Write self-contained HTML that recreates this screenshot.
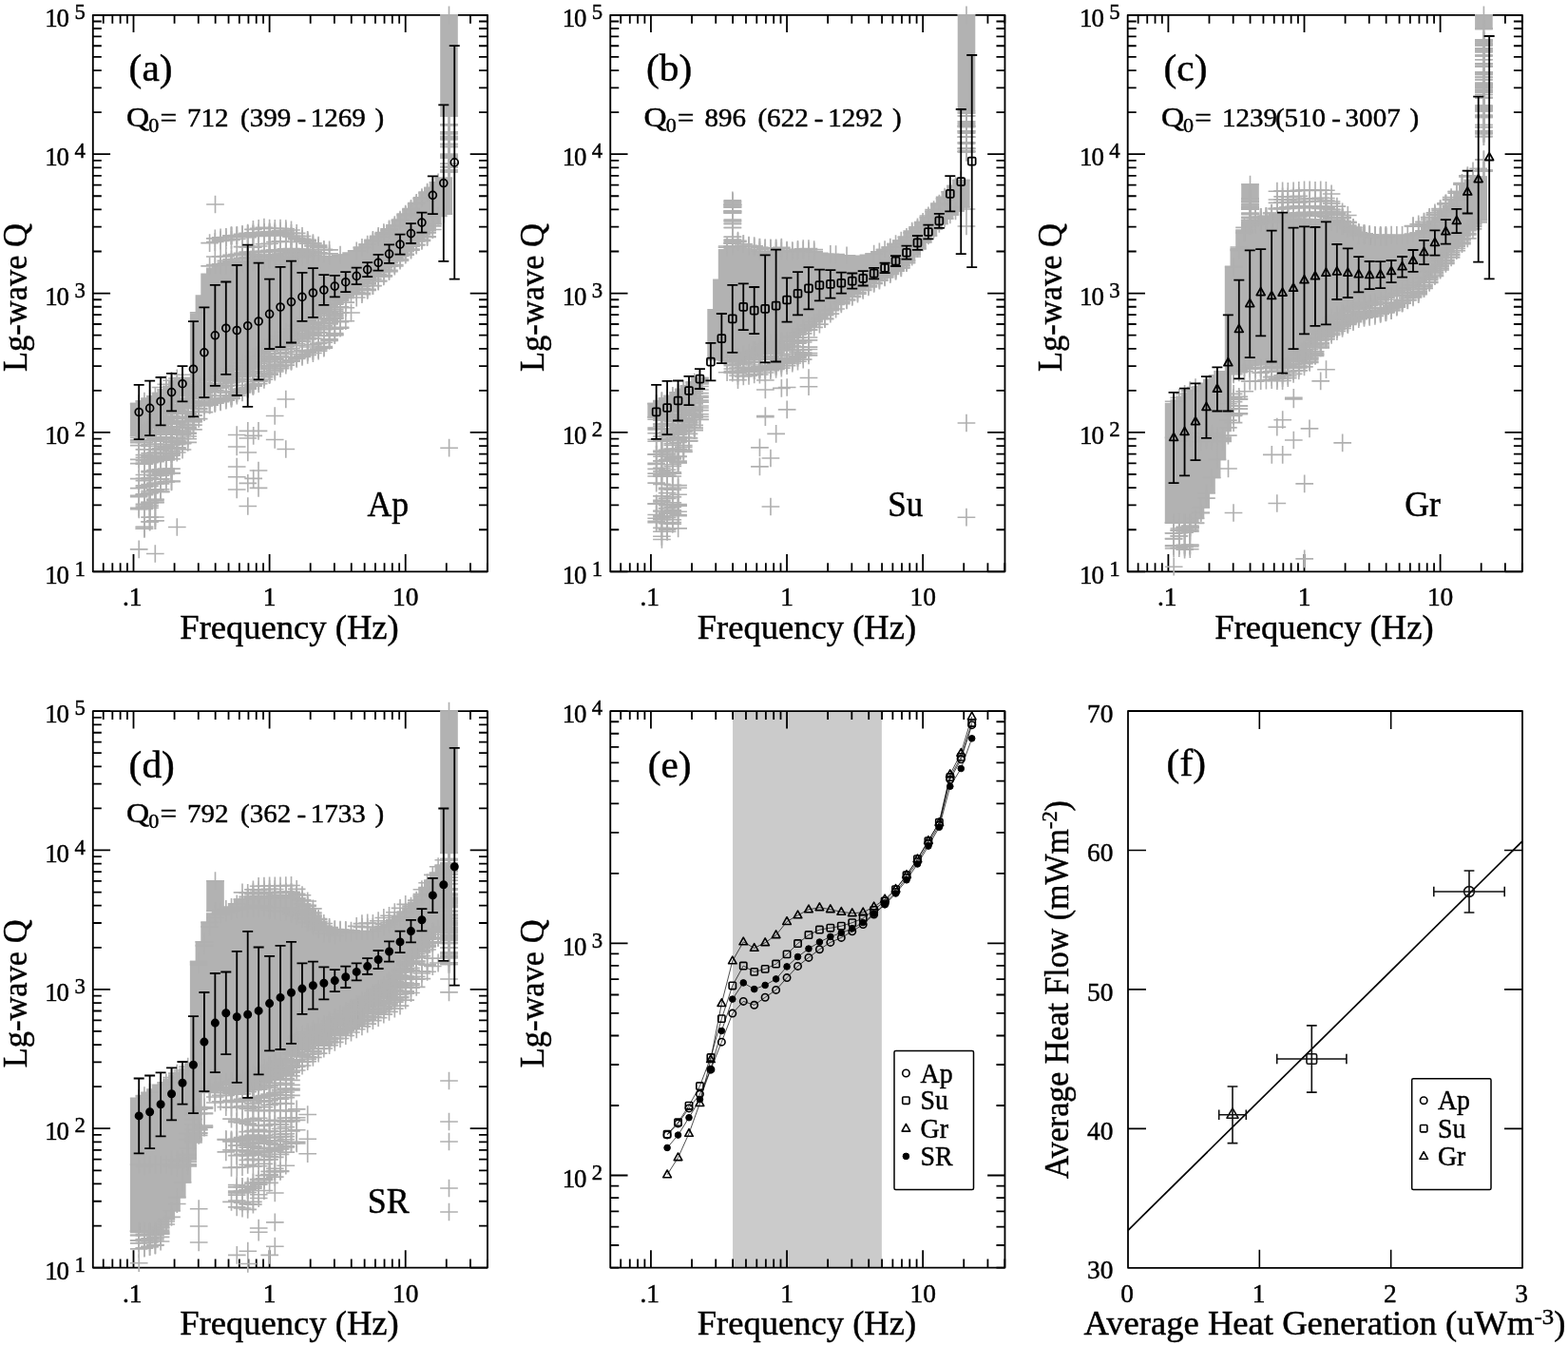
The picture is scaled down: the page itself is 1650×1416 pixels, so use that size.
<!DOCTYPE html>
<html lang="en"><head><meta charset="utf-8"><title>Lg-wave Q versus frequency</title>
<style>
html,body{margin:0;padding:0;background:#fff;}
body{width:1650px;height:1416px;overflow:hidden;font-family:"Liberation Serif",serif;}
svg{display:block;}
.k{fill:none;stroke:none;marker-start:url(#c);marker-mid:url(#c);marker-end:url(#c);}
</style></head><body>
<svg width="1650" height="1416" viewBox="0 0 1650 1416" font-family="'Liberation Serif',serif" fill="#000" stroke="#000" stroke-width="0">
<defs><marker id="c" markerWidth="20" markerHeight="20" refX="10" refY="10" markerUnits="userSpaceOnUse" orient="0"><path d="M.7 10h18.6M10 .6v18.8" stroke="#b0b0b0" stroke-width="1.65" fill="none"/></marker></defs>
<rect width="1650" height="1416" fill="#fff"/>
<g id="panel-a">
<path d="M108.75 15.8v9M108.75 601.3v-9M118.33 15.8v9M118.33 601.3v-9M126.63 15.8v9M126.63 601.3v-9M133.95 15.8v9M133.95 601.3v-9M140.5 15.8v18.3M140.5 601.3v-18.3M183.58 15.8v9M183.58 601.3v-9M208.78 15.8v9M208.78 601.3v-9M226.65 15.8v9M226.65 601.3v-9M240.52 15.8v9M240.52 601.3v-9M251.85 15.8v9M251.85 601.3v-9M261.43 15.8v9M261.43 601.3v-9M269.73 15.8v9M269.73 601.3v-9M277.05 15.8v9M277.05 601.3v-9M283.6 15.8v18.3M283.6 601.3v-18.3M326.68 15.8v9M326.68 601.3v-9M351.88 15.8v9M351.88 601.3v-9M369.75 15.8v9M369.75 601.3v-9M383.62 15.8v9M383.62 601.3v-9M394.95 15.8v9M394.95 601.3v-9M404.53 15.8v9M404.53 601.3v-9M412.83 15.8v9M412.83 601.3v-9M420.15 15.8v9M420.15 601.3v-9M426.7 15.8v18.3M426.7 601.3v-18.3M469.78 15.8v9M469.78 601.3v-9M494.98 15.8v9M494.98 601.3v-9M512.85 15.8v9M512.85 601.3v-9M97.8 601.3h18.3M513 601.3h-18.3M97.8 557.24h9M513 557.24h-9M97.8 531.46h9M513 531.46h-9M97.8 513.17h9M513 513.17h-9M97.8 498.99h9M513 498.99h-9M97.8 487.4h9M513 487.4h-9M97.8 477.6h9M513 477.6h-9M97.8 469.11h9M513 469.11h-9M97.8 461.62h9M513 461.62h-9M97.8 454.93h18.3M513 454.93h-18.3M97.8 410.86h9M513 410.86h-9M97.8 385.09h9M513 385.09h-9M97.8 366.8h9M513 366.8h-9M97.8 352.61h9M513 352.61h-9M97.8 341.02h9M513 341.02h-9M97.8 331.22h9M513 331.22h-9M97.8 322.74h9M513 322.74h-9M97.8 315.25h9M513 315.25h-9M97.8 308.55h18.3M513 308.55h-18.3M97.8 264.49h9M513 264.49h-9M97.8 238.71h9M513 238.71h-9M97.8 220.42h9M513 220.42h-9M97.8 206.24h9M513 206.24h-9M97.8 194.65h9M513 194.65h-9M97.8 184.85h9M513 184.85h-9M97.8 176.36h9M513 176.36h-9M97.8 168.87h9M513 168.87h-9M97.8 162.18h18.3M513 162.18h-18.3M97.8 118.11h9M513 118.11h-9M97.8 92.34h9M513 92.34h-9M97.8 74.05h9M513 74.05h-9M97.8 59.86h9M513 59.86h-9M97.8 48.27h9M513 48.27h-9M97.8 38.47h9M513 38.47h-9M97.8 29.99h9M513 29.99h-9M97.8 22.5h9M513 22.5h-9M97.8 15.8h18.3M513 15.8h-18.3" stroke="#000" stroke-width="1.8" fill="none"/>
<rect x="97.8" y="15.8" width="415.2" height="585.5" fill="none" stroke="#000" stroke-width="1.85" stroke-linejoin="round"/>
<path d="M136.9 423.8h18.6v35.3h-18.6zM142.6 421.2h18.6v32.1h-18.6zM148.3 418.6h18.6v29h-18.6zM154.1 416h18.6v25.9h-18.6zM159.8 412.7h18.6v23.5h-18.6zM165.5 409.3h18.6v21.2h-18.6zM171.2 405.8h18.6v18.4h-18.6zM177 401.3h18.6v15.8h-18.6zM182.7 396.7h18.6v14.1h-18.6zM199.9 329.5h18.6v73.5h-18.6zM205.6 310.3h18.6v91.1h-18.6zM211.3 287.4h18.6v112.3h-18.6zM217 281.5h18.6v116.5h-18.6zM222.8 278.9h18.6v115.8h-18.6zM228.5 278.3h18.6v113h-18.6zM234.2 277.7h18.6v110.1h-18.6zM239.9 277.2h18.6v107.9h-18.6zM245.7 276.6h18.6v105.6h-18.6zM251.4 276h18.6v103.3h-18.6zM257.1 275.5h18.6v99.7h-18.6zM262.8 275.1h18.6v95.4h-18.6zM268.6 274.6h18.6v91.1h-18.6zM274.3 274.1h18.6v87h-18.6zM280 273.6h18.6v83.7h-18.6zM285.7 273.2h18.6v80.4h-18.6zM291.5 272.7h18.6v77h-18.6zM297.2 271.7h18.6v74.6h-18.6zM302.9 270.8h18.6v72.2h-18.6zM308.6 269.8h18.6v69.8h-18.6zM314.4 268.9h18.6v67.6h-18.6zM320.1 267.9h18.6v65.7h-18.6zM325.8 268.5h18.6v62.2h-18.6zM331.5 269.4h18.6v58.4h-18.6zM337.3 269h18.6v54.9h-18.6zM343 269.1h18.6v50.8h-18.6zM348.7 269.2h18.6v46.7h-18.6zM354.4 267.6h18.6v44.9h-18.6zM360.2 265.3h18.6v43.7h-18.6zM365.9 263h18.6v39.3h-18.6zM371.6 259.6h18.6v39h-18.6zM377.3 256.2h18.6v38.9h-18.6zM383.1 252.7h18.6v38.7h-18.6zM388.8 248.9h18.6v38.4h-18.6zM394.5 245.1h18.6v37.2h-18.6zM400.2 241.3h18.6v36h-18.6zM406 237.4h18.6v34.9h-18.6zM411.7 231.5h18.6v35.7h-18.6zM417.4 225.6h18.6v36.3h-18.6zM423.1 219.7h18.6v37.3h-18.6zM428.9 213.8h18.6v38.4h-18.6zM434.6 208.1h18.6v39.4h-18.6zM440.3 202.4h18.6v40.9h-18.6zM446 196.7h18.6v39.7h-18.6zM451.8 191h18.6v37.1h-18.6zM457.5 186.5h18.6v39.4h-18.6zM463.2 15h18.6v107.8h-18.6z" fill="#b2b2b2" stroke="none"/>
<path class="k" d="M169.1 407.5l5.7-3.2l5.7-4M186.3 398l5.7-3.7M146.2 460.3l5.7-5.7l5.7-5.8M260.7 270.2l5.7 .1l5.8 .1l5.7-1.1l5.7-1.2l5.7 .3l5.7-1.3l5.8-.9l5.7-.8l5.7-.5l5.8-.1l5.7-.2l5.7-2.1M277.9 273.9l5.7-.5l5.7 .1l5.7 .1l5.8-1l5.7-.4l5.7-1l5.8-.9M260.7 379l5.7-3.9l5.8-4.4l5.7-5.4l5.7-4.5l5.7-3.8l5.7-3.8l5.8-3.9l5.7-3.4l5.7-3.3l5.8-3.4l5.7-3.1l5.7-2.9l5.7-2.8l5.7-2.9l5.8-4l5.7-3.4M209.2 404.8l5.7-1.9l5.7-2.6l5.7-1l5.8-3.9l5.7-4l5.7-3.2l5.8-3.1l5.7-3.2l5.7-2.3l5.7-3.8l5.8-5.3l5.7-3.2M220.6 406.2l5.7-2.3l5.8-3l5.7-2.7l5.7-3l5.8-3.5l5.7-2.6l5.7-2.4l5.7-4.5l5.8-4.9l5.7-5.4l5.7-4.6l5.7-3.7l5.7-5l5.8-3.4M392.4 252.3l5.7-3.9l5.7-3.8l5.7-3.7l5.8-4.2l5.7-5.6l5.7-6l5.8-5.6l5.7-6l5.7-5.8l5.7-5.6M415.3 273.7l5.7-5.2l5.7-5l5.8-5l5.7-5.2l5.7-4.5l5.7-4.3l5.7-6.7M472.5 145.9h0M472.5 143.6h0M472.5 175.4h0M472.5 145.1h0M472.5 131.7h0M472.5 180.8h0M472.5 151.6h0M472.5 154.4h0M472.5 176h0M472.5 140.7h0M472.5 146.6h0M472.5 130.7h0M472.5 164.7h0M472.5 164.6h0M472.5 166.1h0M472.5 138.9h0M472.5 172.2h0M472.5 178.9h0M472.5 162.3h0M472.5 163.6h0M283.6 263.2l5.7 .3l5.7 .4l5.8-2l5.7-.4l5.7 .5l5.8 0l5.7 .8l5.7 1.7l5.7 1.3M220.6 255.6l5.7-1.1l5.8-1.1l5.7-.8l5.7-.2l5.8-.9l5.7-2.1l5.7 .4l5.7-1.9l5.8 .5l5.7-1.5l5.7-.2l5.7 1.1l5.7-1l5.8-.6l5.7 2.3l5.7 3.1l5.8 2.9M226.3 270l5.8-.3l5.7-.1l5.7-1.2l5.8-.7l5.7 .2l5.7-.7l5.7-1.9l5.8-.6l5.7 .6l5.7-1.4l5.7 0l5.7 .7l5.8 .1l5.7 0l5.7-.6l5.8-.4l5.7 .7l5.7 .4l5.7 .9l5.7 1.3l5.8-.2M266.4 241.3l5.8-1l5.7-1.1l5.7 1l5.7 .1l5.7-.1l5.8 .5l5.7 1.3l5.7 3.3l5.8 3.2l5.7 3.8l5.7 3.4l5.7 2.4M255 259.6l5.7 .4l5.7 .1l5.8-1.1l5.7-2.3l5.7-.5l5.7-1.7l5.7-.6l5.8 .6M243.5 276.9l5.8 .2l5.7-1l5.7-.9l5.7 0l5.8-1.6l5.7 .5M243.5 248.1l5.8-.5l5.7 .1l5.7-2.5l5.7-.4l5.8 .1l5.7-.5l5.7-.1l5.7 .9l5.7-.3l5.8-.9l5.7 1.4l5.7 2.9l5.8 2.9l5.7 2.3M232.1 277.7l5.7-1.3l5.7-1.1l5.8 .7l5.7-1.6l5.7 .9l5.7 .3l5.8-2l5.7-1.5l5.7 .2l5.7-1.5l5.7-1.6l5.8 .5l5.7-.6l5.7 .3l5.8-1.1l5.7-.2M255 266.3l5.7-1.1l5.7 .4l5.8-1.1l5.7 0l5.7-.1l5.7-1.1M220.6 279.9l5.7-1.3l5.8 .5l5.7-.1l5.7-.5l5.8-.5l5.7-.7l5.7-1.6l5.7-1.3l5.8-1.1l5.7-.7l5.7 .5l5.7-.1l5.7-1.5l5.8 .2l5.7-1.5l5.7-1l5.8-.3l5.7-.1l5.7-.1M277.9 246.7l5.7 1l5.7-1.2l5.7-.2l5.8 .7l5.7 1.6l5.7 1.7l5.8 1.9l5.7 2.8l5.7 2l5.7 2.9l5.7 2.7l5.8 .2M237.8 274.4l5.7-1.5l5.8-.2l5.7-1l5.7 .4l5.7-1.3l5.8-1.6l5.7 .5l5.7-1.3l5.7 .9l5.7-1.6l5.8-.8l5.7 .1l5.7-.2l5.8 0l5.7-.2l5.7 .1M232.1 252.1l5.7-2.6l5.7-1.4l5.8-.2l5.7-.3l5.7-1.4l5.7 .8l5.8-.3l5.7-1.3l5.7 .5l5.7 .1l5.7 0l5.8-.3l5.7 3.2l5.7 2.4l5.8 2.4l5.7 2.5l5.7 2.7l5.7 1.4l5.7 2.3M255 268.1l5.7 .1l5.7-.3l5.8-2.2l5.7-1.2l5.7-.7l5.7-.6l5.7 0l5.8-.4l5.7 .5l5.7 1.3M226.3 250.8l5.8-.9l5.7-.2l5.7-2l5.8 .1l5.7-1.5l5.7 .4l5.7-.2l5.8-1.3l5.7-.8l5.7-.5l5.7-.3l5.7-.7l5.8-.2M249.2 394.8l5.8-2.8l5.7-3.5l5.7-3.3l5.8-5.1l5.7-5.8l5.7-4.8l5.7-4.7l5.7-4.2l5.8-2.4l5.7-3.3l5.7-1.7l5.8-2.4l5.7-4.3l5.7-.9l5.7-1.3l5.7-4.3l5.8-3.8l5.7-5.4M209.2 414.6l5.7-2.3l5.7-.4l5.7-.4l5.8-3.6l5.7-1.7l5.7-3.7l5.8-2.3l5.7-4.1l5.7-2.9l5.7-4.7l5.8-3l5.7-4.6l5.7-5.1l5.7-3.9l5.7-4.5l5.8-3.6l5.7-2.5l5.7-2.4l5.8-2.5l5.7-3.2l5.7-1.5l5.7-1.5l5.7-3.9l5.8-6l5.7-6.2l5.7-5l5.8-5.3M237.8 399.6l5.7-2.7l5.8-2.2l5.7-2.4l5.7-3.9l5.7-4.4l5.8-5.1l5.7-3l5.7-4.3l5.7-3.5l5.7-4.8l5.8-3.2l5.7-2.9l5.7-4.8l5.8-3.7l5.7-4.1l5.7-3.5l5.7-2.8l5.7-2.6M209.2 423.3l5.7-1.1l5.7-1.7l5.7-1.3l5.8-3.1l5.7-2.9l5.7-1.7l5.8-2l5.7-4.1l5.7-3.7l5.7-2.6l5.8-3.6l5.7-3.3l5.7-5l5.7-4l5.7-4.4l5.8-2.8l5.7-3.5l5.7-2.5l5.8-1.5l5.7-3.5l5.7-2.1l5.7-1.5l5.7-1.1l5.8-7.1l5.7-7l5.7-7.5M220.6 423.8l5.7-1.1l5.8-1.5l5.7-2.6l5.7-1.8l5.8-4.4l5.7-3.3l5.7-1.6l5.7-3.4l5.8-3.5M220.6 412.5l5.7-2.1l5.8-2.9l5.7-2l5.7-3.1l5.8-3.7l5.7-2l5.7-2.6l5.7-2.5l5.8-3.3l5.7-3.4l5.7-4.9l5.7-3.3l5.7-4.9l5.8-4.6l5.7-3.7l5.7-1.8l5.8-2.2l5.7-4l5.7-3l5.7-3l5.7-2.8l5.8-5.7l5.7-5.5M243.5 393.5l5.8-2l5.7-2.9l5.7-3.9l5.7-3.2l5.8-3.7l5.7-5.4l5.7-5.9l5.7-3.6l5.7-3.6l5.8-3.5l5.7-2l5.7-3.1l5.8-2.6l5.7-4.7l5.7-2.6l5.7-1.8l5.7-4.3l5.8-5.8l5.7-3.5M232.1 420.2l5.7-1.5l5.7-2.6l5.8-2.3l5.7-2.9l5.7-1.9l5.7-4.2l5.8-4.1l5.7-4.4l5.7-3M295 364.7l5.8-3.2l5.7-2.8l5.7-2.2l5.8-3.9l5.7-2.2l5.7-2.4l5.7-1.8l5.7-2.2l5.8-4.8l5.7-4.8M237.8 421.1l5.7-1.7l5.8-3.3l5.7-3.2l5.7-3.9l5.7-2.7l5.8-2.6l5.7-4.4l5.7-5l5.7-4.6l5.7-3.8l5.8-4.2l5.7-1.4l5.7-4.2l5.8-3.3l5.7-3.3l5.7-1.1l5.7-.8l5.7-3l5.8-7.7l5.7-6.3l5.7-6.2M226.3 423l5.8-2.5l5.7-2l5.7-2l5.8-2.9l5.7-2.8l5.7-3l5.7-2.4l5.8-4.4M214.9 426.9l5.7-1.3l5.7-1.6l5.8-1.2l5.7-2.2l5.7-2l5.8-4.3l5.7-2l5.7-3.4l5.7-4.4l5.8-4.9l5.7-2.9l5.7-2.5l5.7-3.2l5.7-3.4l5.8-3.5l5.7-4.8l5.7-1.9l5.8-2.1l5.7-1.9l5.7-1.9l5.7-2.3l5.7-3.5l5.8-7.3l5.7-5.8l5.7-7.5l5.8-7.4l5.7-8.7M214.9 426.4l5.7-.2l5.7-1.9l5.8-2.3l5.7-3.4l5.7-1.6l5.8-4.3l5.7-1.8l5.7-2l5.7-2.8l5.8-5.3l5.7-4.6l5.7-3.2l5.7-5l5.7-3.7l5.8-3.7l5.7-1.6l5.7-2.8l5.8-2l5.7-3.4l5.7-1.3l5.7-2.5l5.7-.9l5.8-8.4l5.7-5.8M255 388.1l5.7-1.7l5.7-2.9l5.8-5.5l5.7-5l5.7-4.4l5.7-2.6l5.7-3.7l5.8-5.5l5.7-4.7l5.7-4.1l5.8-2.4l5.7-2.3l5.7-1.9l5.7-1.8l5.7-4.2l5.8-4.7l5.7-3.6l5.7-4.2l5.8-4.8M209.2 411.3l5.7-1.1l5.7-1.3l5.7-.9l5.8-4.1l5.7-3l5.7-2.1l5.8-2.7l5.7-2.1l5.7-2.8l5.7-4.4M277.9 368.6l5.7-5.1l5.7-2.6l5.7-3.9l5.8-3.4l5.7-4.2l5.7-2.5l5.8-4.8l5.7-4.2l5.7-3.8l5.7-1.9l5.7-1.9l5.8-5.1M209.2 412.6l5.7-2.5l5.7 0l5.7-1.6l5.8-2.1l5.7-3.4l5.7-2.1l5.8-1.9l5.7-4.1l5.7-3.8l5.7-4.6l5.8-3.7l5.7-4.3l5.7-3l5.7-3.6l5.7-3.4l5.8-3.8l5.7-4l5.7-2.5l5.8-4.1l5.7-1.5l5.7-2.7l5.7-3.5l5.7-3.6l5.8-5.6l5.7-5.1M266.4 393.6l5.8-3.4l5.7-4.2l5.7-5.4l5.7-3.2l5.7-2.8l5.8-4.1l5.7-3.9l5.7-3.3l5.8-4.3l5.7-2l5.7-.9l5.7-2.6M375.2 313l5.7-4.8l5.8-3.9l5.7-3.8l5.7-5.1l5.7-5.5l5.7-5.6l5.8-5.7l5.7-5.8l5.7-5.4l5.8-5.3l5.7-4.8l5.7-4.9l5.7-3.7M398.1 289.7l5.7-5.2l5.7-5.5l5.8-4.8l5.7-4.9l5.7-5.4l5.8-5l5.7-5.3l5.7-4.5l5.7-4.1l5.7-3.5M380.9 301.1l5.8-3.6l5.7-4.3l5.7-4.5l5.7-5.3l5.7-4.5l5.8-4.8l5.7-5.2l5.7-5.6l5.8-4.8l5.7-4.8M375.2 307.2l5.7-4l5.8-4.3l5.7-3.7l5.7-4.6l5.7-5.2l5.7-5.3l5.8-5.5l5.7-5.3l5.7-5l5.8-5.3M380.9 309.7l5.8-4.3l5.7-4.7l5.7-4.7l5.7-5.1l5.7-5.3l5.8-5.6l5.7-5.8l5.7-6.1l5.8-4.9l5.7-5.2l5.7-4.7l5.7-3.8M151.9 487.4l5.7-2l5.8-2l5.7-2.3l5.7-.2M197.7 429.8l5.8-4.9l5.7-5.7l5.7-3.2M146.2 468.6l5.7-3.2l5.7-5.3l5.8-2.8l5.7-2.4l5.7-4.8l5.7-7.1l5.8-3.3l5.7-5.6M146.2 483.4l5.7-2.1l5.7-1.6l5.8-3.6l5.7-2.8l5.7-2.7l5.7-5.6l5.8-4.3l5.7-5.5l5.7-8.7l5.8-9.6l5.7-7.3M151.9 456.2l5.7-5.8l5.8-5.7l5.7-5.5l5.7-6.8l5.7-2.5l5.8-3.6l5.7-6.1l5.7-4.9l5.8-2.8l5.7-4.8l5.7-2.3M163.4 484.5l5.7-.3l5.7-.3l5.7-1.1l5.8-6.8l5.7-3l5.7-7.7M180.5 426.9l5.8-5.7l5.7-7.2l5.7-1.7l5.8-.8l5.7-4.6l5.7-.9M146.2 465.6l5.7-5.5l5.7-3.6l5.8-3.2l5.7-6.1l5.7-5.4l5.7-3.4l5.8-6.8l5.7-3.4l5.7-4.2l5.8-5.6l5.7-5.9M163.4 483.1l5.7-.7l5.7-1.8l5.7-4l5.8-5.7M146.2 487.6l5.7-3l5.7-2.7l5.8-.2l5.7-1.4l5.7-3.2l5.7-2.5l5.8-7l5.7-2M169.1 461.1l5.7-6.2l5.7-3.8l5.8-5l5.7-5.6l5.7-5.4l5.8-7.7l5.7-4.2l5.7-5.3M146.2 463.9l5.7-3.6l5.7-3.1l5.8-7.1l5.7-5l5.7-3.8l5.7-5.8l5.8-3.5l5.7-5.9l5.7-6.7l5.8-3.7M174.8 467.6l5.7-5.9l5.8-5.6l5.7-2.8l5.7-5.9l5.8-6.3l5.7-8M151.9 472.9l5.7-3.4l5.8-2.4l5.7-3l5.7-4.4l5.7-2.8l5.8-3.9l5.7-6.6l5.7-5.9M157.6 483.7l5.8-1.2l5.7-.7l5.7-1.5l5.7-1.2l5.8-6.8l5.7-6.5l5.7-9.6l5.8-9M157.6 467.8l5.8-5.8l5.7-5.3l5.7-4.9l5.7-3.1l5.8-4.4l5.7-3.8l5.7-5.2M174.8 432l5.7-4.8l5.8-5.5l5.7-6.9l5.7-3.3l5.8-4.3l5.7-1.1l5.7-1.9M186.3 432.1l5.7-5.4l5.7-5.1l5.8-5l5.7-2.1M169.1 439.8l5.7-7.5l5.7-5.8l5.8-4.4l5.7-8.3l5.7-4.9l5.8-.3l5.7-3.9M163.4 462.4l5.7-2.1l5.7-3.5l5.7-4l5.8-3.7l5.7-5.8l5.7-8M151.9 457.3l5.7-3.6l5.8-5.9l5.7-6l5.7-2.9l5.7-5.1l5.8-8.4l5.7-6l5.7-3.5l5.8-5.2l5.7-3.3l5.7-.5M151.9 487.6l5.7-2.1l5.8-.4l5.7-2.4l5.7-.5l5.7-4.6l5.8-5.5l5.7-6.2l5.7-6.9M163.4 449.7l5.7-3.9l5.7-5.3l5.7-5.4l5.8-5.1l5.7-7.4M163.4 463.7l5.7-2.5l5.7-4l5.7-5.1l5.8-7.2l5.7-6l5.7-5.9l5.8-5.6l5.7-4.1M174.8 469.8l5.7-2l5.8-3.4l5.7-6.9l5.7-8.1l5.8-6.8M146.2 462.5l5.7-4.1l5.7-5.7l5.8-6.2l5.7-3.4l5.7-4.6l5.7-6.6l5.8-5.1l5.7-5.9l5.7-6l5.8-3l5.7-4.4l5.7-1.9M174.8 452.2l5.7-3.1l5.8-6.4l5.7-3.8l5.7-4.9l5.8-7.7l5.7-6.7l5.7-4M163.4 476.7l5.7-3.1l5.7-4.3l5.7-3.7l5.8-3.8l5.7-6.5l5.7-4.6l5.8-7.6M169.1 462.4l5.7-5.7l5.7-2.2l5.8-5M174.8 449.3l5.7-3.8l5.8-7.3l5.7-5.2l5.7-5.4M157.6 448.8l5.8-4.6l5.7-6.6l5.7-3.3l5.7-7.2l5.8-4.2l5.7-6.6M157.6 480.5l5.8-1.4l5.7-2.9l5.7-3.8l5.7-1.8l5.8-6.3l5.7-3l5.7-5.9l5.8-11.6M151.9 488.1l5.7-1.4l5.8-1.1l5.7-1.6l5.7-2.2l5.7-3.8l5.8-6.6l5.7-4.7l5.7-4.9l5.8-9.9l5.7-11.2l5.7-7.1M169.1 444.8l5.7-2.9l5.7-7.6l5.8-4.3l5.7-6.9l5.7-6.4l5.8-4.8l5.7-2.5M151.9 478.6l5.7-1.7l5.8-3.7l5.7-1.3M192 413.8l5.7-3.7l5.8-2.5l5.7-3.5l5.7-.4M163.4 453.5l5.7-6.5l5.7-3.9l5.7-5l5.8-6.2l5.7-4.8M169.1 472.2l5.7-1.1l5.7-3.2l5.8-4.1l5.7-7l5.7-9.3l5.8-10.2l5.7-6.5l5.7-6.5M163.4 462.2l5.7-5.6l5.7-3.3l5.7-4.5l5.8-5M186.3 440.3l5.7-6.3l5.7-5.8l5.8-6.1l5.7-4.6l5.7-3.9M151.9 456.4l5.7-6.3l5.8-4.1l5.7-5.6l5.7-4.8M151.9 499.5l5.7-2.7l5.8-1.8l5.7-1.1l5.7-.9M151.9 512.3l5.7-.9l5.8-3.3l5.7-4.2l5.7-5.7l5.7-.7M146.2 503.6l5.7-.2l5.7-.6l5.8-3.1l5.7-2.9l5.7-2.3l5.7-1.4M169.1 498.7l5.7-2.9M157.6 532.1l5.8-3.7l5.7-11M146.2 535.8l5.7-.3l5.7-1.2l5.8-5.5l5.7-11.3l5.7-10.6l5.7-.1M146.2 513.6l5.7-2.7l5.7-1.2l5.8-.8l5.7-4.9l5.7-5.7l5.7-.5M169.1 503.8l5.7-5l5.7-.8M151.9 530.4l5.7-2.1l5.8-2.8M151.9 532l5.7-3.5l5.8-3.3l5.7-10.4M151.9 520.8l5.7-2.4l5.8-2.5M146.2 522.6l5.7-2.7l5.7-3.2M151.9 505.7l5.7-1.9l5.8-3.2l5.7-3.1M146.2 521.4l5.7-1.2l5.7-1.5l5.8-3.8l5.7-6M146.2 534.3l5.7-.7l5.7-3.9l5.8-2.9l5.7-9.5l5.7-10.8l5.7-.4M169.1 500.1l5.7-3.7M157.6 495.6l5.8-1l5.7-.8M151.9 554.2l5.7-5.5l5.8-1M151.9 554.5l5.7-5.5l5.8-1.3M151.9 556.2h0M157.6 544.1l5.8-.1"/>
<path d="M136.85 424.59h18.7M146.2 415.24v18.7M136.85 458.3h18.7M146.2 448.95v18.7M142.57 422.04h18.7M151.92 412.69v18.7M142.57 452.58h18.7M151.92 443.23v18.7M148.3 419.44h18.7M157.65 410.09v18.7M148.3 446.85h18.7M157.65 437.5v18.7M154.03 416.84h18.7M163.38 407.49v18.7M154.03 441.13h18.7M163.38 431.78v18.7M159.75 413.52h18.7M169.1 404.17v18.7M159.75 435.4h18.7M169.1 426.05v18.7M165.47 410.09h18.7M174.82 400.74v18.7M165.47 429.68h18.7M174.82 420.33v18.7M171.2 406.63h18.7M180.55 397.28v18.7M171.2 423.39h18.7M180.55 414.04v18.7M176.92 402.05h18.7M186.27 392.7v18.7M176.92 416.23h18.7M186.27 406.88v18.7M182.65 397.47h18.7M192 388.12v18.7M182.65 409.97h18.7M192 400.62v18.7M199.82 328.9h18.7M209.17 319.55v18.7M211.28 399h18.7M220.62 389.65v18.7M222.72 395.72h18.7M232.07 386.37v18.7M228.45 278.42h18.7M237.8 269.07v18.7M228.45 390.52h18.7M237.8 381.17v18.7M234.17 276.59h18.7M243.52 267.24v18.7M234.17 388.75h18.7M243.52 379.4v18.7M239.9 385h18.7M249.25 375.65v18.7M251.35 275.14h18.7M260.7 265.79v18.7M251.35 378.83h18.7M260.7 369.48v18.7M257.07 276.14h18.7M266.42 266.79v18.7M257.07 376.49h18.7M266.42 367.14v18.7M262.8 273.08h18.7M272.15 263.73v18.7M262.8 370.79h18.7M272.15 361.44v18.7M268.52 366.59h18.7M277.88 357.24v18.7M274.25 272.88h18.7M283.6 263.53v18.7M274.25 361.27h18.7M283.6 351.92v18.7M279.97 273.2h18.7M289.32 263.85v18.7M285.7 271.83h18.7M295.05 262.48v18.7M285.7 354.1h18.7M295.05 344.75v18.7M297.15 270.99h18.7M306.5 261.64v18.7M302.87 343.28h18.7M312.22 333.93v18.7M308.6 267.64h18.7M317.95 258.29v18.7M308.6 341.38h18.7M317.95 332.03v18.7M320.05 333.35h18.7M329.4 324v18.7M331.5 327.49h18.7M340.85 318.14v18.7M337.22 269.72h18.7M346.57 260.37v18.7M342.95 319.25h18.7M352.3 309.9v18.7M348.67 268.13h18.7M358.02 258.78v18.7M348.67 316.23h18.7M358.02 306.88v18.7M354.4 313.45h18.7M363.75 304.1v18.7M360.12 309.41h18.7M369.47 300.06v18.7M365.85 263.82h18.7M375.2 254.47v18.7M365.85 301.5h18.7M375.2 292.15v18.7M371.57 260.43h18.7M380.92 251.08v18.7M371.57 297.88h18.7M380.92 288.53v18.7M377.3 257h18.7M386.65 247.65v18.7M377.3 294.25h18.7M386.65 284.9v18.7M383.02 253.52h18.7M392.38 244.17v18.7M383.02 290.62h18.7M392.38 281.27v18.7M388.75 249.73h18.7M398.1 240.38v18.7M388.75 286.56h18.7M398.1 277.21v18.7M394.47 245.94h18.7M403.82 236.59v18.7M394.47 281.53h18.7M403.82 272.18v18.7M400.2 242.15h18.7M409.55 232.8v18.7M400.2 276.5h18.7M409.55 267.15v18.7M405.92 238.16h18.7M415.27 228.81v18.7M405.92 271.47h18.7M415.27 262.12v18.7M411.65 232.28h18.7M421 222.93v18.7M411.65 266.41h18.7M421 257.06v18.7M417.37 226.4h18.7M426.72 217.05v18.7M417.37 261.1h18.7M426.72 251.75v18.7M423.1 220.52h18.7M432.45 211.17v18.7M423.1 256.27h18.7M432.45 246.92v18.7M428.82 214.64h18.7M438.17 205.29v18.7M428.82 251.44h18.7M438.17 242.09v18.7M434.55 208.9h18.7M443.9 199.55v18.7M434.55 246.75h18.7M443.9 237.4v18.7M440.27 203.18h18.7M449.62 193.83v18.7M440.27 242.45h18.7M449.62 233.1v18.7M446 197.45h18.7M455.35 188.1v18.7M446 235.56h18.7M455.35 226.21v18.7M451.72 191.77h18.7M461.07 182.42v18.7M451.72 227.3h18.7M461.07 217.95v18.7M457.45 187.27h18.7M466.8 177.92v18.7M457.45 225.07h18.7M466.8 215.72v18.7M463.15 15.8h18.7M472.5 6.45v18.7M463.15 122h18.7M472.5 112.65v18.7M136.85 577.8h18.7M146.2 568.45v18.7M153.95 582.5h18.7M163.3 573.15v18.7M176.95 554.5h18.7M186.3 545.15v18.7M217.15 215h18.7M226.5 205.65v18.7M239.85 457.5h18.7M249.2 448.15v18.7M239.85 470h18.7M249.2 460.65v18.7M251.45 453.3h18.7M260.8 443.95v18.7M251.45 461h18.7M260.8 451.65v18.7M251.45 476h18.7M260.8 466.65v18.7M257.35 458.3h18.7M266.7 448.95v18.7M262.65 453.3h18.7M272 443.95v18.7M279.85 437.5h18.7M289.2 428.15v18.7M279.85 462.5h18.7M289.2 453.15v18.7M291.45 472.5h18.7M300.8 463.15v18.7M291.45 420h18.7M300.8 410.65v18.7M239.85 491h18.7M249.2 481.65v18.7M262.65 495h18.7M272 485.65v18.7M239.85 501.7h18.7M249.2 492.35v18.7M257.35 503.3h18.7M266.7 493.95v18.7M251.45 508.3h18.7M260.8 498.95v18.7M262.65 513.3h18.7M272 503.95v18.7M239.85 515h18.7M249.2 505.65v18.7M251.45 532.5h18.7M260.8 523.15v18.7M463.25 471.2h18.7M472.6 461.85v18.7M463.15 15.8h18.7M472.5 6.45v18.7" stroke="#b0b0b0" stroke-width="1.65" fill="none"/>
<path d="M146.2 404.8V462.2M140.7 404.8h11M140.7 462.2h11M157.65 400.6V458.2M152.15 400.6h11M152.15 458.2h11M169.1 397V447.4M163.6 397h11M163.6 447.4h11M180.55 392.9V432.3M175.05 392.9h11M175.05 432.3h11M192 385.1V422.3M186.5 385.1h11M186.5 422.3h11M203.45 338.1V438.3M197.95 338.1h11M197.95 438.3h11M214.9 323.4V418.2M209.4 323.4h11M209.4 418.2h11M226.35 299.8V405.8M220.85 299.8h11M220.85 405.8h11M237.8 296.5V393.9M232.3 296.5h11M232.3 393.9h11M249.25 279V416M243.75 279h11M243.75 416h11M260.7 257.6V427.8M255.2 257.6h11M255.2 427.8h11M272.15 276.7V399.3M266.65 276.7h11M266.65 399.3h11M283.6 293.6V367M278.1 293.6h11M278.1 367h11M295.05 280.8V365.2M289.55 280.8h11M289.55 365.2h11M306.5 274.7V360.5M301 274.7h11M301 360.5h11M317.95 286.9V337.9M312.45 286.9h11M312.45 337.9h11M329.4 282.1V333.9M323.9 282.1h11M323.9 333.9h11M340.85 289.2V320.8M335.35 289.2h11M335.35 320.8h11M352.3 289.9V312.3M346.8 289.9h11M346.8 312.3h11M363.75 286.2V307.2M358.25 286.2h11M358.25 307.2h11M375.2 281.6V299.2M369.7 281.6h11M369.7 299.2h11M386.65 276.1V291.1M381.15 276.1h11M381.15 291.1h11M398.1 267.9V284.7M392.6 267.9h11M392.6 284.7h11M409.55 257.3V276.9M404.05 257.3h11M404.05 276.9h11M421 246.6V267.6M415.5 246.6h11M415.5 267.6h11M432.45 235.2V256M426.95 235.2h11M426.95 256h11M443.9 223.6V244.6M438.4 223.6h11M438.4 244.6h11M455.35 185.4V225.2M449.85 185.4h11M449.85 225.2h11M466.8 110.3V274.9M461.3 110.3h11M461.3 274.9h11M478.25 48.2V293.6M472.75 48.2h11M472.75 293.6h11" stroke="#000" stroke-width="1.8" fill="none"/>
<circle cx="146.2" cy="433.5" r="3.95" fill="none" stroke="#000" stroke-width="1.75"/><circle cx="157.65" cy="429.4" r="3.95" fill="none" stroke="#000" stroke-width="1.75"/><circle cx="169.1" cy="422.2" r="3.95" fill="none" stroke="#000" stroke-width="1.75"/><circle cx="180.55" cy="412.6" r="3.95" fill="none" stroke="#000" stroke-width="1.75"/><circle cx="192" cy="403.7" r="3.95" fill="none" stroke="#000" stroke-width="1.75"/><circle cx="203.45" cy="388.2" r="3.95" fill="none" stroke="#000" stroke-width="1.75"/><circle cx="214.9" cy="370.8" r="3.95" fill="none" stroke="#000" stroke-width="1.75"/><circle cx="226.35" cy="352.8" r="3.95" fill="none" stroke="#000" stroke-width="1.75"/><circle cx="237.8" cy="345.2" r="3.95" fill="none" stroke="#000" stroke-width="1.75"/><circle cx="249.25" cy="347.5" r="3.95" fill="none" stroke="#000" stroke-width="1.75"/><circle cx="260.7" cy="342.7" r="3.95" fill="none" stroke="#000" stroke-width="1.75"/><circle cx="272.15" cy="338" r="3.95" fill="none" stroke="#000" stroke-width="1.75"/><circle cx="283.6" cy="330.3" r="3.95" fill="none" stroke="#000" stroke-width="1.75"/><circle cx="295.05" cy="323" r="3.95" fill="none" stroke="#000" stroke-width="1.75"/><circle cx="306.5" cy="317.6" r="3.95" fill="none" stroke="#000" stroke-width="1.75"/><circle cx="317.95" cy="312.4" r="3.95" fill="none" stroke="#000" stroke-width="1.75"/><circle cx="329.4" cy="308" r="3.95" fill="none" stroke="#000" stroke-width="1.75"/><circle cx="340.85" cy="305" r="3.95" fill="none" stroke="#000" stroke-width="1.75"/><circle cx="352.3" cy="301.1" r="3.95" fill="none" stroke="#000" stroke-width="1.75"/><circle cx="363.75" cy="296.7" r="3.95" fill="none" stroke="#000" stroke-width="1.75"/><circle cx="375.2" cy="290.4" r="3.95" fill="none" stroke="#000" stroke-width="1.75"/><circle cx="386.65" cy="283.6" r="3.95" fill="none" stroke="#000" stroke-width="1.75"/><circle cx="398.1" cy="276.3" r="3.95" fill="none" stroke="#000" stroke-width="1.75"/><circle cx="409.55" cy="267.1" r="3.95" fill="none" stroke="#000" stroke-width="1.75"/><circle cx="421" cy="257.1" r="3.95" fill="none" stroke="#000" stroke-width="1.75"/><circle cx="432.45" cy="245.6" r="3.95" fill="none" stroke="#000" stroke-width="1.75"/><circle cx="443.9" cy="234.1" r="3.95" fill="none" stroke="#000" stroke-width="1.75"/><circle cx="455.35" cy="205.3" r="3.95" fill="none" stroke="#000" stroke-width="1.75"/><circle cx="466.8" cy="192.6" r="3.95" fill="none" stroke="#000" stroke-width="1.75"/><circle cx="478.25" cy="170.9" r="3.95" fill="none" stroke="#000" stroke-width="1.75"/>
<text transform="translate(47.2 613.5) scale(0.960 1)" font-size="28" letter-spacing="-1.2" stroke-width="0.45">10</text>
<text transform="translate(78.4 605.5) scale(0.950 1)" font-size="24" stroke-width="0.45">1</text>
<text transform="translate(47.2 467.12) scale(0.960 1)" font-size="28" letter-spacing="-1.2" stroke-width="0.45">10</text>
<text transform="translate(78.4 459.12) scale(0.950 1)" font-size="24" stroke-width="0.45">2</text>
<text transform="translate(47.2 320.75) scale(0.960 1)" font-size="28" letter-spacing="-1.2" stroke-width="0.45">10</text>
<text transform="translate(78.4 312.75) scale(0.950 1)" font-size="24" stroke-width="0.45">3</text>
<text transform="translate(47.2 174.38) scale(0.960 1)" font-size="28" letter-spacing="-1.2" stroke-width="0.45">10</text>
<text transform="translate(78.4 166.38) scale(0.950 1)" font-size="24" stroke-width="0.45">4</text>
<text transform="translate(47.2 28) scale(0.960 1)" font-size="28" letter-spacing="-1.2" stroke-width="0.45">10</text>
<text transform="translate(78.4 20) scale(0.950 1)" font-size="24" stroke-width="0.45">5</text>
<text transform="translate(139.3 637.3) scale(0.980 1)" font-size="28" text-anchor="middle" stroke-width="0.45">.1</text>
<text transform="translate(283.6 637.3) scale(0.980 1)" font-size="28" text-anchor="middle" stroke-width="0.45">1</text>
<text transform="translate(426.7 637.3) scale(0.980 1)" font-size="28" text-anchor="middle" stroke-width="0.45">10</text>
<text transform="translate(304.5 671.9) scale(1.030 1)" font-size="35.5" text-anchor="middle" stroke-width="0.45">Frequency (Hz)</text>
<text transform="translate(27.7 313) rotate(-90) scale(0.949 1)" font-size="36.3" text-anchor="middle" stroke-width="0.45">Lg-wave Q</text>
<text transform="translate(135.6 85.3) scale(1.035 1)" font-size="40" stroke-width="0.45">(a)</text>
<text transform="translate(133 132.8) scale(1.150 1)" font-size="29" stroke-width="0.45">Q</text>
<text transform="translate(156.2 139) scale(1.050 1)" font-size="21" stroke-width="0.45">0</text>
<text transform="translate(168.4 132.8) scale(1.120 1)" font-size="28" stroke-width="0.45">=</text>
<text transform="translate(197 132.8) scale(1.045 1)" font-size="27.8" stroke-width="0.45">712</text>
<text transform="translate(253 132.8) scale(1.045 1)" font-size="27.8" stroke-width="0.45">(399</text>
<text transform="translate(312.4 132.8) scale(1.045 1)" font-size="27.8" stroke-width="0.45">-</text>
<text transform="translate(326.7 132.8) scale(1.045 1)" font-size="27.8" stroke-width="0.45">1269</text>
<text transform="translate(394.5 132.8) scale(1.045 1)" font-size="27.8" stroke-width="0.45">)</text>
<text transform="translate(386.4 543.3) scale(0.965 1)" font-size="37" stroke-width="0.45">Ap</text>
</g>
<g id="panel-b">
<path d="M653.2 15.8v9M653.2 601.3v-9M662.78 15.8v9M662.78 601.3v-9M671.08 15.8v9M671.08 601.3v-9M678.4 15.8v9M678.4 601.3v-9M684.95 15.8v18.3M684.95 601.3v-18.3M728.03 15.8v9M728.03 601.3v-9M753.23 15.8v9M753.23 601.3v-9M771.1 15.8v9M771.1 601.3v-9M784.97 15.8v9M784.97 601.3v-9M796.3 15.8v9M796.3 601.3v-9M805.88 15.8v9M805.88 601.3v-9M814.18 15.8v9M814.18 601.3v-9M821.5 15.8v9M821.5 601.3v-9M828.05 15.8v18.3M828.05 601.3v-18.3M871.13 15.8v9M871.13 601.3v-9M896.33 15.8v9M896.33 601.3v-9M914.2 15.8v9M914.2 601.3v-9M928.07 15.8v9M928.07 601.3v-9M939.4 15.8v9M939.4 601.3v-9M948.98 15.8v9M948.98 601.3v-9M957.28 15.8v9M957.28 601.3v-9M964.6 15.8v9M964.6 601.3v-9M971.15 15.8v18.3M971.15 601.3v-18.3M1014.23 15.8v9M1014.23 601.3v-9M1039.43 15.8v9M1039.43 601.3v-9M1057.3 15.8v9M1057.3 601.3v-9M642.25 601.3h18.3M1057.45 601.3h-18.3M642.25 557.24h9M1057.45 557.24h-9M642.25 531.46h9M1057.45 531.46h-9M642.25 513.17h9M1057.45 513.17h-9M642.25 498.99h9M1057.45 498.99h-9M642.25 487.4h9M1057.45 487.4h-9M642.25 477.6h9M1057.45 477.6h-9M642.25 469.11h9M1057.45 469.11h-9M642.25 461.62h9M1057.45 461.62h-9M642.25 454.93h18.3M1057.45 454.93h-18.3M642.25 410.86h9M1057.45 410.86h-9M642.25 385.09h9M1057.45 385.09h-9M642.25 366.8h9M1057.45 366.8h-9M642.25 352.61h9M1057.45 352.61h-9M642.25 341.02h9M1057.45 341.02h-9M642.25 331.22h9M1057.45 331.22h-9M642.25 322.74h9M1057.45 322.74h-9M642.25 315.25h9M1057.45 315.25h-9M642.25 308.55h18.3M1057.45 308.55h-18.3M642.25 264.49h9M1057.45 264.49h-9M642.25 238.71h9M1057.45 238.71h-9M642.25 220.42h9M1057.45 220.42h-9M642.25 206.24h9M1057.45 206.24h-9M642.25 194.65h9M1057.45 194.65h-9M642.25 184.85h9M1057.45 184.85h-9M642.25 176.36h9M1057.45 176.36h-9M642.25 168.87h9M1057.45 168.87h-9M642.25 162.18h18.3M1057.45 162.18h-18.3M642.25 118.11h9M1057.45 118.11h-9M642.25 92.34h9M1057.45 92.34h-9M642.25 74.05h9M1057.45 74.05h-9M642.25 59.86h9M1057.45 59.86h-9M642.25 48.27h9M1057.45 48.27h-9M642.25 38.47h9M1057.45 38.47h-9M642.25 29.99h9M1057.45 29.99h-9M642.25 22.5h9M1057.45 22.5h-9M642.25 15.8h18.3M1057.45 15.8h-18.3" stroke="#000" stroke-width="1.8" fill="none"/>
<rect x="642.25" y="15.8" width="415.2" height="585.5" fill="none" stroke="#000" stroke-width="1.85" stroke-linejoin="round"/>
<path d="M681.4 423.8h18.6v15.9h-18.6zM687.1 421.2h18.6v14.5h-18.6zM692.8 418.6h18.6v13.1h-18.6zM698.5 416h18.6v11.5h-18.6zM704.3 412.7h18.6v10.3h-18.6zM710 409.3h18.6v9.1h-18.6zM715.7 405.8h18.6v7.8h-18.6zM721.4 401.3h18.6v7.4h-18.6zM727.2 396.7h18.6v7.1h-18.6zM744.3 325.1h18.6v54.5h-18.6zM750.1 293.6h18.6v84h-18.6zM755.8 262.1h18.6v114.6h-18.6zM761.5 258.6h18.6v117h-18.6zM767.2 258.7h18.6v115.8h-18.6zM773 260.9h18.6v112.3h-18.6zM778.7 263h18.6v108.7h-18.6zM784.4 263.4h18.6v105.4h-18.6zM790.1 263.9h18.6v102h-18.6zM795.9 264.4h18.6v98.7h-18.6zM801.6 264.5h18.6v96.9h-18.6zM807.3 264.5h18.6v95.9h-18.6zM813 264.5h18.6v95.1h-18.6zM818.8 264.4h18.6v93.5h-18.6zM824.5 263.9h18.6v90.2h-18.6zM830.2 263.4h18.6v86.9h-18.6zM835.9 262.9h18.6v83.5h-18.6zM841.7 263.7h18.6v78.9h-18.6zM847.4 264.7h18.6v74.1h-18.6zM853.1 265.6h18.6v69.4h-18.6zM858.8 266.6h18.6v64.2h-18.6zM864.6 267.5h18.6v58.5h-18.6zM870.3 268.5h18.6v52.7h-18.6zM876 269.4h18.6v47.1h-18.6zM881.7 269.2h18.6v43.9h-18.6zM887.5 269.1h18.6v40.6h-18.6zM893.2 269.2h18.6v36.9h-18.6zM898.9 268.5h18.6v34.2h-18.6zM904.6 267.4h18.6v31.9h-18.6zM910.4 266.2h18.6v29.8h-18.6zM916.1 264h18.6v29.2h-18.6zM921.8 261.7h18.6v28.6h-18.6zM927.5 259.3h18.6v27.9h-18.6zM933.2 255.8h18.6v27.9h-18.6zM939 252.4h18.6v27.9h-18.6zM944.7 248.6h18.6v26.4h-18.6zM950.4 244h18.6v24.6h-18.6zM956.2 239.5h18.6v22.9h-18.6zM961.9 234.1h18.6v21.5h-18.6zM967.6 227.8h18.6v20.9h-18.6zM973.3 221.5h18.6v20.4h-18.6zM979.1 214.9h18.6v21.3h-18.6zM984.8 208h18.6v22.9h-18.6zM990.5 201.1h18.6v25.7h-18.6zM996.2 194.7h18.6v28h-18.6zM1002 188.8h18.6v29.8h-18.6zM1007.7 15h18.6v102.8h-18.6z" fill="#b2b2b2" stroke="none"/>
<path class="k" d="M696.4 421.6l5.7-2.5l5.7-2.8l5.8-3.4l5.7-3.7l5.7-3.5M713.6 425.8l5.7-4.5M765.1 259l5.7-4.1l5.7-.4l5.8 2.2l5.7 1.5l5.7 1.8l5.7 .5l5.8 .3l5.7 .5l5.7 .7l5.7-.7M799.4 264.3l5.8 .5l5.7 .1l5.7-.8l5.7 0l5.8 .1l5.7 .1l5.7-.5l5.7-.5l5.8 .8l5.7 .7M770.8 253.5l5.7-.3l5.8 3.5l5.7 2.3l5.7-.3l5.7 1.5l5.8 .9l5.7-.1l5.7 0l5.7-.8M793.7 369.8l5.7-3.9l5.8-1.9l5.7-1l5.7-1.2l5.7-2l5.8-.7l5.7-4.5l5.7-4.7l5.7-3.9l5.8-3.8l5.7-3.4l5.7-3.3l5.7-4.8l5.8-4.1M833.8 359l5.7-3.6l5.7-4.5l5.8-3.8l5.7-2.8l5.7-3.2l5.7-5.4M770.8 376.1l5.7-.5l5.8-1.7l5.7-2.1l5.7-2.3l5.7-3.1l5.8-3.7l5.7-1.7l5.7-.9l5.7-.9M959.7 243.1l5.8-4.3l5.7-5.3l5.7-6.5l5.7-6.4l5.8-6.5l5.7-6.9M931.1 289.8l5.7-3.3l5.8-3.4l5.7-3.5M1017 159.2h0M1017 144.2h0M1017 139.8h0M1017 121.9h0M1017 160h0M1017 151h0M1017 156.1h0M1017 118.8h0M1017 129.8h0M1017 159.2h0M1017 131.9h0M1017 133.3h0M1017 137.7h0M1017 156.3h0M1017 127.9h0M1017 138.4h0M1017 133h0M1017 144h0M1017 149.9h0M770.9 256h0M770.9 215.2h0M770.9 212.1h0M770.9 239.5h0M770.9 232.7h0M770.9 231.3h0M770.9 252.4h0M770.9 224.1h0M770.9 222.1h0M770.9 249.2h0M770.9 223.5h0M770.9 218.1h0M770.9 215.7h0M770.9 214h0M770.9 217.5h0M770.9 256h0M770.9 222.1h0M770.9 215.7h0M770.9 235.3h0M765.1 379.8l5.7-1l5.7-2l5.8-1.5l5.7-.6l5.7-2.3l5.7-.8l5.8-.9l5.7-1.1l5.7-2.9l5.7-.3l5.8-.8l5.7-4.4l5.7-3.4M793.7 387.2l5.7-1.4l5.8-.2l5.7-1.3l5.7-1.9l5.7-2.9l5.8-.8l5.7-2.5M770.8 384.6l5.7-1.4l5.8-.8l5.7-1.6l5.7-2.2l5.7-1l5.8-.1l5.7-.1l5.7-.2M770.8 377l5.7-.5l5.8-2.1l5.7-2.8l5.7-3.2l5.7-2.9l5.8-2.4l5.7-.1l5.7 .1l5.7-.7M776.5 380.6l5.8-2.2l5.7-1.4l5.7-2.3l5.7-2.3l5.8-1.7l5.7-2.2l5.7 .5l5.7-1.6l5.8-.3l5.7-2.7l5.7-4.6M776.5 395.3l5.8 .6l5.7-.6l5.7-1.4l5.7 .1l5.8-2l5.7-2.4l5.7-1.2l5.7-1.3l5.8-2.5l5.7-2.6l5.7-1.8l5.7-2.1l5.8-4.3M770.8 380.9l5.7-1.6l5.8-.7l5.7-2.4l5.7-2.7l5.7-.9l5.8-.5l5.7-.5l5.7-1.1l5.7-2l5.8-.7l5.7-3.4l5.7-3.2l5.7-3.3l5.8-2.9M770.8 379.2l5.7-1.3l5.8-.5l5.7-.7l5.7-2.7l5.7-3.2l5.8-1.8l5.7-1l5.7-2.1l5.7-1.1l5.8-.7l5.7-4.5M788 390.4l5.7-1.1l5.7-1l5.8-2.1l5.7-1.1l5.7-2.2l5.7-1.8l5.8-2.9l5.7-3.7l5.7-3.9l5.7-2.4l5.8-3.1M770.8 388l5.7-.9l5.8-.9l5.7 .4l5.7-2.6l5.7-2.5l5.8-.6l5.7-2.6l5.7 .1l5.7-1.4M770.8 383.2l5.7 .2l5.8-.8l5.7-1.7l5.7-2.4l5.7-1.3l5.8-2.6l5.7 .1l5.7-2.6M770.8 390.6l5.7-.4l5.8-.2l5.7-1.1l5.7-1.3l5.7 0l5.8 .5l5.7-2.2l5.7-2.8l5.7-.7l5.8-.7l5.7-2.7l5.7-3.8l5.7-2.8M782.2 391.1l5.8-.7l5.7-1.6l5.7-.1l5.8-.4l5.7-.4l5.7-1.9l5.7-1.4l5.8-2.3l5.7-2.1l5.7-3.7l5.7-2.7l5.8-2.2M788 373.4l5.7-1.5l5.7-2.3l5.8-1.8l5.7-1.7l5.7 0l5.7-1.4l5.8-1.8M805.2 375.6l5.7-.2l5.7-.9l5.7-.4l5.8-1.8l5.7-3.5l5.7-4l5.7-4.8l5.8-2.2M765.1 391.7l5.7 .5l5.7 .5l5.8-1l5.7-.8l5.7-1.3l5.7-1.7l5.8-1l5.7 .2l5.7-2.1l5.7-2.8l5.8-2.3l5.7-3.3M782.2 373l5.8-1.8l5.7-2.4l5.7-3.5l5.8-1.4l5.7-2.7l5.7-1.5l5.7-1l5.8-.5l5.7-3.8l5.7-2.2l5.7-3.9l5.8-1.3M776.5 391.8l5.8-.6l5.7-.2l5.7-.9l5.7-.4l5.8-1.9l5.7-1.2l5.7-2.2l5.7-2.4l5.8-1.9l5.7-2.3l5.7-3.1l5.7-3.6l5.8-3.6M885.3 318.4l5.7-3.2l5.8-3.8l5.7-3.7l5.7-3.7l5.7-3.6l5.8-3.1l5.7-3.1l5.7-3l5.7-3l5.8-3.4l5.7-3.2l5.7-5.6M868.1 335l5.8-4.9l5.7-5.1l5.7-5.2l5.7-3.9l5.8-3.5l5.7-3.3l5.7-3.8l5.7-3.5l5.8-3.4l5.7-3.2l5.7-3.4l5.7-3.4l5.8-3.3l5.7-3.3l5.7-5.2l5.7-6.6M696.4 499.8l5.7 .3l5.7-1.8l5.8-11.7l5.7-13.2l5.7-9.5l5.7-11.4l5.8-11.2M713.6 447.3l5.7-6.2l5.7-6.6M696.4 442.1l5.7-5.6l5.7-3.2l5.8-5.6l5.7-5.1l5.7-4.5l5.7-3.9l5.8-4.2M690.7 451.9l5.7-3.7l5.7-2.5l5.7-2.1l5.8-6.4l5.7-5.7M707.8 451.9l5.8-8.7l5.7-7.7M713.6 438.9l5.7-5.7l5.7-4.9l5.7-8.4l5.8-6.3M696.4 441.3l5.7-3.3l5.7-2.3l5.8-6l5.7-4.7l5.7-6.8l5.7-4.8M719.3 448.6l5.7-9.1l5.7-8.2l5.8-8M702.1 501l5.7-2.7l5.8-11.5l5.7-11.6l5.7-11.5l5.7-11.2l5.8-11M696.4 464.1l5.7-1l5.7-1.7l5.8-11l5.7-8.5l5.7-6.4l5.7-7.3l5.8-7.1M707.8 432.1l5.8-6.1l5.7-5.6l5.7-5.6M696.4 464.1l5.7-4.4l5.7-3.7l5.8-6.7l5.7-6.5l5.7-7.8M702.1 476l5.7-3.8l5.8-6.8l5.7-12.5l5.7-8.9l5.7-8l5.8-7M713.6 455.9l5.7-9.2l5.7-10.1l5.7-6M696.4 446.2l5.7-5.2l5.7-5.1l5.8-7.2l5.7-6.9l5.7-6.3M719.3 454.4l5.7-10.4l5.7-8.2l5.8-8.8M696.4 440.6l5.7-5.1l5.7-7.2l5.8-7.4l5.7-3.7l5.7-2l5.7-6.3l5.8-4.9M719.3 440.1l5.7-5.5l5.7-6M690.7 478.3l5.7-2.6l5.7-1.7l5.7-5.6l5.8-8.5l5.7-10.8l5.7-7.4l5.7-9.7l5.8-8.8M702.1 454.9l5.7-1.9l5.8-11M696.4 435.9l5.7-3.1l5.7-1.7l5.8-6.3l5.7-4.2l5.7-7.5l5.7-6.1M696.4 480.3l5.7-1.3l5.7-5.5l5.8-10.6l5.7-10.3l5.7-6.3l5.7-9.3M690.7 501l5.7 0l5.7 0l5.7-2.7l5.8-11.5l5.7-11.4l5.7-11.5l5.7-11.4M690.7 450.1l5.7-4.1l5.7-4.1l5.7-5.9M690.7 441.3l5.7-4.3l5.7-4.8l5.7-5.7l5.8-5.7l5.7-5.7M690.7 493.4l5.7-1l5.7 1.9l5.7-3.8l5.8-10l5.7-10.1l5.7-9.5l5.7-10.8l5.8-11.8M690.7 477.9l5.7 0l5.7-.1l5.7-5.5l5.8-11.3l5.7-8.4l5.7-8l5.7-9.2M713.6 461.8l5.7-8.1l5.7-8.9l5.7-7.6M702.1 433.7l5.7-3.4l5.8-5.2M696.4 434.9l5.7-3.6l5.7-3.9l5.8-6.6l5.7-5.7l5.7-4.1M707.8 488.8l5.8-8.7l5.7-11.5l5.7-12.2l5.7-9l5.8-11.6M690.7 455.8l5.7 0l5.7-4.9l5.7-4.2l5.8-8.9l5.7-7l5.7-7.1M690.7 488.5l5.7-3.8l5.7 .1l5.7-2.9l5.8-8.9M690.7 462.3l5.7 0l5.7-3.5l5.7-6.2l5.8-5.2l5.7-7.8l5.7-9.4l5.7-8.4l5.8-5.1M690.7 464.2l5.7-5.2l5.7-.7l5.7-1.6l5.8-8.8l5.7-7.9M690.7 487.4l5.7-2.4l5.7-1.5l5.7-.6l5.8-10.5l5.7-12.2l5.7-10.9l5.7-9.8l5.8-7.9M690.7 498.1l5.7-2.2l5.7 1.3l5.7-.4l5.8-11.6M702.1 439.3l5.7-3.9l5.8-6l5.7-9l5.7-5.6l5.7-3.3l5.8-5M696.4 474.3l5.7-.9l5.7-6.8l5.8-9.1l5.7-8l5.7-7.2l5.7-9.4M696.4 438.6l5.7-1.5l5.7-5.1l5.8-4.6l5.7-4.6l5.7-6.7M713.6 451.7l5.7-10.2l5.7-9.1l5.7-7.5l5.8-6.8M702.1 540.4l5.7-2.5M690.7 529.8l5.7-3.6l5.7-2l5.7-1.7M702.1 513.4l5.7-3M690.7 508.1l5.7 1.3M696.4 564.3l5.7-5M690.7 548.3l5.7-4.4l5.7-1.1l5.7-5.9l5.8-6.3M707.8 538.1l5.8-6.3M702.1 531.6l5.7-2.8M690.7 541.5l5.7-4.2l5.7-2.6M707.8 515.3l5.8-2.1M696.4 537.9l5.7-3.3l5.7-4.2M690.7 530.2l5.7-2.3l5.7-3.4l5.7-1.8l5.8-2.5M696.4 521.9l5.7-3.3M696.4 546.6l5.7-1.9l5.7-4.5l5.8-7.9M707.8 538.7l5.8-6.6M690.7 545.3l5.7-2.6l5.7-3.3l5.7-6.1M702.1 557.1l5.7-5.8l5.8-8.5M690.7 549.7l5.7-3.6M696.4 559.3l5.7-3.2l5.7-6.4l5.8-8M696.4 501l5.7 0l5.7 0M702.1 514.7l5.7-.9l5.8-3.1M696.4 555.4l5.7-4.8M707.8 546.8l5.8-8.5"/>
<path d="M681.3 424.59h18.7M690.65 415.24v18.7M681.3 438.93h18.7M690.65 429.58v18.7M687.02 422.04h18.7M696.38 412.69v18.7M687.02 434.92h18.7M696.38 425.57v18.7M692.75 419.44h18.7M702.1 410.09v18.7M692.75 430.91h18.7M702.1 421.56v18.7M698.48 416.84h18.7M707.83 407.49v18.7M698.48 426.77h18.7M707.83 417.42v18.7M704.2 413.52h18.7M713.55 404.17v18.7M704.2 422.19h18.7M713.55 412.84v18.7M709.93 410.09h18.7M719.28 400.74v18.7M709.93 417.61h18.7M719.28 408.26v18.7M715.65 406.63h18.7M725 397.28v18.7M715.65 412.86h18.7M725 403.51v18.7M721.38 402.05h18.7M730.73 392.7v18.7M721.38 407.85h18.7M730.73 398.5v18.7M727.1 397.47h18.7M736.45 388.12v18.7M727.1 402.99h18.7M736.45 393.64v18.7M755.73 260.24h18.7M765.08 250.89v18.7M761.45 258.86h18.7M770.8 249.51v18.7M784.35 370.86h18.7M793.7 361.51v18.7M790.07 262.37h18.7M799.42 253.02v18.7M795.8 364.74h18.7M805.15 355.39v18.7M801.52 360.76h18.7M810.88 351.41v18.7M807.25 362.44h18.7M816.6 353.09v18.7M818.7 263.18h18.7M828.05 253.83v18.7M824.43 263.56h18.7M833.78 254.21v18.7M830.15 262.42h18.7M839.5 253.07v18.7M835.88 261.72h18.7M845.23 252.37v18.7M841.6 261.53h18.7M850.95 252.18v18.7M841.6 343.12h18.7M850.95 333.77v18.7M847.32 262.69h18.7M856.67 253.34v18.7M853.05 334.48h18.7M862.4 325.13v18.7M858.77 331.61h18.7M868.12 322.26v18.7M864.5 267.36h18.7M873.85 258.01v18.7M864.5 325.78h18.7M873.85 316.43v18.7M870.23 267.69h18.7M879.58 258.34v18.7M875.95 317.76h18.7M885.3 308.41v18.7M881.68 268.76h18.7M891.03 259.41v18.7M910.3 267.03h18.7M919.65 257.68v18.7M910.3 295.26h18.7M919.65 285.91v18.7M916.02 264.78h18.7M925.38 255.43v18.7M916.02 292.4h18.7M925.38 283.05v18.7M921.75 262.49h18.7M931.1 253.14v18.7M921.75 289.54h18.7M931.1 280.19v18.7M927.48 260.06h18.7M936.83 250.71v18.7M927.48 286.39h18.7M936.83 277.04v18.7M933.2 256.62h18.7M942.55 247.27v18.7M933.2 282.96h18.7M942.55 273.61v18.7M938.93 253.19h18.7M948.28 243.84v18.7M938.93 279.52h18.7M948.28 270.17v18.7M944.65 249.43h18.7M954 240.08v18.7M944.65 274.19h18.7M954 264.84v18.7M950.38 244.85h18.7M959.73 235.5v18.7M950.38 267.89h18.7M959.73 258.54v18.7M956.1 240.27h18.7M965.45 230.92v18.7M956.1 261.6h18.7M965.45 252.25v18.7M961.82 234.92h18.7M971.17 225.57v18.7M961.82 254.83h18.7M971.17 245.48v18.7M967.55 228.62h18.7M976.9 219.27v18.7M967.55 247.96h18.7M976.9 238.61v18.7M973.27 222.32h18.7M982.62 212.97v18.7M973.27 241.09h18.7M982.62 231.74v18.7M979 215.68h18.7M988.35 206.33v18.7M979 235.35h18.7M988.35 226v18.7M984.73 208.81h18.7M994.08 199.46v18.7M984.73 230.08h18.7M994.08 220.73v18.7M990.45 201.94h18.7M999.8 192.59v18.7M990.45 225.99h18.7M999.8 216.64v18.7M996.18 195.51h18.7M1005.53 186.16v18.7M996.18 221.9h18.7M1005.53 212.55v18.7M1001.9 189.65h18.7M1011.25 180.3v18.7M1001.9 217.82h18.7M1011.25 208.47v18.7M1007.6 15.8h18.7M1016.95 6.45v18.7M1007.6 117h18.7M1016.95 107.65v18.7M767.15 399.7h18.7M776.5 390.35v18.7M784.5 386.7h18.7M793.85 377.35v18.7M796 400h18.7M805.35 390.65v18.7M796 410h18.7M805.35 400.65v18.7M796 437.5h18.7M805.35 428.15v18.7M796 438.6h18.7M805.35 429.25v18.7M818.8 407.5h18.7M828.15 398.15v18.7M813 408.3h18.7M822.35 398.95v18.7M841.65 397.5h18.7M851 388.15v18.7M841.65 406.7h18.7M851 397.35v18.7M818.8 430.8h18.7M828.15 421.45v18.7M807.3 456.3h18.7M816.65 446.95v18.7M790.1 470.8h18.7M799.45 461.45v18.7M801.6 482h18.7M810.95 472.65v18.7M790.1 490.8h18.7M799.45 481.45v18.7M801.6 533h18.7M810.95 523.65v18.7M687.1 567.5h18.7M696.45 558.15v18.7M704.3 555.8h18.7M713.65 546.45v18.7M1007.6 445h18.7M1016.95 435.65v18.7M1007.6 544.2h18.7M1016.95 534.85v18.7M1007.6 15.8h18.7M1016.95 6.45v18.7M1007.6 220h18.7M1016.95 210.65v18.7M1007.6 238h18.7M1016.95 228.65v18.7M761.5 210.8h18.7M770.85 201.45v18.7" stroke="#b0b0b0" stroke-width="1.65" fill="none"/>
<path d="M690.65 404.8V461.8M685.15 404.8h11M685.15 461.8h11M702.1 400.8V457.2M696.6 400.8h11M696.6 457.2h11M713.55 400.5V442.5M708.05 400.5h11M708.05 442.5h11M725 395.8V426.2M719.5 395.8h11M719.5 426.2h11M736.45 388.2V409M730.95 388.2h11M730.95 409h11M747.9 360.8V400.4M742.4 360.8h11M742.4 400.4h11M759.35 330V382.2M753.85 330h11M753.85 382.2h11M770.8 299.8V370.8M765.3 299.8h11M765.3 370.8h11M782.25 298.4V347.2M776.75 298.4h11M776.75 347.2h11M793.7 302V351.2M788.2 302h11M788.2 351.2h11M805.15 268.3V381.3M799.65 268.3h11M799.65 381.3h11M816.6 262.7V380.5M811.1 262.7h11M811.1 380.5h11M828.05 292.3V338.7M822.55 292.3h11M822.55 338.7h11M839.5 286.1V331.3M834 286.1h11M834 331.3h11M850.95 281.2V325.4M845.45 281.2h11M845.45 325.4h11M862.4 283.7V316.3M856.9 283.7h11M856.9 316.3h11M873.85 284.2V313.6M868.35 284.2h11M868.35 313.6h11M885.3 286.7V308.7M879.8 286.7h11M879.8 308.7h11M896.75 287.5V303.7M891.25 287.5h11M891.25 303.7h11M908.2 285.1V300.5M902.7 285.1h11M902.7 300.5h11M919.65 281.9V293.3M914.15 281.9h11M914.15 293.3h11M931.1 276.7V287.1M925.6 276.7h11M925.6 287.1h11M942.55 269.2V280M937.05 269.2h11M937.05 280h11M954 258.7V272.7M948.5 258.7h11M948.5 272.7h11M965.45 248V262.8M959.95 248h11M959.95 262.8h11M976.9 236.6V251.4M971.4 236.6h11M971.4 251.4h11M988.35 224.8V239.8M982.85 224.8h11M982.85 239.8h11M999.8 185.2V222.4M994.3 185.2h11M994.3 222.4h11M1011.25 115V267.2M1005.75 115h11M1005.75 267.2h11M1022.7 58V281.2M1017.2 58h11M1017.2 281.2h11" stroke="#000" stroke-width="1.8" fill="none"/>
<rect x="686.7" y="429.35" width="7.9" height="7.9" rx="1.2" fill="none" stroke="#000" stroke-width="1.75"/><rect x="698.15" y="425.05" width="7.9" height="7.9" rx="1.2" fill="none" stroke="#000" stroke-width="1.75"/><rect x="709.6" y="417.55" width="7.9" height="7.9" rx="1.2" fill="none" stroke="#000" stroke-width="1.75"/><rect x="721.05" y="407.05" width="7.9" height="7.9" rx="1.2" fill="none" stroke="#000" stroke-width="1.75"/><rect x="732.5" y="394.65" width="7.9" height="7.9" rx="1.2" fill="none" stroke="#000" stroke-width="1.75"/><rect x="743.95" y="376.65" width="7.9" height="7.9" rx="1.2" fill="none" stroke="#000" stroke-width="1.75"/><rect x="755.4" y="352.15" width="7.9" height="7.9" rx="1.2" fill="none" stroke="#000" stroke-width="1.75"/><rect x="766.85" y="331.35" width="7.9" height="7.9" rx="1.2" fill="none" stroke="#000" stroke-width="1.75"/><rect x="778.3" y="318.85" width="7.9" height="7.9" rx="1.2" fill="none" stroke="#000" stroke-width="1.75"/><rect x="789.75" y="322.65" width="7.9" height="7.9" rx="1.2" fill="none" stroke="#000" stroke-width="1.75"/><rect x="801.2" y="320.85" width="7.9" height="7.9" rx="1.2" fill="none" stroke="#000" stroke-width="1.75"/><rect x="812.65" y="317.65" width="7.9" height="7.9" rx="1.2" fill="none" stroke="#000" stroke-width="1.75"/><rect x="824.1" y="311.55" width="7.9" height="7.9" rx="1.2" fill="none" stroke="#000" stroke-width="1.75"/><rect x="835.55" y="304.75" width="7.9" height="7.9" rx="1.2" fill="none" stroke="#000" stroke-width="1.75"/><rect x="847" y="299.35" width="7.9" height="7.9" rx="1.2" fill="none" stroke="#000" stroke-width="1.75"/><rect x="858.45" y="296.05" width="7.9" height="7.9" rx="1.2" fill="none" stroke="#000" stroke-width="1.75"/><rect x="869.9" y="294.95" width="7.9" height="7.9" rx="1.2" fill="none" stroke="#000" stroke-width="1.75"/><rect x="881.35" y="293.75" width="7.9" height="7.9" rx="1.2" fill="none" stroke="#000" stroke-width="1.75"/><rect x="892.8" y="291.65" width="7.9" height="7.9" rx="1.2" fill="none" stroke="#000" stroke-width="1.75"/><rect x="904.25" y="288.85" width="7.9" height="7.9" rx="1.2" fill="none" stroke="#000" stroke-width="1.75"/><rect x="915.7" y="283.65" width="7.9" height="7.9" rx="1.2" fill="none" stroke="#000" stroke-width="1.75"/><rect x="927.15" y="277.95" width="7.9" height="7.9" rx="1.2" fill="none" stroke="#000" stroke-width="1.75"/><rect x="938.6" y="270.65" width="7.9" height="7.9" rx="1.2" fill="none" stroke="#000" stroke-width="1.75"/><rect x="950.05" y="261.75" width="7.9" height="7.9" rx="1.2" fill="none" stroke="#000" stroke-width="1.75"/><rect x="961.5" y="251.45" width="7.9" height="7.9" rx="1.2" fill="none" stroke="#000" stroke-width="1.75"/><rect x="972.95" y="240.05" width="7.9" height="7.9" rx="1.2" fill="none" stroke="#000" stroke-width="1.75"/><rect x="984.4" y="228.35" width="7.9" height="7.9" rx="1.2" fill="none" stroke="#000" stroke-width="1.75"/><rect x="995.85" y="199.85" width="7.9" height="7.9" rx="1.2" fill="none" stroke="#000" stroke-width="1.75"/><rect x="1007.3" y="187.15" width="7.9" height="7.9" rx="1.2" fill="none" stroke="#000" stroke-width="1.75"/><rect x="1018.75" y="165.65" width="7.9" height="7.9" rx="1.2" fill="none" stroke="#000" stroke-width="1.75"/>
<text transform="translate(591.65 613.5) scale(0.960 1)" font-size="28" letter-spacing="-1.2" stroke-width="0.45">10</text>
<text transform="translate(622.85 605.5) scale(0.950 1)" font-size="24" stroke-width="0.45">1</text>
<text transform="translate(591.65 467.12) scale(0.960 1)" font-size="28" letter-spacing="-1.2" stroke-width="0.45">10</text>
<text transform="translate(622.85 459.12) scale(0.950 1)" font-size="24" stroke-width="0.45">2</text>
<text transform="translate(591.65 320.75) scale(0.960 1)" font-size="28" letter-spacing="-1.2" stroke-width="0.45">10</text>
<text transform="translate(622.85 312.75) scale(0.950 1)" font-size="24" stroke-width="0.45">3</text>
<text transform="translate(591.65 174.38) scale(0.960 1)" font-size="28" letter-spacing="-1.2" stroke-width="0.45">10</text>
<text transform="translate(622.85 166.38) scale(0.950 1)" font-size="24" stroke-width="0.45">4</text>
<text transform="translate(591.65 28) scale(0.960 1)" font-size="28" letter-spacing="-1.2" stroke-width="0.45">10</text>
<text transform="translate(622.85 20) scale(0.950 1)" font-size="24" stroke-width="0.45">5</text>
<text transform="translate(683.75 637.3) scale(0.980 1)" font-size="28" text-anchor="middle" stroke-width="0.45">.1</text>
<text transform="translate(828.05 637.3) scale(0.980 1)" font-size="28" text-anchor="middle" stroke-width="0.45">1</text>
<text transform="translate(971.15 637.3) scale(0.980 1)" font-size="28" text-anchor="middle" stroke-width="0.45">10</text>
<text transform="translate(848.95 671.9) scale(1.030 1)" font-size="35.5" text-anchor="middle" stroke-width="0.45">Frequency (Hz)</text>
<text transform="translate(572.15 313) rotate(-90) scale(0.949 1)" font-size="36.3" text-anchor="middle" stroke-width="0.45">Lg-wave Q</text>
<text transform="translate(680.05 85.3) scale(1.035 1)" font-size="40" stroke-width="0.45">(b)</text>
<text transform="translate(677.45 132.8) scale(1.150 1)" font-size="29" stroke-width="0.45">Q</text>
<text transform="translate(700.65 139) scale(1.050 1)" font-size="21" stroke-width="0.45">0</text>
<text transform="translate(712.85 132.8) scale(1.120 1)" font-size="28" stroke-width="0.45">=</text>
<text transform="translate(741.45 132.8) scale(1.045 1)" font-size="27.8" stroke-width="0.45">896</text>
<text transform="translate(797.45 132.8) scale(1.045 1)" font-size="27.8" stroke-width="0.45">(622</text>
<text transform="translate(856.85 132.8) scale(1.045 1)" font-size="27.8" stroke-width="0.45">-</text>
<text transform="translate(871.15 132.8) scale(1.045 1)" font-size="27.8" stroke-width="0.45">1292</text>
<text transform="translate(938.95 132.8) scale(1.045 1)" font-size="27.8" stroke-width="0.45">)</text>
<text transform="translate(934.15 543.3) scale(0.950 1)" font-size="37" stroke-width="0.45">Su</text>
</g>
<g id="panel-c">
<path d="M1197.65 15.8v9M1197.65 601.3v-9M1207.23 15.8v9M1207.23 601.3v-9M1215.53 15.8v9M1215.53 601.3v-9M1222.85 15.8v9M1222.85 601.3v-9M1229.4 15.8v18.3M1229.4 601.3v-18.3M1272.48 15.8v9M1272.48 601.3v-9M1297.68 15.8v9M1297.68 601.3v-9M1315.55 15.8v9M1315.55 601.3v-9M1329.42 15.8v9M1329.42 601.3v-9M1340.75 15.8v9M1340.75 601.3v-9M1350.33 15.8v9M1350.33 601.3v-9M1358.63 15.8v9M1358.63 601.3v-9M1365.95 15.8v9M1365.95 601.3v-9M1372.5 15.8v18.3M1372.5 601.3v-18.3M1415.58 15.8v9M1415.58 601.3v-9M1440.78 15.8v9M1440.78 601.3v-9M1458.65 15.8v9M1458.65 601.3v-9M1472.52 15.8v9M1472.52 601.3v-9M1483.85 15.8v9M1483.85 601.3v-9M1493.43 15.8v9M1493.43 601.3v-9M1501.73 15.8v9M1501.73 601.3v-9M1509.05 15.8v9M1509.05 601.3v-9M1515.6 15.8v18.3M1515.6 601.3v-18.3M1558.68 15.8v9M1558.68 601.3v-9M1583.88 15.8v9M1583.88 601.3v-9M1601.75 15.8v9M1601.75 601.3v-9M1186.7 601.3h18.3M1601.9 601.3h-18.3M1186.7 557.24h9M1601.9 557.24h-9M1186.7 531.46h9M1601.9 531.46h-9M1186.7 513.17h9M1601.9 513.17h-9M1186.7 498.99h9M1601.9 498.99h-9M1186.7 487.4h9M1601.9 487.4h-9M1186.7 477.6h9M1601.9 477.6h-9M1186.7 469.11h9M1601.9 469.11h-9M1186.7 461.62h9M1601.9 461.62h-9M1186.7 454.93h18.3M1601.9 454.93h-18.3M1186.7 410.86h9M1601.9 410.86h-9M1186.7 385.09h9M1601.9 385.09h-9M1186.7 366.8h9M1601.9 366.8h-9M1186.7 352.61h9M1601.9 352.61h-9M1186.7 341.02h9M1601.9 341.02h-9M1186.7 331.22h9M1601.9 331.22h-9M1186.7 322.74h9M1601.9 322.74h-9M1186.7 315.25h9M1601.9 315.25h-9M1186.7 308.55h18.3M1601.9 308.55h-18.3M1186.7 264.49h9M1601.9 264.49h-9M1186.7 238.71h9M1601.9 238.71h-9M1186.7 220.42h9M1601.9 220.42h-9M1186.7 206.24h9M1601.9 206.24h-9M1186.7 194.65h9M1601.9 194.65h-9M1186.7 184.85h9M1601.9 184.85h-9M1186.7 176.36h9M1601.9 176.36h-9M1186.7 168.87h9M1601.9 168.87h-9M1186.7 162.18h18.3M1601.9 162.18h-18.3M1186.7 118.11h9M1601.9 118.11h-9M1186.7 92.34h9M1601.9 92.34h-9M1186.7 74.05h9M1601.9 74.05h-9M1186.7 59.86h9M1601.9 59.86h-9M1186.7 48.27h9M1601.9 48.27h-9M1186.7 38.47h9M1601.9 38.47h-9M1186.7 29.99h9M1601.9 29.99h-9M1186.7 22.5h9M1601.9 22.5h-9M1186.7 15.8h18.3M1601.9 15.8h-18.3" stroke="#000" stroke-width="1.8" fill="none"/>
<rect x="1186.7" y="15.8" width="415.2" height="585.5" fill="none" stroke="#000" stroke-width="1.85" stroke-linejoin="round"/>
<path d="M1225.8 423.8h18.6v39h-18.6zM1231.5 420.2h18.6v42.5h-18.6zM1237.3 416.6h18.6v46.2h-18.6zM1243 412.9h18.6v49.8h-18.6zM1248.7 409.4h18.6v53.4h-18.6zM1254.4 405.9h18.6v56.9h-18.6zM1260.2 402.4h18.6v60.4h-18.6zM1265.9 398.7h18.6v64.1h-18.6zM1271.6 394.1h18.6v68.7h-18.6zM1277.3 390.1h18.6v64.2h-18.6zM1225.8 459.5h18.6v91h-18.6zM1231.5 459.5h18.6v91h-18.6zM1237.3 459.5h18.6v91h-18.6zM1243 459.5h18.6v91h-18.6zM1248.7 459.5h18.6v86.6h-18.6zM1254.4 459.5h18.6v75.1h-18.6zM1260.2 459.5h18.6v60h-18.6zM1265.9 459.5h18.6v43.8h-18.6zM1271.6 459.5h18.6v24.7h-18.6zM1277.3 459.5h18.6v5.6h-18.6zM1288.8 282.1h18.6v109.2h-18.6zM1294.5 263.5h18.6v125.7h-18.6zM1300.2 244.9h18.6v142.2h-18.6zM1306 237.6h18.6v147.4h-18.6zM1311.7 235.8h18.6v149h-18.6zM1317.4 235.2h18.6v149.6h-18.6zM1323.1 234.5h18.6v150.2h-18.6zM1328.9 233.8h18.6v150.9h-18.6zM1334.6 233.1h18.6v151.7h-18.6zM1340.3 232.9h18.6v151.9h-18.6zM1346 232.8h18.6v148.8h-18.6zM1351.8 232.6h18.6v143.8h-18.6zM1357.5 232.5h18.6v138.9h-18.6zM1363.2 232.4h18.6v133.9h-18.6zM1368.9 232.4h18.6v128.8h-18.6zM1374.7 232.5h18.6v122h-18.6zM1380.4 232.7h18.6v113.8h-18.6zM1386.1 233h18.6v105.5h-18.6zM1391.8 234h18.6v100.1h-18.6zM1397.6 235.4h18.6v95.8h-18.6zM1403.3 236.7h18.6v91.6h-18.6zM1409 239.9h18.6v85.6h-18.6zM1414.7 243.3h18.6v79.3h-18.6zM1420.5 246.7h18.6v73.1h-18.6zM1426.2 247.4h18.6v71.2h-18.6zM1431.9 248.1h18.6v69.4h-18.6zM1437.6 248.6h18.6v67.7h-18.6zM1443.4 248.6h18.6v66.6h-18.6zM1449.1 248.5h18.6v65.5h-18.6zM1454.8 246.4h18.6v65.9h-18.6zM1460.5 246.5h18.6v62.9h-18.6zM1466.3 246.6h18.6v59.9h-18.6zM1472 246.5h18.6v57.2h-18.6zM1477.7 245.4h18.6v55.5h-18.6zM1483.4 244.3h18.6v53.7h-18.6zM1489.2 242.1h18.6v50.4h-18.6zM1494.9 237.5h18.6v48.1h-18.6zM1500.6 233h18.6v45.8h-18.6zM1506.3 227.9h18.6v44h-18.6zM1512.1 222.2h18.6v42.9h-18.6zM1517.8 216.4h18.6v41.7h-18.6zM1523.5 209.3h18.6v43.1h-18.6zM1529.2 201.3h18.6v45.4h-18.6zM1535 193.3h18.6v47.8h-18.6zM1540.7 188.8h18.6v47.7h-18.6zM1546.4 185.4h18.6v46.6h-18.6zM1306.2 193.2h18.6v16.6h-18.6zM1552.1 15h18.6v15.8h-18.6z" fill="#b2b2b2" stroke="none"/>
<path class="k" d="M1235.1 422.3l5.7-3.9l5.8-3.9l5.7-3.9l5.7-3M1263.7 455.6l5.8 .3l5.7 .2M1258 459.2l5.7 .5l5.8 .3l5.7-1l5.7-.5M1235.1 550.2l5.7 0l5.8 0l5.7 0M1252.3 554.5l5.7-4.1l5.7-10.8M1252.3 555.5l5.7-5.2l5.7-11.1l5.8-15.1M1349.6 385.7l5.7-2.7l5.8-6.2l5.7-5.2l5.7-4.3l5.7-5.7l5.8-5.6l5.7-8.1l5.7-7.4l5.7-5.4l5.8-3.6l5.7-2.6l5.7-3.6l5.7-2.6l5.8-2.7l5.7-1.3l5.7-.4M1298.1 390.9l5.7-2.1l5.7-2l5.8-2.1M1298.1 393.8l5.7-2l5.7-1.1l5.8-3l5.7 .3l5.7-.8l5.7-.3l5.8-1l5.7-.6l5.7 1.3l5.7-3.8l5.8-3.8l5.7-5.4l5.7-5.6l5.7-5.2l5.8-5.6M1326.7 232.6l5.7-.8l5.8-1.5l5.7-3l5.7-.2l5.7-.6l5.8-.6l5.7 .4l5.7-.3l5.7 .4l5.8-.4M1309.5 243.2l5.8-7.5l5.7-1.8l5.7-.8l5.7-.7l5.8-1.6l5.7-1.6l5.7-.6l5.7-.4l5.8-.5l5.7 .2l5.7-.7l5.7-.5l5.8-.1l5.7 .9l5.7 .7l5.7 1.2l5.8 2.1l5.7 2.7l5.7 4.2l5.7 4l5.8 4l5.7 .9l5.7 .8l5.7 .7l5.8-.1l5.7-.1M1298.1 281.3l5.7-19.7l5.7-19.4l5.8-7.8l5.7-2.1l5.7-.9l5.7-.7l5.8-2.2l5.7-3.4l5.7-.4l5.7 .3l5.8-.7l5.7-.6l5.7-.4l5.7 .5l5.8-.3l5.7 .6l5.7 .8M1303.8 263.4l5.7-19.2l5.8-7.1l5.7-2l5.7-.7l5.7-.6l5.8-1.3l5.7-1.2l5.7-.6l5.7-.1l5.8-.5l5.7 .3l5.7 .1l5.7 .6l5.8 .3l5.7 .6l5.7 .2l5.7 1.3l5.8 1.2l5.7 1.3l5.7 3.6l5.7 3.6l5.8 3.8l5.7 .7l5.7 .8M1321 229l5.7-.5l5.7-.9l5.8-3.3l5.7-4.7l5.7-.8l5.7-.6l5.8-.8l5.7-.7l5.7 0l5.7 .4l5.8 .2l5.7-.2l5.7 1.1l5.7 2.3l5.8 4.1l5.7 3.9l5.7 5.1l5.7 5.8l5.8 5.4l5.7 .9l5.7 1l5.7 .9l5.8-.1l5.7 0M1349.6 218.7l5.7-.6l5.8 .4l5.7-.5l5.7 .1l5.7 .3l5.8-.7l5.7-.4l5.7 .5l5.7 2.5l5.8 4l5.7 4.5l5.7 5.4l5.7 5.4l5.8 5.2M1338.2 233.2l5.7-1.9l5.7 0l5.7-.5l5.8-.3l5.7 .2l5.7 .5l5.7-.3l5.8 .4l5.7-.1l5.7 .8l5.7 .7l5.8 1.9l5.7 1.4l5.7 3.6l5.7 3.8l5.8 3.8l5.7 .7l5.7 .7l5.7 .6l5.8-.1l5.7 0M1326.7 232l5.7-.5l5.8-2l5.7-2.7l5.7-.6l5.7-.9l5.8-.2l5.7-.8l5.7-.1l5.7-.5l5.8-.3l5.7-.1l5.7 .2l5.7 2.8l5.8 3.6l5.7 2.7l5.7 4.5l5.7 4.6l5.8 4.3l5.7 .9l5.7 .8l5.7 .7l5.8-.1M1298.1 280.4l5.7-20.4l5.7-20.6l5.8-8.2l5.7-2.1l5.7-.8l5.7-.9l5.8-3.2l5.7-4.7l5.7-.5l5.7-.2l5.8-.7l5.7 .2l5.7-.6l5.7-.3l5.8 .4l5.7-.3l5.7 0l5.7 3l5.8 3.9l5.7 4.3l5.7 5l5.7 5.8l5.8 5.3l5.7 1.1l5.7 .9l5.7 .8M1315.2 231.9l5.8-2.3l5.7-1l5.7-.8l5.8-3.4l5.7-4.9l5.7 .2l5.7-.2l5.8-.8l5.7-.2l5.7-.5l5.7 0l5.8 .6l5.7 .7l5.7 .2l5.7 2.9l5.8 3.6l5.7 3.4l5.7 5l5.7 5.4l5.8 5.2l5.7 1l5.7 1.1l5.7 .7l5.8 0l5.7 0M1309.5 244.9l5.8-7.4l5.7-2l5.7-.7l5.7-.7l5.8-.7l5.7-.7l5.7 0l5.7 .3l5.8-.3l5.7-.4l5.7-.2l5.7-.5l5.8 .1l5.7 .2l5.7 .6l5.7 1.1l5.8 1.9l5.7 1.5l5.7 3.2l5.7 3.4l5.8 3.7l5.7 .6l5.7 .8l5.7 .6l5.8 0M1412.6 237.1l5.7 3.3l5.7 3.5l5.8 3.5l5.7 .7l5.7 .8l5.7 .5l5.8 0l5.7-.1M1487 238l5.7 .1l5.8-1.6l5.7-5.5l5.7-4.5l5.7-4.7l5.8-6.9l5.7-4.5l5.7-7.2l5.7-9.1l5.8-8.3M1487 237.6l5.7-1.8l5.8-1.9l5.7-5.4l5.7-4.7l5.7-3.8l5.8-5.8l5.7-4.7l5.7-8l5.7-9M1498.5 233.2l5.7-4.3l5.7-3.3l5.7-6l5.8-5.8l5.7-6.2l5.7-6l5.7-8l5.8-8.9l5.7-4.8l5.7-2.5M1504.2 237.6l5.7-4.9l5.7-4.5l5.8-5.7l5.7-5.7M1509.9 280.7l5.7-6.6l5.8-6.8l5.7-6.8l5.7-6.1l5.7-5.7l5.8-6l5.7-4.4l5.7-4.4M1498.5 292.8l5.7-7l5.7-6.6l5.7-7.5l5.8-6.7l5.7-6.7l5.7-5.5l5.7-5.2l5.8-5.9l5.7-4.1l5.7-4.5M1315.5 219.5h0M1315.5 217.7h0M1315.5 209h0M1315.5 212.7h0M1315.5 219.3h0M1315.5 211.7h0M1315.5 211h0M1315.5 228.9h0M1315.5 220.2h0M1315.5 234.3h0M1315.5 219.6h0M1315.5 228.5h0M1315.5 235.2h0M1315.5 215.9h0M1315.5 224.3h0M1315.5 218h0M1315.5 225.5h0M1315.5 215h0M1315.5 233.4h0M1561.4 45.6h0M1561.4 88.5h0M1561.4 96.2h0M1561.4 76h0M1561.4 50.9h0M1561.4 76.1h0M1561.4 92.1h0M1561.4 95.9h0M1561.4 62.7h0M1561.4 43.8h0M1561.4 58.1h0M1561.4 46.9h0M1561.4 69.9h0M1561.4 77.5h0M1561.4 94.2h0M1561.4 84h0M1561.4 42.4h0M1561.4 42.1h0M1561.4 89.6h0M1561.4 58.8h0M1561.4 78.5h0M1561.4 67.7h0M1561.4 52h0M1561.4 81.5h0M1561.4 87.3h0M1561.4 30.3h0M1561.4 88h0M1561.4 89.6h0M1561.4 76.9h0M1561.4 81.2h0M1561.4 47.1h0M1561.4 53.5h0M1561.4 97h0M1561.4 66.9h0M1561.4 47.9h0M1561.4 54.6h0M1561.4 69.9h0M1561.4 91.2h0M1561.4 47h0M1561.4 92.5h0M1561.4 123.5h0M1561.4 179.2h0M1561.4 111h0M1561.4 99.5h0M1561.4 139.8h0M1561.4 97h0M1561.4 133.7h0M1561.4 114.4h0M1561.4 168h0M1561.4 180h0M1561.4 131.5h0M1561.4 122.9h0M1561.4 111.7h0M1561.4 143.6h0M1561.4 121.3h0M1561.4 112.6h0M1561.4 179.3h0M1561.4 140.7h0M1561.4 102.6h0M1561.4 137.8h0M1561.4 112.6h0M1561.4 115.8h0M1561.4 116.9h0M1561.4 122h0M1561.4 103h0M1326.7 392.1l5.7-.9l5.8-.3l5.7-.9l5.7 .6l5.7-3.6l5.8-3.9l5.7-5.3l5.7-5.2l5.7-4.9l5.8-6.8l5.7-8.5l5.7-8.3l5.7-4.7l5.8-3.5l5.7-2.5l5.7-2.5l5.7-3.4l5.8-3.4l5.7-1.7l5.7-1.3l5.7-.8l5.8-.6l5.7-.3l5.7-1.3M1343.9 387.9l5.7-.4l5.7-2.6l5.8-5.2l5.7-5.8l5.7-4.3l5.7-4.6l5.8-7.4l5.7-7.3l5.7-8.2l5.7-5.3l5.8-2.2l5.7-3.8l5.7-3.4l5.7-3.6l5.8-2.5l5.7-1.1l5.7-1l5.7-1.6l5.8-1.6l5.7-.7M1378.2 380.7l5.8-6.4l5.7-8.5l5.7-8.8l5.7-4.6l5.8-3.9l5.7-3.1l5.7-3.9l5.7-2.9l5.8-3l5.7-1.3l5.7-.9l5.7-1l5.8-2l5.7-1.6l5.7-2.2M1315.2 401.1l5.8 .1l5.7-.5l5.7-.7l5.8-.5l5.7-1.1l5.7-.7l5.7-2.3l5.8-4.9l5.7-3.5l5.7-4.3l5.7-4.8l5.8-6.1l5.7-9.9l5.7-8.1l5.7-5.5l5.8-2.8l5.7-3.1l5.7-3.1l5.7-3.7l5.8-4l5.7-1.7l5.7-1.1l5.7-.9l5.8-.3l5.7-.7l5.7-2.6l5.7-2.9l5.8-3.2l5.7-2.7l5.7-3.9l5.7-2.7l5.8-5.7l5.7-6.8l5.7-6.3l5.7-7.3l5.8-6.6l5.7-7.5M1378.2 376.7l5.8-7l5.7-9.1l5.7-8.7l5.7-5.2l5.8-3l5.7-2.9l5.7-3.9l5.7-2.3l5.8-3.8l5.7-.5l5.7-1.9l5.7-1.8l5.8-.2l5.7-1.4l5.7-1.9l5.7-2.7l5.8-3.8l5.7-2.9l5.7-2.7l5.7-3.3l5.8-6.3l5.7-7.2l5.7-6.2l5.7-7.2l5.8-6.5l5.7-6.7l5.7-6.1l5.7-6.4M1338.2 396.6l5.7-.3l5.7-1.4l5.7-3.5l5.8-4l5.7-5.2l5.7-5.1l5.7-4.8l5.8-6.8l5.7-7.6l5.7-8.4l5.7-5.1l5.8-2.3l5.7-2.7l5.7-3.4l5.7-3.4l5.8-2.9l5.7-1.1l5.7-.7l5.7-1.4l5.8-1.9l5.7-.7l5.7-2.1l5.7-3.3l5.8-3.1l5.7-3.6l5.7-3l5.7-2.5l5.8-6.3l5.7-7.1l5.7-6.3l5.7-7.2l5.8-6.2l5.7-7.5l5.7-6.4l5.7-6.7l5.8-5.8M1378.2 379l5.8-6.4l5.7-8.6l5.7-9.5l5.7-5.7l5.8-3.1l5.7-2.5l5.7-2.8l5.7-4.1l5.8-3l5.7-1.9l5.7-.3l5.7-1.5l5.8-.7l5.7-.9l5.7-2l5.7-2.9l5.8-3.9l5.7-3.3l5.7-3l5.7-3.3l5.8-6.1l5.7-6.2l5.7-7l5.7-6.3l5.8-6.6l5.7-6.5l5.7-7.2l5.7-7l5.8-5.9M1481.3 310.5l5.7-2.7l5.7-3l5.8-5.3l5.7-7.6l5.7-7l5.7-7.1l5.8-7.1l5.7-7l5.7-5.6l5.7-6l5.8-6.4l5.7-4.8M1366.8 385.1l5.7-4.2l5.7-4.8l5.8-6.3l5.7-8.9l5.7-8.5l5.7-4.9l5.8-2.4l5.7-2.8l5.7-2.8l5.7-4.1l5.8-2.7l5.7-1.2l5.7-1.3l5.7-1.5l5.8-.7l5.7-1.4l5.7-2.4l5.7-2.7l5.8-2.8M1361.1 383.5l5.7-4.2l5.7-4.1l5.7-5.6l5.8-6.8l5.7-7.9l5.7-8.2l5.7-4.5l5.8-4l5.7-2.5l5.7-3.7l5.7-3.7l5.8-2.4l5.7-1.1l5.7-1.5M1315.2 387.9l5.8-.9l5.7-.2l5.7-.1l5.8-.6l5.7-.4l5.7 .7l5.7-2.8l5.8-4.4l5.7-5.1l5.7-5l5.7-5l5.8-6.8l5.7-8.1l5.7-8.5l5.7-4.6l5.8-2.5l5.7-3.1l5.7-3l5.7-3.5l5.8-2.3l5.7-1.3l5.7-.5l5.7-.5M1343.9 400.7l5.7-.2l5.7-2.9l5.8-4.3l5.7-3.5l5.7-3.9l5.7-4.6l5.8-7.8l5.7-8.1l5.7-9.1l5.7-5.5l5.8-4.1l5.7-3.6l5.7-2.7l5.7-3l5.8-3.8l5.7-.6l5.7-.6l5.7-1.9l5.8-.9l5.7-1.3l5.7-2l5.7-3.6M1252.3 554.4h0M1252.3 559h0M1235.1 560.9l5.7-2.8l5.8-2.2l5.7-2.1M1235.1 560.7l5.7-2.8M1240.8 556l5.8-1.8l5.7-1.2M1240.8 549.8l5.8-.1l5.7 .2M1235.1 566.6l5.7-2.8M1235.1 566.9l5.7-3.1l5.8-3.7l5.7-2.8M1240.8 560.7l5.8-2.8l5.7-2.5M1235.1 574.7l5.7-.8l5.8-.7l5.7-.1M1246.6 578.2l5.7-.5M1235.1 573.8l5.7 .1l5.8 .1l5.7-.2M1235.1 577l5.7-.5l5.8-.7l5.7-.8M1349.6 206.8l5.7 .2l5.8 0l5.7-.6M1343.9 201.2l5.7-.3l5.7 .4l5.8-.3l5.7-.6l5.7-.4l5.7-.1l5.8 .5l5.7-.4l5.7 .3l5.7 3.7M1349.6 213l5.7-.1l5.8-.4l5.7-.4l5.7 .3l5.7-.5l5.8 .1l5.7-.6l5.7-.3l5.7 3M1343.9 213.4l5.7-.2l5.7-.1l5.8-.1l5.7-.1M1343.9 210l5.7 0l5.7 .3l5.8-.8l5.7 0l5.7-.1l5.7-.2l5.8-.4l5.7-.6l5.7 .3l5.7 3.5l5.8 5.1l5.7 5.9l5.7 3.5M1292.4 430.6l5.7-10.7M1292.4 458.1l5.7-13.5l5.7-8.9M1298.1 436.2h0M1303.8 419.7h0M1298.1 437.5l5.7-7.4M1298.1 422.6l5.7-5.2M1292.4 442.1l5.7-11.9M1292.4 424.7l5.7-10.3M1303.8 427.1h0M1292.4 429.8l5.7-11.5M1303.8 434.9h0M1292.4 449.9l5.7-14M1303.8 420h0"/>
<path d="M1231.48 463.92h18.7M1240.83 454.57v18.7M1242.93 411.78h18.7M1252.28 402.43v18.7M1254.38 464.79h18.7M1263.73 455.44v18.7M1260.1 462.89h18.7M1269.45 453.54v18.7M1265.83 463.78h18.7M1275.18 454.43v18.7M1271.55 464.5h18.7M1280.9 455.15v18.7M1225.75 460.34h18.7M1235.1 450.99v18.7M1225.75 549.7h18.7M1235.1 540.35v18.7M1231.48 460.34h18.7M1240.83 450.99v18.7M1231.48 549.7h18.7M1240.83 540.35v18.7M1237.2 460.34h18.7M1246.55 450.99v18.7M1237.2 549.7h18.7M1246.55 540.35v18.7M1242.93 460.34h18.7M1252.28 450.99v18.7M1242.93 549.7h18.7M1252.28 540.35v18.7M1248.65 460.34h18.7M1258 450.99v18.7M1248.65 545.33h18.7M1258 535.98v18.7M1254.38 460.34h18.7M1263.73 450.99v18.7M1254.38 533.88h18.7M1263.73 524.53v18.7M1260.1 460.34h18.7M1269.45 450.99v18.7M1260.1 518.76h18.7M1269.45 509.41v18.7M1265.83 460.34h18.7M1275.18 450.99v18.7M1265.83 502.5h18.7M1275.18 493.15v18.7M1271.55 460.34h18.7M1280.9 450.99v18.7M1271.55 483.41h18.7M1280.9 474.06v18.7M1277.28 460.34h18.7M1286.62 450.99v18.7M1277.28 464.33h18.7M1286.62 454.98v18.7M1288.73 393.08h18.7M1298.08 383.73v18.7M1294.45 262.63h18.7M1303.8 253.28v18.7M1294.45 389.33h18.7M1303.8 379.98v18.7M1305.9 236.93h18.7M1315.25 227.58v18.7M1311.63 236.33h18.7M1320.98 226.98v18.7M1323.08 233.83h18.7M1332.43 224.48v18.7M1323.08 386.6h18.7M1332.43 377.25v18.7M1334.53 232.68h18.7M1343.88 223.33v18.7M1340.25 233.39h18.7M1349.6 224.04v18.7M1340.25 386.11h18.7M1349.6 376.76v18.7M1345.98 382.6h18.7M1355.33 373.25v18.7M1357.43 372.98h18.7M1366.78 363.63v18.7M1386.05 233.49h18.7M1395.4 224.14v18.7M1386.05 339.46h18.7M1395.4 330.11v18.7M1391.78 333.82h18.7M1401.12 324.47v18.7M1397.5 333.17h18.7M1406.85 323.82v18.7M1414.68 241.28h18.7M1424.03 231.93v18.7M1414.68 324.55h18.7M1424.03 315.2v18.7M1420.4 319.08h18.7M1429.75 309.73v18.7M1426.13 245.84h18.7M1435.48 236.49v18.7M1431.85 248.53h18.7M1441.2 239.18v18.7M1431.85 319.07h18.7M1441.2 309.72v18.7M1449.03 313.26h18.7M1458.38 303.91v18.7M1454.75 247.22h18.7M1464.1 237.87v18.7M1454.75 311.51h18.7M1464.1 302.16v18.7M1460.48 247.33h18.7M1469.83 237.98v18.7M1460.48 308.65h18.7M1469.83 299.3v18.7M1466.2 247.45h18.7M1475.55 238.1v18.7M1466.2 305.79h18.7M1475.55 296.44v18.7M1471.93 247.35h18.7M1481.28 238v18.7M1471.93 302.92h18.7M1481.28 293.57v18.7M1477.65 246.2h18.7M1487 236.85v18.7M1477.65 300.06h18.7M1487 290.71v18.7M1483.38 245.06h18.7M1492.73 235.71v18.7M1483.38 297.2h18.7M1492.73 287.85v18.7M1489.1 242.93h18.7M1498.45 233.58v18.7M1489.1 291.68h18.7M1498.45 282.33v18.7M1494.83 238.35h18.7M1504.18 229v18.7M1494.83 284.81h18.7M1504.18 275.46v18.7M1500.55 233.77h18.7M1509.9 224.42v18.7M1500.55 277.94h18.7M1509.9 268.59v18.7M1506.28 228.68h18.7M1515.62 219.33v18.7M1506.28 271.07h18.7M1515.62 261.72v18.7M1512 222.95h18.7M1521.35 213.6v18.7M1512 264.2h18.7M1521.35 254.85v18.7M1517.73 217.23h18.7M1527.08 207.88v18.7M1517.73 257.33h18.7M1527.08 247.98v18.7M1523.45 210.1h18.7M1532.8 200.75v18.7M1523.45 251.59h18.7M1532.8 242.24v18.7M1529.18 202.09h18.7M1538.53 192.74v18.7M1529.18 245.87h18.7M1538.53 236.52v18.7M1534.9 194.07h18.7M1544.25 184.72v18.7M1534.9 240.31h18.7M1544.25 230.96v18.7M1540.63 189.59h18.7M1549.98 180.24v18.7M1540.63 235.73h18.7M1549.98 226.38v18.7M1546.35 186.16h18.7M1555.7 176.81v18.7M1546.35 231.15h18.7M1555.7 221.8v18.7M1306.15 194h18.7M1315.5 184.65v18.7M1306.15 209h18.7M1315.5 199.65v18.7M1552.05 15.8h18.7M1561.4 6.45v18.7M1552.05 30h18.7M1561.4 20.65v18.7M1300.35 411.7h18.7M1309.7 402.35v18.7M1351.95 418.3h18.7M1361.3 408.95v18.7M1351.95 420h18.7M1361.3 410.65v18.7M1380.35 400.8h18.7M1389.7 391.45v18.7M1386.15 388.7h18.7M1395.5 379.35v18.7M1340.35 441.7h18.7M1349.7 432.35v18.7M1334.45 449.2h18.7M1343.8 439.85v18.7M1368.65 450.8h18.7M1378 441.45v18.7M1351.95 463h18.7M1361.3 453.65v18.7M1403.35 465.8h18.7M1412.7 456.45v18.7M1328.95 478.3h18.7M1338.3 468.95v18.7M1340.35 478.3h18.7M1349.7 468.95v18.7M1283.15 493h18.7M1292.5 483.65v18.7M1363.35 508.8h18.7M1372.7 499.45v18.7M1334.45 529.5h18.7M1343.8 520.15v18.7M1288.65 539.5h18.7M1298 530.15v18.7M1363.35 587.8h18.7M1372.7 578.45v18.7M1225.85 596.2h18.7M1235.2 586.85v18.7M1306.15 194h18.7M1315.5 184.65v18.7M1552.05 15.8h18.7M1561.4 6.45v18.7" stroke="#b0b0b0" stroke-width="1.65" fill="none"/>
<path d="M1235.1 412.8V508.2M1229.6 412.8h11M1229.6 508.2h11M1246.55 408.6V500.4M1241.05 408.6h11M1241.05 500.4h11M1258 403.3V484.1M1252.5 403.3h11M1252.5 484.1h11M1269.45 396.2V460.8M1263.95 396.2h11M1263.95 460.8h11M1280.9 386.3V432.5M1275.4 386.3h11M1275.4 432.5h11M1292.35 331.3V432.5M1286.85 331.3h11M1286.85 432.5h11M1303.8 294.7V398.3M1298.3 294.7h11M1298.3 398.3h11M1315.25 263.3V376.1M1309.75 263.3h11M1309.75 376.1h11M1326.7 262.1V353.3M1321.2 262.1h11M1321.2 353.3h11M1338.15 242.7V380.5M1332.65 242.7h11M1332.65 380.5h11M1349.6 223.7V392.7M1344.1 223.7h11M1344.1 392.7h11M1361.05 239.7V367.1M1355.55 239.7h11M1355.55 367.1h11M1372.5 238.4V351.4M1367 238.4h11M1367 351.4h11M1383.95 239V342.8M1378.45 239h11M1378.45 342.8h11M1395.4 233.3V341.3M1389.9 233.3h11M1389.9 341.3h11M1406.85 257V315M1401.35 257h11M1401.35 315h11M1418.3 261.4V313M1412.8 261.4h11M1412.8 313h11M1429.75 270.2V307.4M1424.25 270.2h11M1424.25 307.4h11M1441.2 275V304.2M1435.7 275h11M1435.7 304.2h11M1452.65 275.1V303.1M1447.15 275.1h11M1447.15 303.1h11M1464.1 274V297.2M1458.6 274h11M1458.6 297.2h11M1475.55 270V291.6M1470.05 270h11M1470.05 291.6h11M1487 263V285.8M1481.5 263h11M1481.5 285.8h11M1498.45 252.9V278.1M1492.95 252.9h11M1492.95 278.1h11M1509.9 242.3V268.7M1504.4 242.3h11M1504.4 268.7h11M1521.35 231.1V256.7M1515.85 231.1h11M1515.85 256.7h11M1532.8 219.8V245.2M1527.3 219.8h11M1527.3 245.2h11M1544.25 179.7V224.5M1538.75 179.7h11M1538.75 224.5h11M1555.7 101.7V275.7M1550.2 101.7h11M1550.2 275.7h11M1567.15 38V293.4M1561.65 38h11M1561.65 293.4h11" stroke="#000" stroke-width="1.8" fill="none"/>
<path d="M1235.1 455.37L1239.52 463.34L1230.68 463.34Z" fill="none" stroke="#000" stroke-width="1.75" stroke-linejoin="round"/><path d="M1246.55 449.37L1250.97 457.34L1242.13 457.34Z" fill="none" stroke="#000" stroke-width="1.75" stroke-linejoin="round"/><path d="M1258 438.56L1262.42 446.54L1253.58 446.54Z" fill="none" stroke="#000" stroke-width="1.75" stroke-linejoin="round"/><path d="M1269.45 423.37L1273.87 431.34L1265.03 431.34Z" fill="none" stroke="#000" stroke-width="1.75" stroke-linejoin="round"/><path d="M1280.9 404.26L1285.32 412.24L1276.48 412.24Z" fill="none" stroke="#000" stroke-width="1.75" stroke-linejoin="round"/><path d="M1292.35 376.76L1296.77 384.74L1287.93 384.74Z" fill="none" stroke="#000" stroke-width="1.75" stroke-linejoin="round"/><path d="M1303.8 341.37L1308.22 349.34L1299.38 349.34Z" fill="none" stroke="#000" stroke-width="1.75" stroke-linejoin="round"/><path d="M1315.25 314.56L1319.67 322.54L1310.83 322.54Z" fill="none" stroke="#000" stroke-width="1.75" stroke-linejoin="round"/><path d="M1326.7 302.56L1331.12 310.54L1322.28 310.54Z" fill="none" stroke="#000" stroke-width="1.75" stroke-linejoin="round"/><path d="M1338.15 306.47L1342.57 314.44L1333.73 314.44Z" fill="none" stroke="#000" stroke-width="1.75" stroke-linejoin="round"/><path d="M1349.6 303.06L1354.02 311.04L1345.18 311.04Z" fill="none" stroke="#000" stroke-width="1.75" stroke-linejoin="round"/><path d="M1361.05 298.26L1365.47 306.24L1356.63 306.24Z" fill="none" stroke="#000" stroke-width="1.75" stroke-linejoin="round"/><path d="M1372.5 289.76L1376.92 297.74L1368.08 297.74Z" fill="none" stroke="#000" stroke-width="1.75" stroke-linejoin="round"/><path d="M1383.95 285.76L1388.37 293.74L1379.53 293.74Z" fill="none" stroke="#000" stroke-width="1.75" stroke-linejoin="round"/><path d="M1395.4 282.17L1399.82 290.14L1390.98 290.14Z" fill="none" stroke="#000" stroke-width="1.75" stroke-linejoin="round"/><path d="M1406.85 280.87L1411.27 288.84L1402.43 288.84Z" fill="none" stroke="#000" stroke-width="1.75" stroke-linejoin="round"/><path d="M1418.3 282.06L1422.72 290.04L1413.88 290.04Z" fill="none" stroke="#000" stroke-width="1.75" stroke-linejoin="round"/><path d="M1429.75 283.67L1434.17 291.64L1425.33 291.64Z" fill="none" stroke="#000" stroke-width="1.75" stroke-linejoin="round"/><path d="M1441.2 284.47L1445.62 292.44L1436.78 292.44Z" fill="none" stroke="#000" stroke-width="1.75" stroke-linejoin="round"/><path d="M1452.65 283.97L1457.07 291.94L1448.23 291.94Z" fill="none" stroke="#000" stroke-width="1.75" stroke-linejoin="round"/><path d="M1464.1 280.47L1468.52 288.44L1459.68 288.44Z" fill="none" stroke="#000" stroke-width="1.75" stroke-linejoin="round"/><path d="M1475.55 275.67L1479.97 283.64L1471.13 283.64Z" fill="none" stroke="#000" stroke-width="1.75" stroke-linejoin="round"/><path d="M1487 269.26L1491.42 277.24L1482.58 277.24Z" fill="none" stroke="#000" stroke-width="1.75" stroke-linejoin="round"/><path d="M1498.45 260.37L1502.87 268.34L1494.03 268.34Z" fill="none" stroke="#000" stroke-width="1.75" stroke-linejoin="round"/><path d="M1509.9 250.37L1514.32 258.34L1505.48 258.34Z" fill="none" stroke="#000" stroke-width="1.75" stroke-linejoin="round"/><path d="M1521.35 238.77L1525.77 246.74L1516.93 246.74Z" fill="none" stroke="#000" stroke-width="1.75" stroke-linejoin="round"/><path d="M1532.8 227.37L1537.22 235.34L1528.38 235.34Z" fill="none" stroke="#000" stroke-width="1.75" stroke-linejoin="round"/><path d="M1544.25 196.97L1548.67 204.94L1539.83 204.94Z" fill="none" stroke="#000" stroke-width="1.75" stroke-linejoin="round"/><path d="M1555.7 183.56L1560.12 191.54L1551.28 191.54Z" fill="none" stroke="#000" stroke-width="1.75" stroke-linejoin="round"/><path d="M1567.15 160.56L1571.57 168.54L1562.73 168.54Z" fill="none" stroke="#000" stroke-width="1.75" stroke-linejoin="round"/>
<text transform="translate(1136.1 613.5) scale(0.960 1)" font-size="28" letter-spacing="-1.2" stroke-width="0.45">10</text>
<text transform="translate(1167.3 605.5) scale(0.950 1)" font-size="24" stroke-width="0.45">1</text>
<text transform="translate(1136.1 467.12) scale(0.960 1)" font-size="28" letter-spacing="-1.2" stroke-width="0.45">10</text>
<text transform="translate(1167.3 459.12) scale(0.950 1)" font-size="24" stroke-width="0.45">2</text>
<text transform="translate(1136.1 320.75) scale(0.960 1)" font-size="28" letter-spacing="-1.2" stroke-width="0.45">10</text>
<text transform="translate(1167.3 312.75) scale(0.950 1)" font-size="24" stroke-width="0.45">3</text>
<text transform="translate(1136.1 174.38) scale(0.960 1)" font-size="28" letter-spacing="-1.2" stroke-width="0.45">10</text>
<text transform="translate(1167.3 166.38) scale(0.950 1)" font-size="24" stroke-width="0.45">4</text>
<text transform="translate(1136.1 28) scale(0.960 1)" font-size="28" letter-spacing="-1.2" stroke-width="0.45">10</text>
<text transform="translate(1167.3 20) scale(0.950 1)" font-size="24" stroke-width="0.45">5</text>
<text transform="translate(1228.2 637.3) scale(0.980 1)" font-size="28" text-anchor="middle" stroke-width="0.45">.1</text>
<text transform="translate(1372.5 637.3) scale(0.980 1)" font-size="28" text-anchor="middle" stroke-width="0.45">1</text>
<text transform="translate(1515.6 637.3) scale(0.980 1)" font-size="28" text-anchor="middle" stroke-width="0.45">10</text>
<text transform="translate(1393.4 671.9) scale(1.030 1)" font-size="35.5" text-anchor="middle" stroke-width="0.45">Frequency (Hz)</text>
<text transform="translate(1116.6 313) rotate(-90) scale(0.949 1)" font-size="36.3" text-anchor="middle" stroke-width="0.45">Lg-wave Q</text>
<text transform="translate(1224.5 85.3) scale(1.035 1)" font-size="40" stroke-width="0.45">(c)</text>
<text transform="translate(1221.9 132.8) scale(1.150 1)" font-size="29" stroke-width="0.45">Q</text>
<text transform="translate(1245.1 139) scale(1.050 1)" font-size="21" stroke-width="0.45">0</text>
<text transform="translate(1257.3 132.8) scale(1.120 1)" font-size="28" stroke-width="0.45">=</text>
<text transform="translate(1285.9 132.8) scale(1.045 1)" font-size="27.8" stroke-width="0.45">1239</text>
<text transform="translate(1341.9 132.8) scale(1.045 1)" font-size="27.8" stroke-width="0.45">(510</text>
<text transform="translate(1401.3 132.8) scale(1.045 1)" font-size="27.8" stroke-width="0.45">-</text>
<text transform="translate(1415.6 132.8) scale(1.045 1)" font-size="27.8" stroke-width="0.45">3007</text>
<text transform="translate(1483.4 132.8) scale(1.045 1)" font-size="27.8" stroke-width="0.45">)</text>
<text transform="translate(1478.3 543.3) scale(0.965 1)" font-size="37" stroke-width="0.45">Gr</text>
</g>
<g id="panel-d">
<path d="M108.75 748.1v9M108.75 1333.6v-9M118.33 748.1v9M118.33 1333.6v-9M126.63 748.1v9M126.63 1333.6v-9M133.95 748.1v9M133.95 1333.6v-9M140.5 748.1v18.3M140.5 1333.6v-18.3M183.58 748.1v9M183.58 1333.6v-9M208.78 748.1v9M208.78 1333.6v-9M226.65 748.1v9M226.65 1333.6v-9M240.52 748.1v9M240.52 1333.6v-9M251.85 748.1v9M251.85 1333.6v-9M261.43 748.1v9M261.43 1333.6v-9M269.73 748.1v9M269.73 1333.6v-9M277.05 748.1v9M277.05 1333.6v-9M283.6 748.1v18.3M283.6 1333.6v-18.3M326.68 748.1v9M326.68 1333.6v-9M351.88 748.1v9M351.88 1333.6v-9M369.75 748.1v9M369.75 1333.6v-9M383.62 748.1v9M383.62 1333.6v-9M394.95 748.1v9M394.95 1333.6v-9M404.53 748.1v9M404.53 1333.6v-9M412.83 748.1v9M412.83 1333.6v-9M420.15 748.1v9M420.15 1333.6v-9M426.7 748.1v18.3M426.7 1333.6v-18.3M469.78 748.1v9M469.78 1333.6v-9M494.98 748.1v9M494.98 1333.6v-9M512.85 748.1v9M512.85 1333.6v-9M97.8 1333.6h18.3M513 1333.6h-18.3M97.8 1289.54h9M513 1289.54h-9M97.8 1263.76h9M513 1263.76h-9M97.8 1245.47h9M513 1245.47h-9M97.8 1231.29h9M513 1231.29h-9M97.8 1219.7h9M513 1219.7h-9M97.8 1209.9h9M513 1209.9h-9M97.8 1201.41h9M513 1201.41h-9M97.8 1193.92h9M513 1193.92h-9M97.8 1187.22h18.3M513 1187.22h-18.3M97.8 1143.16h9M513 1143.16h-9M97.8 1117.39h9M513 1117.39h-9M97.8 1099.1h9M513 1099.1h-9M97.8 1084.91h9M513 1084.91h-9M97.8 1073.32h9M513 1073.32h-9M97.8 1063.52h9M513 1063.52h-9M97.8 1055.04h9M513 1055.04h-9M97.8 1047.55h9M513 1047.55h-9M97.8 1040.85h18.3M513 1040.85h-18.3M97.8 996.79h9M513 996.79h-9M97.8 971.01h9M513 971.01h-9M97.8 952.72h9M513 952.72h-9M97.8 938.54h9M513 938.54h-9M97.8 926.95h9M513 926.95h-9M97.8 917.15h9M513 917.15h-9M97.8 908.66h9M513 908.66h-9M97.8 901.17h9M513 901.17h-9M97.8 894.47h18.3M513 894.47h-18.3M97.8 850.41h9M513 850.41h-9M97.8 824.64h9M513 824.64h-9M97.8 806.35h9M513 806.35h-9M97.8 792.16h9M513 792.16h-9M97.8 780.57h9M513 780.57h-9M97.8 770.77h9M513 770.77h-9M97.8 762.29h9M513 762.29h-9M97.8 754.8h9M513 754.8h-9M97.8 748.1h18.3M513 748.1h-18.3" stroke="#000" stroke-width="1.8" fill="none"/>
<rect x="97.8" y="748.1" width="415.2" height="585.5" fill="none" stroke="#000" stroke-width="1.85" stroke-linejoin="round"/>
<path d="M136.9 1156.1h18.6v71.5h-18.6zM142.6 1152.5h18.6v75h-18.6zM148.3 1148.9h18.6v78.7h-18.6zM154.1 1145.2h18.6v82.3h-18.6zM159.8 1141.7h18.6v85.9h-18.6zM165.5 1138.2h18.6v89.4h-18.6zM171.2 1134.7h18.6v92.9h-18.6zM177 1131.1h18.6v96.5h-18.6zM182.7 1127.3h18.6v99.3h-18.6zM188.4 1123.4h18.6v95.5h-18.6zM194.1 1119.6h18.6v80.4h-18.6zM136.9 1224.3h18.6v71.5h-18.6zM142.6 1224.3h18.6v71.5h-18.6zM148.3 1224.3h18.6v71.5h-18.6zM154.1 1224.3h18.6v71.5h-18.6zM159.8 1224.3h18.6v68.1h-18.6zM165.5 1224.3h18.6v59.2h-18.6zM171.2 1224.3h18.6v50.3h-18.6zM177 1224.3h18.6v36.1h-18.6zM182.7 1224.3h18.6v20.3h-18.6zM188.4 1224.3h18.6v3.2h-18.6zM199.9 1014.1h18.6v135.5h-18.6zM205.6 994h18.6v153.4h-18.6zM211.3 974h18.6v171.4h-18.6zM217 964.6h18.6v178.8h-18.6zM222.8 961.3h18.6v180.1h-18.6zM228.5 959.4h18.6v180h-18.6zM234.2 957.5h18.6v179.8h-18.6zM239.9 956.1h18.6v179h-18.6zM245.7 955h18.6v178h-18.6zM251.4 954.8h18.6v176h-18.6zM257.1 954.7h18.6v173.7h-18.6zM262.8 954.5h18.6v171.2h-18.6zM268.6 954.4h18.6v168.7h-18.6zM274.3 954.3h18.6v166.2h-18.6zM280 954.3h18.6v163.5h-18.6zM285.7 954.3h18.6v160.9h-18.6zM291.5 954.3h18.6v158.2h-18.6zM297.2 954.6h18.6v151.6h-18.6zM302.9 956h18.6v134.7h-18.6zM308.6 959.1h18.6v128.7h-18.6zM314.4 962.3h18.6v122.7h-18.6zM320.1 967.2h18.6v115.4h-18.6zM325.8 972.5h18.6v107.8h-18.6zM331.5 977.7h18.6v100.3h-18.6zM337.3 978.6h18.6v96h-18.6zM343 979.5h18.6v91.6h-18.6zM348.7 980.2h18.6v87.5h-18.6zM354.4 980.2h18.6v84.1h-18.6zM360.2 980.2h18.6v80.7h-18.6zM199.9 1010.7h18.6v5h-18.6zM205.6 990.1h18.6v5.5h-18.6zM211.3 969.5h18.6v6.1h-18.6zM217 960.5h18.6v5.6h-18.6zM222.8 957.4h18.6v5.5h-18.6zM228.5 955.5h18.6v5.5h-18.6zM234.2 953.6h18.6v5.5h-18.6zM239.9 949.9h18.6v7.8h-18.6zM245.7 945.4h18.6v11.2h-18.6zM251.4 944.8h18.6v11.6h-18.6zM257.1 944.3h18.6v11.9h-18.6zM262.8 943.9h18.6v12.2h-18.6zM268.6 943.5h18.6v12.5h-18.6zM274.3 943.2h18.6v12.7h-18.6zM280 943h18.6v12.9h-18.6zM285.7 942.8h18.6v13.1h-18.6zM291.5 942.6h18.6v13.3h-18.6zM297.2 942.5h18.6v13.7h-18.6zM302.9 944h18.6v13.6h-18.6zM308.6 950.3h18.6v10.4h-18.6zM314.4 956.6h18.6v7.3h-18.6zM320.1 962.8h18.6v6h-18.6zM325.8 969h18.6v5.1h-18.6zM331.5 975.1h18.6v4.2h-18.6zM337.3 976.2h18.6v4h-18.6zM343 977.4h18.6v3.7h-18.6zM348.7 978.3h18.6v3.5h-18.6zM354.4 978.3h18.6v3.5h-18.6zM360.2 978.3h18.6v3.4h-18.6zM365.9 978.7h18.6v78.5h-18.6zM371.6 978.8h18.6v74.4h-18.6zM377.3 978.9h18.6v70.3h-18.6zM383.1 978.7h18.6v66.5h-18.6zM388.8 976.4h18.6v64.8h-18.6zM394.5 974.1h18.6v63.1h-18.6zM400.2 971.5h18.6v60.5h-18.6zM406 968.1h18.6v58.2h-18.6zM411.7 964.6h18.6v56h-18.6zM417.4 960.2h18.6v52.8h-18.6zM423.1 954.5h18.6v50.5h-18.6zM428.9 948.7h18.6v48.2h-18.6zM434.6 941.6h18.6v49.6h-18.6zM440.3 933.6h18.6v51.9h-18.6zM446 925.6h18.6v54.7h-18.6zM451.8 917.6h18.6v60.4h-18.6zM457.5 909.5h18.6v66.1h-18.6zM217.2 925.9h18.6v33.2h-18.6zM463.2 747.3h18.6v150.8h-18.6z" fill="#b2b2b2" stroke="none"/>
<path class="k" d="M180.5 1133.6l5.8-3.7l5.7-3.9l5.7-3.9l5.8-3.9M186.3 1221.5l5.7-.1l5.7 .6M180.5 1219.8l5.8 .1l5.7-.6l5.7 0M146.2 1295.4l5.7 .4l5.7 .3M157.6 1298.6l5.8-.3l5.7-4.1l5.7-9.2M163.4 1301.4l5.7-3.6l5.7-9.8l5.7-7.7l5.8-13.8M266.4 1131.5l5.8-3.5l5.7-2.9l5.7-2.9l5.7-2.8l5.7-2.8l5.8-2.8l5.7-4.8l5.7-14.6l5.8-2l5.7-2.7l5.7-3.2l5.7-2.6l5.7-2.6l5.8-3.1l5.7-2.4l5.7-4.2l5.8-2.9M220.6 1148.7l5.7-2.6l5.8-1.7l5.7-.7l5.7-2.3l5.8-1.5l5.7-2l5.7-1.5l5.7-3l5.8-3.2l5.7-2.9l5.7-2l5.7-3.4l5.7-3.3l5.8-1.7M237.8 1140.2l5.7-2.3l5.8-2.4l5.7-.9l5.7-2.2l5.7-2.2l5.8-3.8l5.7-3.1l5.7-2.3l5.7-3.5l5.7-1.7M329.4 962l5.7 5.6l5.7 6.7l5.8 1.2l5.7 2.1l5.7 .6l5.8 .2M266.4 940.7l5.8-.4l5.7 0l5.7-1l5.7 .4l5.7-.9l5.8 0l5.7 .3l5.7 1.3l5.8 6.8l5.7 6.3l5.7 6.6l5.7 6.4l5.7 5M306.5 961.6l5.7 2.1l5.8 2.9l5.7 3.9l5.7 4.2M306.5 957.4l5.7 1.5l5.8 4.2l5.7 3.2l5.7 4l5.7 6.4l5.7 5.3l5.8 .2M283.6 957.8l5.7 .3l5.7 1l5.8-.1l5.7 1.4l5.7 .4l5.8 2.1l5.7 3.1l5.7 5.5l5.7 6l5.7 4.2l5.8 .2l5.7 2.2M443.9 935.7l5.7-7l5.7-8.3l5.8-8.7l5.7-6.9M375.2 974.4l5.7 .9l5.8 0l5.7 .2M403.8 972.6l5.7-2.3l5.8-2.5l5.7-3.5l5.7-5.2l5.8-6l5.7-6l5.7-6.4l5.7-7.2M380.9 971.6l5.8-.6l5.7 .3l5.7-2.6l5.7-3.2l5.7-2.2l5.8-3.6l5.7-4.3l5.7-4M432.4 1004.4l5.8-8l5.7-5.8l5.7-5.7l5.7-5.2M392.4 1046.4l5.7-3.8l5.7-4.4l5.7-4.4l5.8-6l5.7-5.9l5.7-6.9l5.8-8.3l5.7-7.9l5.7-5.4M472.5 968.9h0M472.5 911.1h0M472.5 962.6h0M472.5 1012.8h0M472.5 1007.6h0M472.5 986.1h0M472.5 965.9h0M472.5 981.4h0M472.5 949.8h0M472.5 904.5h0M472.5 926.3h0M472.5 1006h0M472.5 987h0M472.5 987.8h0M472.5 978.8h0M472.5 989.2h0M472.5 977.3h0M472.5 997.1h0M472.5 1003.7h0M472.5 903.5h0M472.5 911.1h0M472.5 908.6h0M472.5 958.2h0M472.5 910.3h0M472.5 912.6h0M472.5 904.7h0M472.5 948.5h0M472.5 958.9h0M472.5 970.7h0M472.5 984.7h0M472.5 952.9h0M472.5 946.7h0M472.5 976.9h0M472.5 983.6h0M472.5 966.6h0M472.5 975.2h0M472.5 978h0M472.5 915.4h0M472.5 903.7h0M472.5 980.2h0M472.5 912.9h0M472.5 944.7h0M472.5 971.1h0M472.5 963.4h0M472.5 919.6h0M472.5 988.6h0M472.5 965.6h0M472.5 897.3h0M472.5 947.5h0M472.5 945.1h0M472.5 1003.3h0M472.5 947.3h0M472.5 954h0M472.5 947.6h0M472.5 980.4h0M472.5 991.5h0M472.5 962.5h0M472.5 1014.5h0M472.5 986.6h0M472.5 907.8h0M472.5 1001.7h0M472.5 950.9h0M472.5 983.6h0M472.5 973.3h0M472.5 940.4h0M472.5 909.2h0M472.5 916.8h0M472.5 954.4h0M472.5 944.4h0M472.5 973h0M472.5 936h0M472.5 941.6h0M472.5 987h0M472.5 992.5h0M472.5 962h0M472.5 929.8h0M472.5 923.2h0M472.5 897.3h0M472.5 954.2h0M472.5 988.2h0M472.5 934.8h0M472.5 989h0M472.5 1006.2h0M237.8 1146.5l5.7-1.6l5.8-1.5l5.7-1.9l5.7-2.4l5.7-1.9l5.8-1.4l5.7-3.6l5.7-2.8l5.7-2.6l5.7-.7l5.8-2l5.7-5.1l5.7-18.7l5.8-4.2l5.7-3.6l5.7-4l5.7-2.7l5.7-2.9l5.8-3.4l5.7-2.9l5.7-3.1l5.8-3.7l5.7-3l5.7-4.2l5.7-3.2l5.8-3.9l5.7-3l5.7-2.8l5.7-4l5.7-5.8l5.8-4.7l5.7-6.6l5.7-8.4l5.8-8.2l5.7-6.2l5.7-6.1M243.5 1157.7l5.8 .7l5.7-.8l5.7-1.9l5.7-.7l5.8 0l5.7-1.5l5.7-1l5.7-3l5.7-2.6l5.8-1.7l5.7-8.8l5.7-21l5.8-5.3l5.7-3.7l5.7-3.3l5.7-4.8l5.7-2.9l5.8-3.2l5.7-2.9l5.7-3.1l5.8-3.5l5.7-3.8l5.7-3.2l5.7-2.9l5.8-3.6l5.7-4.5l5.7-2M232.1 1147.1l5.7-.4l5.7-1.9l5.8-.5l5.7-.8l5.7-2.5l5.7-1l5.8-3.8l5.7-.7l5.7-2l5.7-.6l5.7-2.8l5.8-1.7l5.7-8.3l5.7-19.4l5.8-4.6l5.7-2.3l5.7-2l5.7-3.7l5.7-4.3l5.8-4.2l5.7-3.8l5.7-2.6l5.8-3.7l5.7-3.3l5.7-2.5l5.7-3.3l5.8-4.8l5.7-2.6l5.7-3.3l5.7-4.7l5.7-5.8l5.8-3.8l5.7-5.8l5.7-7l5.8-8.3l5.7-6.7l5.7-6.3l5.7-5.4l5.7-4.5l5.8-5.3M243.5 1149.1l5.8-1.7l5.7-.9l5.7-1.2l5.7-.8l5.8-3.4l5.7-3.6l5.7-3l5.7-2.3l5.7-.7l5.8-1.3l5.7-7.8l5.7-20.2l5.8-3.2l5.7-1.8l5.7-4.4l5.7-2.3l5.7-3.7l5.8-3.2l5.7-3.8l5.7-2.4l5.8-3l5.7-3.3l5.7-3.7l5.7-3.6l5.8-4.4l5.7-3.3l5.7-2.7l5.7-4.9l5.7-4.6l5.8-4.9l5.7-4.7l5.7-5.6l5.8-7.6l5.7-8M277.9 1126.5l5.7-1.7l5.7-1.1l5.7-1.4l5.8-1.5l5.7-5.7l5.7-17l5.8-3.5l5.7-3.7l5.7-4.7l5.7-2.1l5.7-3.3l5.8-4.1l5.7-3.9l5.7-2.9l5.8-3.1l5.7-4l5.7-4.4l5.7-4.1l5.8-4.7l5.7-3.4l5.7-2.9M346.6 1083.6l5.7-3.9l5.7-3.2l5.8-2.9l5.7-3.6l5.7-4.2l5.7-3.8l5.8-2.4l5.7-2.3l5.7-4.4l5.7-3l5.7-3.7l5.8-4l5.7-6.6l5.7-8.6l5.8-8.7l5.7-6.9M220.6 1148.2l5.7-.9l5.8-.7l5.7-2.1l5.7-.9l5.8-1.4l5.7-3l5.7-1.4l5.7-1.3l5.8-1.3l5.7-2.8l5.7-1.2l5.7-3.3l5.7-1.9l5.8-1l5.7-8.1l5.7-17.9l5.8-3.4l5.7-3.8l5.7-3.6l5.7-3.5l5.7-2.8l5.8-2.5l5.7-3.2l5.7-3.7l5.8-3.2l5.7-3.7l5.7-3.9l5.7-3.3l5.8-3.9l5.7-3.8l5.7-3.1l5.7-4.7l5.7-5.3l5.8-5.1l5.7-4.9l5.7-7.2l5.8-8.6l5.7-6.2l5.7-4.6l5.7-6.2M237.8 1149.6l5.7-1.3l5.8-1.6l5.7-.6l5.7-.1l5.7-2.1l5.8-3.9l5.7-1.7l5.7-3.2l5.7-3.4l5.7-1.3l5.8-2.7l5.7-5.5l5.7-19.1l5.8-2.3l5.7-4.7l5.7-2.2l5.7-3.1l5.7-4.7M232.1 1147.1l5.7-.7l5.7-1.7l5.8-1.6l5.7-.6l5.7-2.6l5.7-1.4l5.8-2.8l5.7-.8l5.7-.7l5.7-.9l5.7-4l5.8-4.1l5.7-7l5.7-19.2l5.8-3.6l5.7-2.6l5.7-2.3l5.7-3l5.7-2.2l5.8-3.1l5.7-2.7l5.7-3.6l5.8-4.1l5.7-2.7l5.7-3.7l5.7-3.7l5.8-4.8l5.7-4.8l5.7-4.8l5.7-4.4l5.7-4.9l5.8-5.1l5.7-4l5.7-7.4l5.8-7.8l5.7-7.6l5.7-5.4l5.7-4.7l5.7-4.3l5.8-5M283.6 1136.1l5.7-.4l5.7-.5l5.8-.7l5.7-6.3l5.7-21.4l5.8-5.4l5.7-4.1l5.7-3.8l5.7-2.7l5.7-3.5l5.8-4.2l5.7-3.3l5.7-2.6l5.8-2.8l5.7-3.9l5.7-4.2l5.7-4.5l5.8-3.2l5.7-4.5l5.7-3.7l5.7-2.5l5.7-3.1l5.8-3.7l5.7-3.9l5.7-6.9M358 1072.2l5.8-4.1l5.7-4.2l5.7-3.5l5.7-4.4l5.8-4.2l5.7-4.1l5.7-2.4l5.7-3.2l5.7-5l5.8-5l5.7-5.5l5.7-7l5.8-7.4l5.7-8.6l5.7-6.5l5.7-4.2l5.7-5M249.2 1151.2l5.8-.3l5.7-2.1l5.7-2.1l5.8-.5l5.7-2l5.7 .2l5.7-2.9l5.7-1.7l5.8-.2l5.7-7.7l5.7-22.5l5.8-4.7l5.7-2.7l5.7-3.4l5.7-3.4l5.7-4.8l5.8-3.3l5.7-2.7l5.7-2.7l5.8-3.9l5.7-2.6l5.7-3.4l5.7-3.1l5.8-3.1l5.7-4.2l5.7-3.8l5.7-2.7l5.7-4.8l5.8-4l5.7-3.5l5.7-8.5l5.8-6.3M289.3 1133.9l5.7-2.2l5.8-1.8l5.7-7.1l5.7-19.1l5.8-3.8l5.7-4.5l5.7-4.3l5.7-2.8l5.7-3.9l5.8-2.8l5.7-3l5.7-2.6l5.8-3.7l5.7-3.7l5.7-3.8l5.7-3.6l5.8-3.2l5.7-2.7l5.7-4.5l5.7-2.8l5.7-3.6l5.8-5.3l5.7-5.1l5.7-6l5.8-7.8l5.7-9.2l5.7-5.2l5.7-6.8l5.7-7M249.2 1159.4l5.8-1.1l5.7-1.3l5.7 .1l5.8-2.2l5.7-2.3l5.7-1.4l5.7-.1l5.7 .8l5.8 .5l5.7-7.1l5.7-23.3l5.8-5.1l5.7-5.1l5.7-5.4l5.7-3.6l5.7-4.3l5.8-4.8l5.7-4.3l5.7-2.4l5.8-2.8l5.7-2.6l5.7-4.2M226.3 1154l5.8-1.6l5.7 .1l5.7-2.1l5.8-1.2l5.7-1.9l5.7-.7l5.7-.7l5.8-.6l5.7-1l5.7-1.9l5.7-3.1l5.7-3.6l5.8 .3l5.7-8.6l5.7-19.8l5.8-3.8l5.7-2.6l5.7-3.2l5.7-3.8l5.7-4.2l5.8-4.1l5.7-2.8l5.7-4l5.8-3.4l5.7-3.7l5.7-4.3l5.7-2.4l5.8-3.4l5.7-3.6l5.7-2.8l5.7-2.5l5.7-5.2l5.8-4.9l5.7-6.1l5.7-7l5.8-8.3M260.7 1166.4l5.7-.7l5.8-1.5l5.7 .5l5.7-2.3l5.7-.9l5.7-.9l5.8 .5l5.7-8.7l5.7-26.4l5.8-5l5.7-4.3l5.7-4.3l5.7-4.3l5.7-5.1l5.8-3.3l5.7-3.3l5.7-3.9l5.8-3l5.7-3.5l5.7-3.2l5.7-2.9l5.8-2.8l5.7-3.5l5.7-3l5.7-3.5l5.7-2.7l5.8-3.3l5.7-2.9l5.7-6.1l5.8-7.6l5.7-6.1l5.7-8.7l5.7-7.4l5.7-5.8l5.8-3.5M340.8 1098l5.8-2.7l5.7-2.7l5.7-4.7l5.8-4.5l5.7-2.8l5.7-2.9l5.7-4.3l5.8-4.1l5.7-2.5l5.7-2.7l5.7-3.9l5.7-3.5l5.8-4.1l5.7-3.2l5.7-6.3l5.8-8.4l5.7-7.5l5.7-5.4l5.7-7.2l5.7-6.5M340.8 1096l5.8-2.8l5.7-4.4l5.7-2.4l5.8-4.4l5.7-3.8l5.7-3.1l5.7-2.3l5.8-2.2l5.7-4.3l5.7-4.3l5.7-3.5l5.7-3.5l5.8-3.6l5.7-2.9l5.7-5.6l5.8-6.8l5.7-6l5.7-6.1l5.7-8.9M260.7 1143.1l5.7-.5l5.8-3.7l5.7-2.5l5.7-2l5.7-.3l5.7-3.1l5.8-.3l5.7-7.5l5.7-20.6l5.8-3l5.7-4.7l5.7-2.6l5.7-2.3M237.8 1164.7l5.7 .5l5.8-.2l5.7-1.1l5.7-.7l5.7-2.4l5.8-1.8l5.7-.1l5.7-1.2l5.7-2.2l5.7 .6l5.8-1.4l5.7-7.8l5.7-25.1l5.8-4.6l5.7-3.1l5.7-5.1l5.7-5.5l5.7-3.7l5.8-3l5.7-4.5l5.7-4.4l5.8-3.5l5.7-3.4l5.7-2.4l5.7-3.9l5.8-2.3l5.7-3l5.7-3.6l5.7-3.8l5.7-3.4l5.8-4.5l5.7-4.7l5.7-4.3l5.8-6M226.3 1160l5.8-1.1l5.7 .5l5.7-1l5.8-.1l5.7-2.1l5.7-.6l5.7 .3l5.8-1.8l5.7-.8l5.7-.3l5.7-1l5.7-2.9l5.8-.1l5.7-7.7l5.7-24.3l5.8-5.1l5.7-3.1l5.7-3.2l5.7-5.5l5.7-3.7l5.8-4.3l5.7-2.6l5.7-4.1l5.8-3.7l5.7-2.7l5.7-2.8l5.7-2.7l5.8-3l5.7-4.7l5.7-3.1l5.7-2.6l5.7-5.3l5.8-3.7l5.7-5.1l5.7-7.7M220.6 1144.6l5.7-2.1l5.8-2l5.7-2.1l5.7-.8l5.8-.9l5.7-1.6l5.7-3.4l5.7-1.3l5.8-1.5l5.7-3.2l5.7-4.1l5.7-3l5.7-2l5.8-1.7l5.7-8.5l5.7-14.4l5.8-3.8l5.7-2.9l5.7-3l5.7-1.4l5.7-2.8l5.8-4.1l5.7-3.6l5.7-3.5l5.8-3.4l5.7-3.4l5.7-3.7l5.7-4l5.8-3.3l5.7-4l5.7-3.8l5.7-4.8l5.7-4.2l5.8-5.1l5.7-5.7l5.7-7.7l5.8-8.8l5.7-8.9l5.7-5.7l5.7-4.4l5.7-5.3l5.8-3.4M237.8 1141.4l5.7-3.1l5.8-.6l5.7-1.4l5.7-3.4l5.7-2.6l5.8-3.3l5.7-3l5.7-3.5l5.7-.8l5.7-3.3l5.8-.3l5.7-6.9l5.7-16.1l5.8-1.2l5.7-4l5.7-3.3l5.7-3.3l5.7-2l5.8-2.9l5.7-2.5l5.7-3.4l5.8-3.8l5.7-4.1l5.7-3.3l5.7-4.5l5.8-3.6l5.7-4.4l5.7-3.6l5.7-2.7l5.7-5.4l5.8-6.8l5.7-5.4l5.7-6.7l5.8-7.6l5.7-8.3l5.7-5.1l5.7-7.1l5.7-4.8l5.8-2.4M220.6 1149.5l5.7-1.7l5.8-1.7l5.7-.3l5.7-1.6l5.8-1.7l5.7-2.3l5.7-2.7l5.7-3l5.8-2.5l5.7-2.2l5.7-.8l5.7-.6l5.7-2.4l5.8-.7l5.7-7.8l5.7-16.9l5.8-3.7l5.7-4l5.7-2.1l5.7-2.2l5.7-3.8l5.8-3.2l5.7-3.5l5.7-4.1l5.8-3.9l5.7-4.3l5.7-3.6l5.7-3.4l5.8-4.2l5.7-2.6l5.7-4.6l5.7-3.3l5.7-4.6l5.8-4.7l5.7-5.1l5.7-8.8l5.8-8.3l5.7-6.2l5.7-4.4l5.7-6.9l5.7-4.4M232.1 1145.8l5.7-2.3l5.7-2.6l5.8-1.7l5.7-1.5l5.7 0l5.7-1.3l5.8-3.2l5.7-2.4l5.7-2.9l5.7-.3l5.7-.4l5.8-4.4l5.7-8l5.7-16l5.8-4.5l5.7-3.9l5.7-1.4l5.7-2.2l5.7-2.4l5.8-3.8l5.7-4l5.7-2.5l5.8-4.4l5.7-2.6l5.7-3.3l5.7-4.5l5.8-3.6l5.7-2.8l5.7-3.7l5.7-5.3l5.7-4.9l5.8-6.4l5.7-6.6l5.7-6.4l5.8-6.8M260.7 1207.2l5.7-.4l5.8 1.7l5.7-.7l5.7-.4l5.7 .2l5.7-3.8M243.5 1199l5.8-.6l5.7-1.9l5.7-1.2l5.7-1.2l5.8 1.6l5.7-1.4l5.7 1.9l5.7 .7l5.7-3.5l5.8-.7l5.7-2.8l5.7-1.2M260.7 1220.3l5.7-.9l5.8 .9l5.7 0l5.7-.4l5.7-2.5l5.7-3l5.8-2.3M237.8 1199l5.7 1.9l5.8-.6l5.7 .6l5.7 1.4l5.7 .1l5.8-.4l5.7-.9l5.7-1.2l5.7 .1M249.2 1198.9l5.8 1.2l5.7-.4l5.7-.9l5.8-1.3l5.7 2.3l5.7 0l5.7 .7l5.7-4.2l5.8-.7M237.8 1198.7l5.7 1.2l5.8-1.1l5.7-.9l5.7-.8l5.7-.4l5.8 1.8l5.7-1.7M249.2 1180.4l5.8 .4l5.7 1.3l5.7 1.6l5.8-.1l5.7 .8l5.7-1.2l5.7-.6l5.7 .2l5.8-2.6l5.7-.5l5.7-1.4M255 1209.9l5.7 2l5.7 1.6l5.8-1.7l5.7 1l5.7-2.2l5.7-1.4l5.7-.9l5.8-1.5l5.7-3.8l5.7-.1M260.7 1190.6l5.7-1l5.8-1.2l5.7 2.3l5.7-1l5.7 .7l5.7-2.9l5.8-1.8M249.2 1205.2l5.8-.3l5.7-1l5.7 1.6l5.8-2.2l5.7-.6l5.7 .1l5.7 1.6l5.7-3.7l5.8-1.9M243.5 1177.1l5.8 1.9l5.7-1l5.7 1.1l5.7-1.9l5.8-.9l5.7 2.6l5.7 .5l5.7-1.1l5.7 .6l5.8-2.7l5.7 .1l5.7-.5M249.2 1215.6l5.8-1.2l5.7 1.6l5.7-1l5.8 0l5.7 0l5.7 1.8M266.4 1168.3l5.8 0l5.7 0l5.7 0l5.7 0l5.7 0l5.8 0l5.7 .6l5.7-2M237.8 1211.9l5.7-2l5.8 .4l5.7 .3l5.7 1l5.7-.2l5.8-1l5.7 1.2l5.7-.7l5.7-.1l5.7-1.9l5.8-3l5.7-4.4l5.7-.1M249.2 1254.9l5.8-1.9l5.7-1.5l5.7-3.3l5.8-3.5l5.7-4.8l5.7-4l5.7-3.7l5.7 .2M243.5 1264.4l5.8-1.3l5.7 2l5.7 1.8l5.7-2.5l5.8-7.7M249.2 1257.1l5.8-2.4l5.7-.2l5.7-4.3l5.8-4l5.7-4.7l5.7-5.3l5.7-3.8M249.2 1269.9l5.8 1.1l5.7 1.3l5.7-5.2l5.8-6.6l5.7-8l5.7-8.2l5.7-6.2M249.2 1248.9l5.8-.2l5.7 .2l5.7-3.7l5.8-4.2l5.7-4.4l5.7-4.3l5.7-3M243.5 1228.3l5.8-.2l5.7-.4l5.7-2.3l5.7 1.4l5.8-.1l5.7-2.4M249.2 1253.1l5.8 .4l5.7-1.7l5.7-3.1l5.8-5.3l5.7-2.9l5.7-4.8l5.7-3.1l5.7-.7M249.2 1246.6l5.8 1.7l5.7-.4l5.7-3.9l5.8-3.4M163.4 1296.4l5.7-.5M146.2 1296.5l5.7 .1l5.7 .2l5.8-.3l5.7-.1M146.2 1307.9l5.7-.5l5.7-.4l5.8-1.8M146.2 1305.1l5.7-1l5.7-.5l5.8-.5l5.7-1.7M146.2 1304.8l5.7-1.1l5.7-1M146.2 1313.9l5.7-1.2l5.7-1.4l5.8-1.1l5.7-4.2M146.2 1295.2l5.7 .4M151.9 1313.2l5.7-1.6l5.8-2.1M146.2 1299.3l5.7-.6l5.7 .3l5.8 .2l5.7-1.1M146.2 1299.7l5.7-.1l5.7-.6l5.8 0M214.9 1171.3h0M197.7 1198.6l5.8-21.1l5.7-5.9M197.7 1218.5l5.8-21l5.7-5.3M203.4 1183.2h0M209.2 1165.9l5.7-.5M197.7 1208l5.8-19.5M197.7 1220l5.8-19.7l5.7-6M197.7 1192.4l5.8-20.1M203.4 1168.4l5.8-3.9M203.4 1197.7l5.8-5.8l5.7-5.7M209.2 1188.5l5.7-3.4M203.4 1171.6l5.8-5.3l5.7-1.4M209.2 1167.1l5.7-1M197.7 1218.7l5.8-19.6M197.7 1214.4l5.8-20.3l5.7-6.2M197.7 1222.5l5.8-20.6M197.7 1215.4l5.8-21.1l5.7-5.6l5.7-4.7M272.1 932.3l5.8-.1l5.7-.2l5.7-.1l5.7-.1l5.8-.2l5.7-.1l5.7 3.9l5.8 6.3l5.7 6.3M255 938.9l5.7 .5l5.7-.7l5.8-.3l5.7 .2l5.7 .1l5.7 .1l5.7-.6l5.8-.1l5.7 .3l5.7 3.2l5.8 5.3l5.7 5.4l5.7 3.6M260.7 945.5l5.7-.1l5.8-.4l5.7 .1l5.7-.3l5.7 .1l5.7-.1l5.8-.2M266.4 935.9l5.8 .3l5.7-.4l5.7-.6l5.7 .3M260.7 943.4l5.7-.4l5.8-.2l5.7-.3l5.7-.2l5.7-.3l5.7-.4l5.8 .7l5.7-.5"/>
<path d="M136.85 1155.27h18.7M146.2 1145.92v18.7M142.57 1152.65h18.7M151.92 1143.3v18.7M142.57 1227.11h18.7M151.92 1217.76v18.7M148.3 1149.21h18.7M157.65 1139.86v18.7M159.75 1141.28h18.7M169.1 1131.93v18.7M165.47 1138.75h18.7M174.82 1129.4v18.7M171.2 1226.97h18.7M180.55 1217.62v18.7M176.92 1129h18.7M186.27 1119.65v18.7M176.92 1228.63h18.7M186.27 1219.28v18.7M182.65 1226.96h18.7M192 1217.61v18.7M194.1 1119.65h18.7M203.45 1110.3v18.7M194.1 1199.42h18.7M203.45 1190.07v18.7M136.85 1225.13h18.7M146.2 1215.78v18.7M136.85 1295h18.7M146.2 1285.65v18.7M142.57 1225.13h18.7M151.92 1215.78v18.7M142.57 1295h18.7M151.92 1285.65v18.7M148.3 1225.13h18.7M157.65 1215.78v18.7M148.3 1295h18.7M157.65 1285.65v18.7M154.03 1225.13h18.7M163.38 1215.78v18.7M154.03 1295h18.7M163.38 1285.65v18.7M159.75 1225.13h18.7M169.1 1215.78v18.7M159.75 1291.6h18.7M169.1 1282.25v18.7M165.47 1225.13h18.7M174.82 1215.78v18.7M165.47 1282.69h18.7M174.82 1273.34v18.7M171.2 1225.13h18.7M180.55 1215.78v18.7M171.2 1273.79h18.7M180.55 1264.44v18.7M176.92 1225.13h18.7M186.27 1215.78v18.7M176.92 1259.62h18.7M186.27 1250.27v18.7M182.65 1225.13h18.7M192 1215.78v18.7M182.65 1243.88h18.7M192 1234.53v18.7M188.38 1225.13h18.7M197.72 1215.78v18.7M188.38 1226.76h18.7M197.72 1217.41v18.7M199.82 1012.94h18.7M209.17 1003.59v18.7M205.55 994.63h18.7M214.9 985.28v18.7M205.55 1147.22h18.7M214.9 1137.87v18.7M222.72 960.61h18.7M232.07 951.26v18.7M239.9 954.53h18.7M249.25 945.18v18.7M239.9 1135.82h18.7M249.25 1126.47v18.7M245.62 954.88h18.7M254.97 945.53v18.7M251.35 954.65h18.7M260.7 945.3v18.7M251.35 1130.45h18.7M260.7 1121.1v18.7M257.07 952.68h18.7M266.42 943.33v18.7M257.07 1128.62h18.7M266.42 1119.27v18.7M262.8 954.49h18.7M272.15 945.14v18.7M268.52 952.94h18.7M277.88 943.59v18.7M274.25 954.99h18.7M283.6 945.64v18.7M274.25 1121.12h18.7M283.6 1111.77v18.7M291.42 1114.51h18.7M300.77 1105.16v18.7M297.15 955.05h18.7M306.5 945.7v18.7M302.87 1089.94h18.7M312.22 1080.59v18.7M308.6 1088.97h18.7M317.95 1079.62v18.7M314.32 1085.92h18.7M323.67 1076.57v18.7M325.77 1080h18.7M335.12 1070.65v18.7M331.5 975.51h18.7M340.85 966.16v18.7M331.5 1077.27h18.7M340.85 1067.92v18.7M342.95 978.7h18.7M352.3 969.35v18.7M342.95 1070.64h18.7M352.3 1061.29v18.7M348.67 1069.56h18.7M358.02 1060.21v18.7M354.4 980.16h18.7M363.75 970.81v18.7M360.12 979.1h18.7M369.47 969.75v18.7M360.12 1061.68h18.7M369.47 1052.33v18.7M199.82 1011.53h18.7M209.17 1002.18v18.7M199.82 1014.89h18.7M209.17 1005.54v18.7M205.55 990.92h18.7M214.9 981.57v18.7M205.55 994.85h18.7M214.9 985.5v18.7M211.28 970.31h18.7M220.62 960.96v18.7M211.28 974.81h18.7M220.62 965.46v18.7M217 961.33h18.7M226.35 951.98v18.7M217 965.35h18.7M226.35 956v18.7M222.72 958.16h18.7M232.07 948.81v18.7M222.72 962.06h18.7M232.07 952.71v18.7M228.45 956.29h18.7M237.8 946.94v18.7M228.45 960.19h18.7M237.8 950.84v18.7M234.17 954.42h18.7M243.52 945.07v18.7M234.17 958.31h18.7M243.52 948.96v18.7M239.9 950.74h18.7M249.25 941.39v18.7M239.9 956.93h18.7M249.25 947.58v18.7M245.62 946.16h18.7M254.97 936.81v18.7M245.62 955.78h18.7M254.97 946.43v18.7M251.35 945.58h18.7M260.7 936.23v18.7M251.35 955.6h18.7M260.7 946.25v18.7M257.07 945.15h18.7M266.42 935.8v18.7M257.07 955.46h18.7M266.42 946.11v18.7M262.8 944.72h18.7M272.15 935.37v18.7M262.8 955.32h18.7M272.15 945.97v18.7M268.52 944.29h18.7M277.88 934.94v18.7M268.52 955.17h18.7M277.88 945.82v18.7M274.25 943.97h18.7M283.6 934.62v18.7M274.25 955.09h18.7M283.6 945.74v18.7M279.97 943.79h18.7M289.32 934.44v18.7M279.97 955.09h18.7M289.32 945.74v18.7M285.7 943.62h18.7M295.05 934.27v18.7M285.7 955.09h18.7M295.05 945.74v18.7M291.42 943.44h18.7M300.77 934.09v18.7M291.42 955.09h18.7M300.77 945.74v18.7M297.15 943.26h18.7M306.5 933.91v18.7M297.15 955.39h18.7M306.5 946.04v18.7M302.87 944.82h18.7M312.22 935.47v18.7M302.87 956.78h18.7M312.22 947.43v18.7M308.6 951.11h18.7M317.95 941.76v18.7M308.6 959.93h18.7M317.95 950.58v18.7M314.32 957.41h18.7M323.67 948.06v18.7M314.32 963.08h18.7M323.67 953.73v18.7M320.05 963.61h18.7M329.4 954.26v18.7M320.05 968.03h18.7M329.4 958.68v18.7M325.77 969.79h18.7M335.12 960.44v18.7M325.77 973.3h18.7M335.12 963.95v18.7M331.5 975.9h18.7M340.85 966.55v18.7M331.5 978.5h18.7M340.85 969.15v18.7M337.22 977.05h18.7M346.57 967.7v18.7M337.22 979.42h18.7M346.57 970.07v18.7M342.95 978.19h18.7M352.3 968.84v18.7M342.95 980.33h18.7M352.3 970.98v18.7M348.67 979.14h18.7M358.02 969.79v18.7M348.67 981.05h18.7M358.02 971.7v18.7M354.4 979.14h18.7M363.75 969.79v18.7M354.4 981h18.7M363.75 971.65v18.7M360.12 979.14h18.7M369.47 969.79v18.7M360.12 980.96h18.7M369.47 971.61v18.7M365.85 979.52h18.7M375.2 970.17v18.7M365.85 1056.42h18.7M375.2 1047.07v18.7M371.57 979.63h18.7M380.92 970.28v18.7M371.57 1052.42h18.7M380.92 1043.07v18.7M377.3 979.75h18.7M386.65 970.4v18.7M377.3 1048.41h18.7M386.65 1039.06v18.7M383.02 979.5h18.7M392.38 970.15v18.7M383.02 1044.4h18.7M392.38 1035.05v18.7M388.75 977.21h18.7M398.1 967.86v18.7M388.75 1040.39h18.7M398.1 1031.04v18.7M394.47 974.92h18.7M403.82 965.57v18.7M394.47 1036.39h18.7M403.82 1027.04v18.7M400.2 972.31h18.7M409.55 962.96v18.7M400.2 1031.24h18.7M409.55 1021.89v18.7M405.92 968.87h18.7M415.27 959.52v18.7M405.92 1025.52h18.7M415.27 1016.17v18.7M411.65 965.44h18.7M421 956.09v18.7M411.65 1019.79h18.7M421 1010.44v18.7M417.37 960.98h18.7M426.72 951.63v18.7M417.37 1012.18h18.7M426.72 1002.83v18.7M423.1 955.25h18.7M432.45 945.9v18.7M423.1 1004.16h18.7M432.45 994.81v18.7M428.82 949.53h18.7M438.17 940.18v18.7M428.82 996.15h18.7M438.17 986.8v18.7M434.55 942.4h18.7M443.9 933.05v18.7M434.55 990.39h18.7M443.9 981.04v18.7M440.27 934.39h18.7M449.62 925.04v18.7M440.27 984.67h18.7M449.62 975.32v18.7M446 926.37h18.7M455.35 917.02v18.7M446 979.45h18.7M455.35 970.1v18.7M451.72 918.36h18.7M461.07 909.01v18.7M451.72 977.16h18.7M461.07 967.81v18.7M457.45 910.34h18.7M466.8 900.99v18.7M457.45 974.87h18.7M466.8 965.52v18.7M217.15 926.7h18.7M226.5 917.35v18.7M217.15 958.3h18.7M226.5 948.95v18.7M463.15 748.1h18.7M472.5 738.75v18.7M463.15 897.3h18.7M472.5 887.95v18.7M314.35 1172.5h18.7M323.7 1163.15v18.7M314.35 1198.2h18.7M323.7 1188.85v18.7M314.35 1213.7h18.7M323.7 1204.35v18.7M291.45 1226.2h18.7M300.8 1216.85v18.7M279.95 1255h18.7M289.3 1245.65v18.7M279.95 1285.8h18.7M289.3 1276.45v18.7M262.85 1292h18.7M272.2 1282.65v18.7M262.85 1296.2h18.7M272.2 1286.85v18.7M279.95 1311.2h18.7M289.3 1301.85v18.7M274.35 1320.3h18.7M283.7 1310.95v18.7M251.45 1316.2h18.7M260.8 1306.85v18.7M239.95 1320.3h18.7M249.3 1310.95v18.7M251.45 1329.5h18.7M260.8 1320.15v18.7M199.85 1271.7h18.7M209.2 1262.35v18.7M199.85 1290h18.7M209.2 1280.65v18.7M199.85 1307h18.7M209.2 1297.65v18.7M136.85 1328.7h18.7M146.2 1319.35v18.7M463.15 1137h18.7M472.5 1127.65v18.7M463.15 1180h18.7M472.5 1170.65v18.7M463.15 1201h18.7M472.5 1191.65v18.7M463.15 1250h18.7M472.5 1240.65v18.7M463.15 1275h18.7M472.5 1265.65v18.7M463.15 1030h18.7M472.5 1020.65v18.7M463.15 1043.8h18.7M472.5 1034.45v18.7M217.15 926.7h18.7M226.5 917.35v18.7M463.15 748.1h18.7M472.5 738.75v18.7" stroke="#b0b0b0" stroke-width="1.65" fill="none"/>
<path d="M146.2 1134.5V1213.3M140.7 1134.5h11M140.7 1213.3h11M157.65 1131.5V1208.1M152.15 1131.5h11M152.15 1208.1h11M169.1 1128.3V1195.3M163.6 1128.3h11M163.6 1195.3h11M180.55 1123.3V1178.3M175.05 1123.3h11M175.05 1178.3h11M192 1117V1161.6M186.5 1117h11M186.5 1161.6h11M203.45 1069.2V1171.2M197.95 1069.2h11M197.95 1171.2h11M214.9 1044V1148.2M209.4 1044h11M209.4 1148.2h11M226.35 1024V1128.2M220.85 1024h11M220.85 1128.2h11M237.8 1022.5V1109.1M232.3 1022.5h11M232.3 1109.1h11M249.25 1000.8V1138.8M243.75 1000.8h11M243.75 1138.8h11M260.7 979.8V1154.8M255.2 979.8h11M255.2 1154.8h11M272.15 996.5V1130.3M266.65 996.5h11M266.65 1130.3h11M283.6 1005.8V1105.4M278.1 1005.8h11M278.1 1105.4h11M295.05 994.8V1104M289.55 994.8h11M289.55 1104h11M306.5 990.8V1097.8M301 990.8h11M301 1097.8h11M317.95 1013.3V1066.9M312.45 1013.3h11M312.45 1066.9h11M329.4 1011.7V1061.7M323.9 1011.7h11M323.9 1061.7h11M340.85 1017.3V1051.3M335.35 1017.3h11M335.35 1051.3h11M352.3 1020.1V1043.1M346.8 1020.1h11M346.8 1043.1h11M363.75 1016.6V1039M358.25 1016.6h11M358.25 1039h11M375.2 1013.4V1031.4M369.7 1013.4h11M369.7 1031.4h11M386.65 1008.2V1025M381.15 1008.2h11M381.15 1025h11M398.1 1000V1019M392.6 1000h11M392.6 1019h11M409.55 990.4V1011.6M404.05 990.4h11M404.05 1011.6h11M421 979.7V1002.1M415.5 979.7h11M415.5 1002.1h11M432.45 967.9V991.3M426.95 967.9h11M426.95 991.3h11M443.9 956.1V979.3M438.4 956.1h11M438.4 979.3h11M455.35 923.8V960M449.85 923.8h11M449.85 960h11M466.8 850.5V1010.9M461.3 850.5h11M461.3 1010.9h11M478.25 786.8V1036.6M472.75 786.8h11M472.75 1036.6h11" stroke="#000" stroke-width="1.8" fill="none"/>
<circle cx="146.2" cy="1173.9" r="3.65" fill="#000" stroke="#000" stroke-width="1.75"/><circle cx="157.65" cy="1169.8" r="3.65" fill="#000" stroke="#000" stroke-width="1.75"/><circle cx="169.1" cy="1161.8" r="3.65" fill="#000" stroke="#000" stroke-width="1.75"/><circle cx="180.55" cy="1150.8" r="3.65" fill="#000" stroke="#000" stroke-width="1.75"/><circle cx="192" cy="1139.3" r="3.65" fill="#000" stroke="#000" stroke-width="1.75"/><circle cx="203.45" cy="1120.2" r="3.65" fill="#000" stroke="#000" stroke-width="1.75"/><circle cx="214.9" cy="1096.1" r="3.65" fill="#000" stroke="#000" stroke-width="1.75"/><circle cx="226.35" cy="1076.1" r="3.65" fill="#000" stroke="#000" stroke-width="1.75"/><circle cx="237.8" cy="1065.8" r="3.65" fill="#000" stroke="#000" stroke-width="1.75"/><circle cx="249.25" cy="1069.8" r="3.65" fill="#000" stroke="#000" stroke-width="1.75"/><circle cx="260.7" cy="1067.3" r="3.65" fill="#000" stroke="#000" stroke-width="1.75"/><circle cx="272.15" cy="1063.4" r="3.65" fill="#000" stroke="#000" stroke-width="1.75"/><circle cx="283.6" cy="1055.6" r="3.65" fill="#000" stroke="#000" stroke-width="1.75"/><circle cx="295.05" cy="1049.4" r="3.65" fill="#000" stroke="#000" stroke-width="1.75"/><circle cx="306.5" cy="1044.3" r="3.65" fill="#000" stroke="#000" stroke-width="1.75"/><circle cx="317.95" cy="1040.1" r="3.65" fill="#000" stroke="#000" stroke-width="1.75"/><circle cx="329.4" cy="1036.7" r="3.65" fill="#000" stroke="#000" stroke-width="1.75"/><circle cx="340.85" cy="1034.3" r="3.65" fill="#000" stroke="#000" stroke-width="1.75"/><circle cx="352.3" cy="1031.6" r="3.65" fill="#000" stroke="#000" stroke-width="1.75"/><circle cx="363.75" cy="1027.8" r="3.65" fill="#000" stroke="#000" stroke-width="1.75"/><circle cx="375.2" cy="1022.4" r="3.65" fill="#000" stroke="#000" stroke-width="1.75"/><circle cx="386.65" cy="1016.6" r="3.65" fill="#000" stroke="#000" stroke-width="1.75"/><circle cx="398.1" cy="1009.5" r="3.65" fill="#000" stroke="#000" stroke-width="1.75"/><circle cx="409.55" cy="1001" r="3.65" fill="#000" stroke="#000" stroke-width="1.75"/><circle cx="421" cy="990.9" r="3.65" fill="#000" stroke="#000" stroke-width="1.75"/><circle cx="432.45" cy="979.6" r="3.65" fill="#000" stroke="#000" stroke-width="1.75"/><circle cx="443.9" cy="967.7" r="3.65" fill="#000" stroke="#000" stroke-width="1.75"/><circle cx="455.35" cy="941.9" r="3.65" fill="#000" stroke="#000" stroke-width="1.75"/><circle cx="466.8" cy="930.7" r="3.65" fill="#000" stroke="#000" stroke-width="1.75"/><circle cx="478.25" cy="911.7" r="3.65" fill="#000" stroke="#000" stroke-width="1.75"/>
<text transform="translate(47.2 1345.8) scale(0.960 1)" font-size="28" letter-spacing="-1.2" stroke-width="0.45">10</text>
<text transform="translate(78.4 1337.8) scale(0.950 1)" font-size="24" stroke-width="0.45">1</text>
<text transform="translate(47.2 1199.42) scale(0.960 1)" font-size="28" letter-spacing="-1.2" stroke-width="0.45">10</text>
<text transform="translate(78.4 1191.42) scale(0.950 1)" font-size="24" stroke-width="0.45">2</text>
<text transform="translate(47.2 1053.05) scale(0.960 1)" font-size="28" letter-spacing="-1.2" stroke-width="0.45">10</text>
<text transform="translate(78.4 1045.05) scale(0.950 1)" font-size="24" stroke-width="0.45">3</text>
<text transform="translate(47.2 906.67) scale(0.960 1)" font-size="28" letter-spacing="-1.2" stroke-width="0.45">10</text>
<text transform="translate(78.4 898.67) scale(0.950 1)" font-size="24" stroke-width="0.45">4</text>
<text transform="translate(47.2 760.3) scale(0.960 1)" font-size="28" letter-spacing="-1.2" stroke-width="0.45">10</text>
<text transform="translate(78.4 752.3) scale(0.950 1)" font-size="24" stroke-width="0.45">5</text>
<text transform="translate(139.3 1369.6) scale(0.980 1)" font-size="28" text-anchor="middle" stroke-width="0.45">.1</text>
<text transform="translate(283.6 1369.6) scale(0.980 1)" font-size="28" text-anchor="middle" stroke-width="0.45">1</text>
<text transform="translate(426.7 1369.6) scale(0.980 1)" font-size="28" text-anchor="middle" stroke-width="0.45">10</text>
<text transform="translate(304.5 1404.2) scale(1.030 1)" font-size="35.5" text-anchor="middle" stroke-width="0.45">Frequency (Hz)</text>
<text transform="translate(27.7 1045.3) rotate(-90) scale(0.949 1)" font-size="36.3" text-anchor="middle" stroke-width="0.45">Lg-wave Q</text>
<text transform="translate(135.6 817.6) scale(1.035 1)" font-size="40" stroke-width="0.45">(d)</text>
<text transform="translate(133 865.1) scale(1.150 1)" font-size="29" stroke-width="0.45">Q</text>
<text transform="translate(156.2 871.3) scale(1.050 1)" font-size="21" stroke-width="0.45">0</text>
<text transform="translate(168.4 865.1) scale(1.120 1)" font-size="28" stroke-width="0.45">=</text>
<text transform="translate(197 865.1) scale(1.045 1)" font-size="27.8" stroke-width="0.45">792</text>
<text transform="translate(253 865.1) scale(1.045 1)" font-size="27.8" stroke-width="0.45">(362</text>
<text transform="translate(312.4 865.1) scale(1.045 1)" font-size="27.8" stroke-width="0.45">-</text>
<text transform="translate(326.7 865.1) scale(1.045 1)" font-size="27.8" stroke-width="0.45">1733</text>
<text transform="translate(394.5 865.1) scale(1.045 1)" font-size="27.8" stroke-width="0.45">)</text>
<text transform="translate(386.8 1275.6) scale(0.970 1)" font-size="37" stroke-width="0.45">SR</text>
</g>
<g id="panel-e">
<rect x="771.05" y="748.1" width="156.8" height="585.5" fill="#cbcbcb"/>
<polyline points="702.1,1193.92 713.55,1181.9 725,1165.89 736.45,1151.04 747.9,1125.18 759.35,1096.15 770.8,1066.12 782.25,1053.44 793.7,1057.28 805.15,1049.27 816.6,1041.43 828.05,1028.59 839.5,1016.41 850.95,1007.4 862.4,998.72 873.85,991.38 885.3,986.38 896.75,979.87 908.2,972.53 919.65,962.02 931.1,950.68 942.55,938.5 954,923.15 965.45,906.47 976.9,887.28 988.35,868.09 999.8,820.05 1011.25,798.86 1022.7,762.66" fill="none" stroke="#000" stroke-width="0.7"/>
<circle cx="702.1" cy="1193.92" r="3.7" fill="none" stroke="#000" stroke-width="1.6"/><circle cx="713.55" cy="1181.9" r="3.7" fill="none" stroke="#000" stroke-width="1.6"/><circle cx="725" cy="1165.89" r="3.7" fill="none" stroke="#000" stroke-width="1.6"/><circle cx="736.45" cy="1151.04" r="3.7" fill="none" stroke="#000" stroke-width="1.6"/><circle cx="747.9" cy="1125.18" r="3.7" fill="none" stroke="#000" stroke-width="1.6"/><circle cx="759.35" cy="1096.15" r="3.7" fill="none" stroke="#000" stroke-width="1.6"/><circle cx="770.8" cy="1066.12" r="3.7" fill="none" stroke="#000" stroke-width="1.6"/><circle cx="782.25" cy="1053.44" r="3.7" fill="none" stroke="#000" stroke-width="1.6"/><circle cx="793.7" cy="1057.28" r="3.7" fill="none" stroke="#000" stroke-width="1.6"/><circle cx="805.15" cy="1049.27" r="3.7" fill="none" stroke="#000" stroke-width="1.6"/><circle cx="816.6" cy="1041.43" r="3.7" fill="none" stroke="#000" stroke-width="1.6"/><circle cx="828.05" cy="1028.59" r="3.7" fill="none" stroke="#000" stroke-width="1.6"/><circle cx="839.5" cy="1016.41" r="3.7" fill="none" stroke="#000" stroke-width="1.6"/><circle cx="850.95" cy="1007.4" r="3.7" fill="none" stroke="#000" stroke-width="1.6"/><circle cx="862.4" cy="998.72" r="3.7" fill="none" stroke="#000" stroke-width="1.6"/><circle cx="873.85" cy="991.38" r="3.7" fill="none" stroke="#000" stroke-width="1.6"/><circle cx="885.3" cy="986.38" r="3.7" fill="none" stroke="#000" stroke-width="1.6"/><circle cx="896.75" cy="979.87" r="3.7" fill="none" stroke="#000" stroke-width="1.6"/><circle cx="908.2" cy="972.53" r="3.7" fill="none" stroke="#000" stroke-width="1.6"/><circle cx="919.65" cy="962.02" r="3.7" fill="none" stroke="#000" stroke-width="1.6"/><circle cx="931.1" cy="950.68" r="3.7" fill="none" stroke="#000" stroke-width="1.6"/><circle cx="942.55" cy="938.5" r="3.7" fill="none" stroke="#000" stroke-width="1.6"/><circle cx="954" cy="923.15" r="3.7" fill="none" stroke="#000" stroke-width="1.6"/><circle cx="965.45" cy="906.47" r="3.7" fill="none" stroke="#000" stroke-width="1.6"/><circle cx="976.9" cy="887.28" r="3.7" fill="none" stroke="#000" stroke-width="1.6"/><circle cx="988.35" cy="868.09" r="3.7" fill="none" stroke="#000" stroke-width="1.6"/><circle cx="999.8" cy="820.05" r="3.7" fill="none" stroke="#000" stroke-width="1.6"/><circle cx="1011.25" cy="798.86" r="3.7" fill="none" stroke="#000" stroke-width="1.6"/><circle cx="1022.7" cy="762.66" r="3.7" fill="none" stroke="#000" stroke-width="1.6"/>
<polyline points="702.1,1193.25 713.55,1180.74 725,1163.22 736.45,1142.53 747.9,1112.5 759.35,1071.63 770.8,1036.93 782.25,1016.07 793.7,1022.41 805.15,1019.41 816.6,1014.07 828.05,1003.89 839.5,992.55 850.95,983.54 862.4,978.04 873.85,976.2 885.3,974.2 896.75,970.7 908.2,966.02 919.65,957.35 931.1,947.84 942.55,935.66 954,920.81 965.45,903.63 976.9,884.61 988.35,865.09 999.8,817.54 1011.25,796.36 1022.7,760.49" fill="none" stroke="#000" stroke-width="0.7"/>
<rect x="698.45" y="1189.6" width="7.3" height="7.3" rx="1" fill="none" stroke="#000" stroke-width="1.6"/><rect x="709.9" y="1177.09" width="7.3" height="7.3" rx="1" fill="none" stroke="#000" stroke-width="1.6"/><rect x="721.35" y="1159.57" width="7.3" height="7.3" rx="1" fill="none" stroke="#000" stroke-width="1.6"/><rect x="732.8" y="1138.88" width="7.3" height="7.3" rx="1" fill="none" stroke="#000" stroke-width="1.6"/><rect x="744.25" y="1108.85" width="7.3" height="7.3" rx="1" fill="none" stroke="#000" stroke-width="1.6"/><rect x="755.7" y="1067.98" width="7.3" height="7.3" rx="1" fill="none" stroke="#000" stroke-width="1.6"/><rect x="767.15" y="1033.28" width="7.3" height="7.3" rx="1" fill="none" stroke="#000" stroke-width="1.6"/><rect x="778.6" y="1012.42" width="7.3" height="7.3" rx="1" fill="none" stroke="#000" stroke-width="1.6"/><rect x="790.05" y="1018.76" width="7.3" height="7.3" rx="1" fill="none" stroke="#000" stroke-width="1.6"/><rect x="801.5" y="1015.76" width="7.3" height="7.3" rx="1" fill="none" stroke="#000" stroke-width="1.6"/><rect x="812.95" y="1010.42" width="7.3" height="7.3" rx="1" fill="none" stroke="#000" stroke-width="1.6"/><rect x="824.4" y="1000.24" width="7.3" height="7.3" rx="1" fill="none" stroke="#000" stroke-width="1.6"/><rect x="835.85" y="988.9" width="7.3" height="7.3" rx="1" fill="none" stroke="#000" stroke-width="1.6"/><rect x="847.3" y="979.89" width="7.3" height="7.3" rx="1" fill="none" stroke="#000" stroke-width="1.6"/><rect x="858.75" y="974.39" width="7.3" height="7.3" rx="1" fill="none" stroke="#000" stroke-width="1.6"/><rect x="870.2" y="972.55" width="7.3" height="7.3" rx="1" fill="none" stroke="#000" stroke-width="1.6"/><rect x="881.65" y="970.55" width="7.3" height="7.3" rx="1" fill="none" stroke="#000" stroke-width="1.6"/><rect x="893.1" y="967.05" width="7.3" height="7.3" rx="1" fill="none" stroke="#000" stroke-width="1.6"/><rect x="904.55" y="962.37" width="7.3" height="7.3" rx="1" fill="none" stroke="#000" stroke-width="1.6"/><rect x="916" y="953.7" width="7.3" height="7.3" rx="1" fill="none" stroke="#000" stroke-width="1.6"/><rect x="927.45" y="944.19" width="7.3" height="7.3" rx="1" fill="none" stroke="#000" stroke-width="1.6"/><rect x="938.9" y="932.01" width="7.3" height="7.3" rx="1" fill="none" stroke="#000" stroke-width="1.6"/><rect x="950.35" y="917.16" width="7.3" height="7.3" rx="1" fill="none" stroke="#000" stroke-width="1.6"/><rect x="961.8" y="899.98" width="7.3" height="7.3" rx="1" fill="none" stroke="#000" stroke-width="1.6"/><rect x="973.25" y="880.96" width="7.3" height="7.3" rx="1" fill="none" stroke="#000" stroke-width="1.6"/><rect x="984.7" y="861.44" width="7.3" height="7.3" rx="1" fill="none" stroke="#000" stroke-width="1.6"/><rect x="996.15" y="813.89" width="7.3" height="7.3" rx="1" fill="none" stroke="#000" stroke-width="1.6"/><rect x="1007.6" y="792.71" width="7.3" height="7.3" rx="1" fill="none" stroke="#000" stroke-width="1.6"/><rect x="1019.05" y="756.84" width="7.3" height="7.3" rx="1" fill="none" stroke="#000" stroke-width="1.6"/>
<polyline points="702.1,1235.79 713.55,1217.77 725,1192.41 736.45,1160.55 747.9,1114.67 759.35,1055.61 770.8,1010.9 782.25,990.88 793.7,997.39 805.15,991.72 816.6,983.71 828.05,969.53 839.5,962.85 850.95,956.85 862.4,954.68 873.85,956.68 885.3,959.35 896.75,960.69 908.2,959.85 919.65,954.01 931.1,946 942.55,935.33 954,920.48 965.45,903.8 976.9,884.44 988.35,865.42 999.8,814.71 1011.25,792.35 1022.7,753.98" fill="none" stroke="#000" stroke-width="0.7"/>
<path d="M702.1 1230.99L706.4 1238.69L697.8 1238.69Z" fill="none" stroke="#000" stroke-width="1.6" stroke-linejoin="round"/><path d="M713.55 1212.97L717.85 1220.67L709.25 1220.67Z" fill="none" stroke="#000" stroke-width="1.6" stroke-linejoin="round"/><path d="M725 1187.61L729.3 1195.31L720.7 1195.31Z" fill="none" stroke="#000" stroke-width="1.6" stroke-linejoin="round"/><path d="M736.45 1155.75L740.75 1163.45L732.15 1163.45Z" fill="none" stroke="#000" stroke-width="1.6" stroke-linejoin="round"/><path d="M747.9 1109.87L752.2 1117.57L743.6 1117.57Z" fill="none" stroke="#000" stroke-width="1.6" stroke-linejoin="round"/><path d="M759.35 1050.81L763.65 1058.51L755.05 1058.51Z" fill="none" stroke="#000" stroke-width="1.6" stroke-linejoin="round"/><path d="M770.8 1006.1L775.1 1013.8L766.5 1013.8Z" fill="none" stroke="#000" stroke-width="1.6" stroke-linejoin="round"/><path d="M782.25 986.08L786.55 993.78L777.95 993.78Z" fill="none" stroke="#000" stroke-width="1.6" stroke-linejoin="round"/><path d="M793.7 992.59L798 1000.29L789.4 1000.29Z" fill="none" stroke="#000" stroke-width="1.6" stroke-linejoin="round"/><path d="M805.15 986.92L809.45 994.62L800.85 994.62Z" fill="none" stroke="#000" stroke-width="1.6" stroke-linejoin="round"/><path d="M816.6 978.91L820.9 986.61L812.3 986.61Z" fill="none" stroke="#000" stroke-width="1.6" stroke-linejoin="round"/><path d="M828.05 964.73L832.35 972.43L823.75 972.43Z" fill="none" stroke="#000" stroke-width="1.6" stroke-linejoin="round"/><path d="M839.5 958.05L843.8 965.75L835.2 965.75Z" fill="none" stroke="#000" stroke-width="1.6" stroke-linejoin="round"/><path d="M850.95 952.05L855.25 959.75L846.65 959.75Z" fill="none" stroke="#000" stroke-width="1.6" stroke-linejoin="round"/><path d="M862.4 949.88L866.7 957.58L858.1 957.58Z" fill="none" stroke="#000" stroke-width="1.6" stroke-linejoin="round"/><path d="M873.85 951.88L878.15 959.58L869.55 959.58Z" fill="none" stroke="#000" stroke-width="1.6" stroke-linejoin="round"/><path d="M885.3 954.55L889.6 962.25L881 962.25Z" fill="none" stroke="#000" stroke-width="1.6" stroke-linejoin="round"/><path d="M896.75 955.89L901.05 963.59L892.45 963.59Z" fill="none" stroke="#000" stroke-width="1.6" stroke-linejoin="round"/><path d="M908.2 955.05L912.5 962.75L903.9 962.75Z" fill="none" stroke="#000" stroke-width="1.6" stroke-linejoin="round"/><path d="M919.65 949.21L923.95 956.91L915.35 956.91Z" fill="none" stroke="#000" stroke-width="1.6" stroke-linejoin="round"/><path d="M931.1 941.2L935.4 948.9L926.8 948.9Z" fill="none" stroke="#000" stroke-width="1.6" stroke-linejoin="round"/><path d="M942.55 930.53L946.85 938.23L938.25 938.23Z" fill="none" stroke="#000" stroke-width="1.6" stroke-linejoin="round"/><path d="M954 915.68L958.3 923.38L949.7 923.38Z" fill="none" stroke="#000" stroke-width="1.6" stroke-linejoin="round"/><path d="M965.45 899L969.75 906.7L961.15 906.7Z" fill="none" stroke="#000" stroke-width="1.6" stroke-linejoin="round"/><path d="M976.9 879.64L981.2 887.34L972.6 887.34Z" fill="none" stroke="#000" stroke-width="1.6" stroke-linejoin="round"/><path d="M988.35 860.62L992.65 868.32L984.05 868.32Z" fill="none" stroke="#000" stroke-width="1.6" stroke-linejoin="round"/><path d="M999.8 809.91L1004.1 817.61L995.5 817.61Z" fill="none" stroke="#000" stroke-width="1.6" stroke-linejoin="round"/><path d="M1011.25 787.55L1015.55 795.25L1006.95 795.25Z" fill="none" stroke="#000" stroke-width="1.6" stroke-linejoin="round"/><path d="M1022.7 749.18L1027 756.88L1018.4 756.88Z" fill="none" stroke="#000" stroke-width="1.6" stroke-linejoin="round"/>
<polyline points="702.1,1207.43 713.55,1194.08 725,1175.73 736.45,1156.55 747.9,1124.68 759.35,1084.47 770.8,1051.11 782.25,1033.92 793.7,1040.6 805.15,1036.43 816.6,1029.92 828.05,1016.91 839.5,1006.56 850.95,998.06 862.4,991.05 873.85,985.38 885.3,981.37 896.75,976.87 908.2,970.53 919.65,961.52 931.1,951.84 942.55,940 954,925.82 965.45,908.97 976.9,890.12 988.35,870.26 999.8,827.22 1011.25,808.53 1022.7,776.84" fill="none" stroke="#000" stroke-width="0.7"/>
<circle cx="702.1" cy="1207.43" r="3.3" fill="#000" stroke="#000" stroke-width="1"/><circle cx="713.55" cy="1194.08" r="3.3" fill="#000" stroke="#000" stroke-width="1"/><circle cx="725" cy="1175.73" r="3.3" fill="#000" stroke="#000" stroke-width="1"/><circle cx="736.45" cy="1156.55" r="3.3" fill="#000" stroke="#000" stroke-width="1"/><circle cx="747.9" cy="1124.68" r="3.3" fill="#000" stroke="#000" stroke-width="1"/><circle cx="759.35" cy="1084.47" r="3.3" fill="#000" stroke="#000" stroke-width="1"/><circle cx="770.8" cy="1051.11" r="3.3" fill="#000" stroke="#000" stroke-width="1"/><circle cx="782.25" cy="1033.92" r="3.3" fill="#000" stroke="#000" stroke-width="1"/><circle cx="793.7" cy="1040.6" r="3.3" fill="#000" stroke="#000" stroke-width="1"/><circle cx="805.15" cy="1036.43" r="3.3" fill="#000" stroke="#000" stroke-width="1"/><circle cx="816.6" cy="1029.92" r="3.3" fill="#000" stroke="#000" stroke-width="1"/><circle cx="828.05" cy="1016.91" r="3.3" fill="#000" stroke="#000" stroke-width="1"/><circle cx="839.5" cy="1006.56" r="3.3" fill="#000" stroke="#000" stroke-width="1"/><circle cx="850.95" cy="998.06" r="3.3" fill="#000" stroke="#000" stroke-width="1"/><circle cx="862.4" cy="991.05" r="3.3" fill="#000" stroke="#000" stroke-width="1"/><circle cx="873.85" cy="985.38" r="3.3" fill="#000" stroke="#000" stroke-width="1"/><circle cx="885.3" cy="981.37" r="3.3" fill="#000" stroke="#000" stroke-width="1"/><circle cx="896.75" cy="976.87" r="3.3" fill="#000" stroke="#000" stroke-width="1"/><circle cx="908.2" cy="970.53" r="3.3" fill="#000" stroke="#000" stroke-width="1"/><circle cx="919.65" cy="961.52" r="3.3" fill="#000" stroke="#000" stroke-width="1"/><circle cx="931.1" cy="951.84" r="3.3" fill="#000" stroke="#000" stroke-width="1"/><circle cx="942.55" cy="940" r="3.3" fill="#000" stroke="#000" stroke-width="1"/><circle cx="954" cy="925.82" r="3.3" fill="#000" stroke="#000" stroke-width="1"/><circle cx="965.45" cy="908.97" r="3.3" fill="#000" stroke="#000" stroke-width="1"/><circle cx="976.9" cy="890.12" r="3.3" fill="#000" stroke="#000" stroke-width="1"/><circle cx="988.35" cy="870.26" r="3.3" fill="#000" stroke="#000" stroke-width="1"/><circle cx="999.8" cy="827.22" r="3.3" fill="#000" stroke="#000" stroke-width="1"/><circle cx="1011.25" cy="808.53" r="3.3" fill="#000" stroke="#000" stroke-width="1"/><circle cx="1022.7" cy="776.84" r="3.3" fill="#000" stroke="#000" stroke-width="1"/>
<path d="M653.2 748.1v9M653.2 1333.6v-9M662.78 748.1v9M662.78 1333.6v-9M671.08 748.1v9M671.08 1333.6v-9M678.4 748.1v9M678.4 1333.6v-9M684.95 748.1v18.3M684.95 1333.6v-18.3M728.03 748.1v9M728.03 1333.6v-9M753.23 748.1v9M753.23 1333.6v-9M771.1 748.1v9M771.1 1333.6v-9M784.97 748.1v9M784.97 1333.6v-9M796.3 748.1v9M796.3 1333.6v-9M805.88 748.1v9M805.88 1333.6v-9M814.18 748.1v9M814.18 1333.6v-9M821.5 748.1v9M821.5 1333.6v-9M828.05 748.1v18.3M828.05 1333.6v-18.3M871.13 748.1v9M871.13 1333.6v-9M896.33 748.1v9M896.33 1333.6v-9M914.2 748.1v9M914.2 1333.6v-9M928.07 748.1v9M928.07 1333.6v-9M939.4 748.1v9M939.4 1333.6v-9M948.98 748.1v9M948.98 1333.6v-9M957.28 748.1v9M957.28 1333.6v-9M964.6 748.1v9M964.6 1333.6v-9M971.15 748.1v18.3M971.15 1333.6v-18.3M1014.23 748.1v9M1014.23 1333.6v-9M1039.43 748.1v9M1039.43 1333.6v-9M1057.3 748.1v9M1057.3 1333.6v-9M642.25 1333.68h9M1057.45 1333.68h-9M642.25 1310.01h9M1057.45 1310.01h-9M642.25 1290.68h9M1057.45 1290.68h-9M642.25 1274.33h9M1057.45 1274.33h-9M642.25 1260.17h9M1057.45 1260.17h-9M642.25 1247.67h9M1057.45 1247.67h-9M642.25 1236.5h18.3M1057.45 1236.5h-18.3M642.25 1162.99h9M1057.45 1162.99h-9M642.25 1119.99h9M1057.45 1119.99h-9M642.25 1089.48h9M1057.45 1089.48h-9M642.25 1065.81h9M1057.45 1065.81h-9M642.25 1046.48h9M1057.45 1046.48h-9M642.25 1030.13h9M1057.45 1030.13h-9M642.25 1015.97h9M1057.45 1015.97h-9M642.25 1003.47h9M1057.45 1003.47h-9M642.25 992.3h18.3M1057.45 992.3h-18.3M642.25 918.79h9M1057.45 918.79h-9M642.25 875.79h9M1057.45 875.79h-9M642.25 845.28h9M1057.45 845.28h-9M642.25 821.61h9M1057.45 821.61h-9M642.25 802.28h9M1057.45 802.28h-9M642.25 785.93h9M1057.45 785.93h-9M642.25 771.77h9M1057.45 771.77h-9M642.25 759.27h9M1057.45 759.27h-9M642.25 748.1h18.3M1057.45 748.1h-18.3" stroke="#000" stroke-width="1.8" fill="none"/>
<rect x="642.25" y="748.1" width="415.2" height="585.5" fill="none" stroke="#000" stroke-width="1.85" stroke-linejoin="round"/>
<text transform="translate(591.65 1248.7) scale(0.960 1)" font-size="28" letter-spacing="-1.2" stroke-width="0.45">10</text>
<text transform="translate(622.85 1240.7) scale(0.950 1)" font-size="24" stroke-width="0.45">2</text>
<text transform="translate(591.65 1004.5) scale(0.960 1)" font-size="28" letter-spacing="-1.2" stroke-width="0.45">10</text>
<text transform="translate(622.85 996.5) scale(0.950 1)" font-size="24" stroke-width="0.45">3</text>
<text transform="translate(591.65 760.3) scale(0.960 1)" font-size="28" letter-spacing="-1.2" stroke-width="0.45">10</text>
<text transform="translate(622.85 752.3) scale(0.950 1)" font-size="24" stroke-width="0.45">4</text>
<text transform="translate(683.75 1369.6) scale(0.980 1)" font-size="28" text-anchor="middle" stroke-width="0.45">.1</text>
<text transform="translate(828.05 1369.6) scale(0.980 1)" font-size="28" text-anchor="middle" stroke-width="0.45">1</text>
<text transform="translate(971.15 1369.6) scale(0.980 1)" font-size="28" text-anchor="middle" stroke-width="0.45">10</text>
<text transform="translate(848.95 1404.2) scale(1.030 1)" font-size="35.5" text-anchor="middle" stroke-width="0.45">Frequency (Hz)</text>
<text transform="translate(572.15 1045.3) rotate(-90) scale(0.949 1)" font-size="36.3" text-anchor="middle" stroke-width="0.45">Lg-wave Q</text>
<text transform="translate(681.65 817.9) scale(1.035 1)" font-size="40" stroke-width="0.45">(e)</text>
<rect x="941" y="1105.4" width="83.5" height="146.2" rx="1.5" fill="#fff" stroke="#000" stroke-width="1.5"/>
<circle cx="953.4" cy="1129" r="3.7" fill="none" stroke="#000" stroke-width="1.6"/>
<text transform="translate(968.6 1138.6) scale(0.960 1)" font-size="29" stroke-width="0.45">Ap</text>
<rect x="949.75" y="1154.05" width="7.3" height="7.3" rx="1" fill="none" stroke="#000" stroke-width="1.6"/>
<text transform="translate(968.6 1167.3) scale(0.960 1)" font-size="29" stroke-width="0.45">Su</text>
<path d="M953.4 1182.4L957.7 1190.1L949.1 1190.1Z" fill="none" stroke="#000" stroke-width="1.6" stroke-linejoin="round"/>
<text transform="translate(968.6 1196.8) scale(0.960 1)" font-size="29" stroke-width="0.45">Gr</text>
<circle cx="953.4" cy="1216.4" r="3.3" fill="#000" stroke="#000" stroke-width="1"/>
<text transform="translate(968.6 1226) scale(0.960 1)" font-size="29" stroke-width="0.45">SR</text>
</g>
<g id="panel-f">
<path d="M1187 1294.26L1602 884.93" stroke="#000" stroke-width="1.75" fill="none"/>
<path d="M1508.8 938H1583.2M1546 916V960M1508.8 932.8v10.4M1583.2 932.8v10.4M1540.6 916h10.8M1540.6 960h10.8M1343.7 1114H1416.9M1380.3 1078.9V1149.1M1343.7 1108.8v10.4M1416.9 1108.8v10.4M1374.9 1078.9h10.8M1374.9 1149.1h10.8M1282.7 1172.8H1311.3M1297 1143V1202.6M1282.7 1167.6v10.4M1311.3 1167.6v10.4M1291.6 1143h10.8M1291.6 1202.6h10.8" stroke="#111" stroke-width="1.6" fill="none"/>
<circle cx="1546" cy="938" r="5.4" fill="none" stroke="#111" stroke-width="1.6"/><rect x="1375" y="1108.7" width="10.6" height="10.6" rx="1.6" fill="none" stroke="#111" stroke-width="1.6"/><path d="M1297 1165.8L1303 1176.2L1291 1176.2Z" fill="none" stroke="#111" stroke-width="1.6" stroke-linejoin="round"/>
<path d="M1325.33 748v19M1325.33 1333.8v-19M1463.67 748v19M1463.67 1333.8v-19M1187 1187.35h19M1602 1187.35h-19M1187 1040.9h19M1602 1040.9h-19M1187 894.45h19M1602 894.45h-19" stroke="#000" stroke-width="1.6" fill="none"/>
<rect x="1187" y="748" width="415" height="585.8" fill="none" stroke="#000" stroke-width="1.8" stroke-linejoin="round"/>
<text transform="translate(1171.4 1345.4) scale(0.980 1)" font-size="28" text-anchor="end" stroke-width="0.45">30</text>
<text transform="translate(1171.4 1198.95) scale(0.980 1)" font-size="28" text-anchor="end" stroke-width="0.45">40</text>
<text transform="translate(1171.4 1052.5) scale(0.980 1)" font-size="28" text-anchor="end" stroke-width="0.45">50</text>
<text transform="translate(1171.4 906.05) scale(0.980 1)" font-size="28" text-anchor="end" stroke-width="0.45">60</text>
<text transform="translate(1171.4 759.6) scale(0.980 1)" font-size="28" text-anchor="end" stroke-width="0.45">70</text>
<text transform="translate(1186.2 1370) scale(0.980 1)" font-size="28" text-anchor="middle" stroke-width="0.45">0</text>
<text transform="translate(1324.53 1370) scale(0.980 1)" font-size="28" text-anchor="middle" stroke-width="0.45">1</text>
<text transform="translate(1462.87 1370) scale(0.980 1)" font-size="28" text-anchor="middle" stroke-width="0.45">2</text>
<text transform="translate(1601.2 1370) scale(0.980 1)" font-size="28" text-anchor="middle" stroke-width="0.45">3</text>
<text transform="translate(1140.4 1404) scale(1.032 1)" font-size="35.5" stroke-width="0.45">Average Heat Generation (uWm<tspan font-size="24" dy="-11.5">-3</tspan><tspan dy="11.5">)</tspan></text>
<text transform="translate(1123.8 1240.2) rotate(-90) scale(0.936 1)" font-size="36.3" stroke-width="0.45">Average Heat Flow (mWm<tspan font-size="24" dy="-11.5">-2</tspan><tspan dy="11.5">)</tspan></text>
<text transform="translate(1227.6 816.3) scale(1.035 1)" font-size="40" stroke-width="0.45">(f)</text>
<rect x="1485.7" y="1134.8" width="83.3" height="116.8" rx="1.5" fill="#fff" stroke="#000" stroke-width="1.5"/>
<circle cx="1498.2" cy="1157.7" r="3.7" fill="none" stroke="#000" stroke-width="1.6"/>
<text transform="translate(1513 1167.3) scale(0.960 1)" font-size="29" stroke-width="0.45">Ap</text>
<rect x="1494.55" y="1183.55" width="7.3" height="7.3" rx="1" fill="none" stroke="#000" stroke-width="1.6"/>
<text transform="translate(1513 1196.8) scale(0.960 1)" font-size="29" stroke-width="0.45">Su</text>
<path d="M1498.2 1211.6L1502.5 1219.3L1493.9 1219.3Z" fill="none" stroke="#000" stroke-width="1.6" stroke-linejoin="round"/>
<text transform="translate(1513 1226) scale(0.960 1)" font-size="29" stroke-width="0.45">Gr</text>
</g>
</svg>
</body></html>
